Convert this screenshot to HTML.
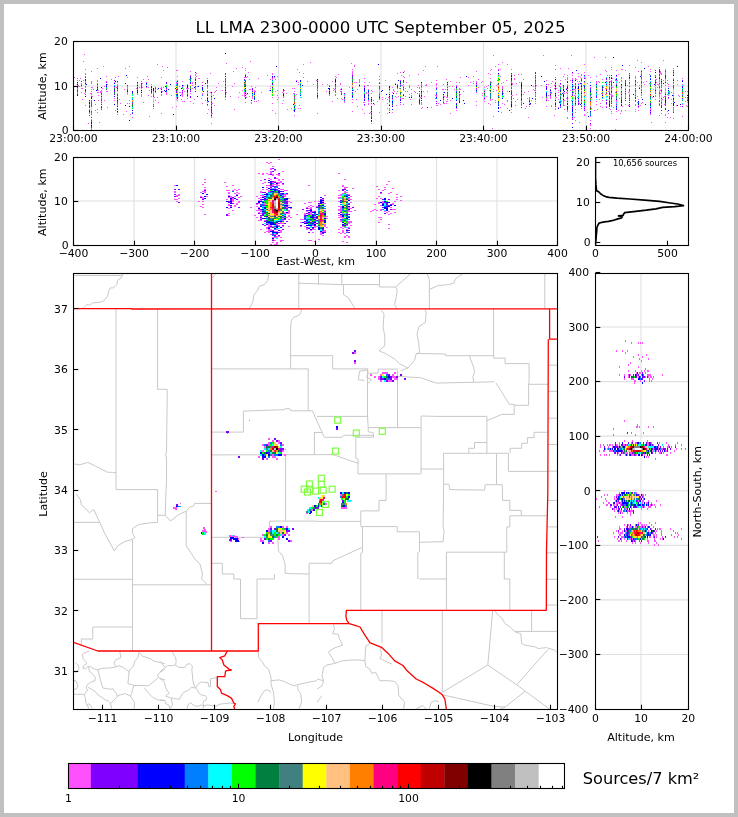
<!DOCTYPE html>
<html><head><meta charset="utf-8"><style>
html,body{margin:0;padding:0;background:#c0c0c0;}
#f{position:absolute;left:4px;top:4px;width:730px;height:809px;background:#fff;}
svg{position:absolute;left:0;top:0;will-change:transform;}
text{font-family:"DejaVu Sans","Liberation Sans",sans-serif;fill:#000;}
</style></head><body><div id="f"></div>
<svg width="738" height="817" viewBox="0 0 738 817">
<defs>
<clipPath id="c1"><rect x="73.5" y="41.5" width="615.00" height="89.00"/></clipPath>
<clipPath id="c2"><rect x="73.5" y="157.5" width="484.00" height="88.00"/></clipPath>
<clipPath id="c3"><rect x="595.5" y="157.5" width="93.00" height="88.00"/></clipPath>
<clipPath id="c4"><rect x="73.5" y="273.5" width="484.00" height="436.00"/></clipPath>
<clipPath id="c5"><rect x="595.5" y="273.5" width="93.00" height="436.00"/></clipPath>
</defs>
<line x1="176.00" y1="41.50" x2="176.00" y2="130.50" stroke="#e0e0e0" stroke-width="1.1" />
<line x1="278.50" y1="41.50" x2="278.50" y2="130.50" stroke="#e0e0e0" stroke-width="1.1" />
<line x1="381.00" y1="41.50" x2="381.00" y2="130.50" stroke="#e0e0e0" stroke-width="1.1" />
<line x1="483.50" y1="41.50" x2="483.50" y2="130.50" stroke="#e0e0e0" stroke-width="1.1" />
<line x1="586.00" y1="41.50" x2="586.00" y2="130.50" stroke="#e0e0e0" stroke-width="1.1" />
<line x1="73.50" y1="86.00" x2="688.50" y2="86.00" stroke="#e0e0e0" stroke-width="1.1" />
<line x1="134.00" y1="157.50" x2="134.00" y2="245.50" stroke="#e0e0e0" stroke-width="1.1" />
<line x1="194.50" y1="157.50" x2="194.50" y2="245.50" stroke="#e0e0e0" stroke-width="1.1" />
<line x1="255.00" y1="157.50" x2="255.00" y2="245.50" stroke="#e0e0e0" stroke-width="1.1" />
<line x1="315.50" y1="157.50" x2="315.50" y2="245.50" stroke="#e0e0e0" stroke-width="1.1" />
<line x1="376.00" y1="157.50" x2="376.00" y2="245.50" stroke="#e0e0e0" stroke-width="1.1" />
<line x1="436.50" y1="157.50" x2="436.50" y2="245.50" stroke="#e0e0e0" stroke-width="1.1" />
<line x1="497.00" y1="157.50" x2="497.00" y2="245.50" stroke="#e0e0e0" stroke-width="1.1" />
<line x1="73.50" y1="201.00" x2="557.50" y2="201.00" stroke="#e0e0e0" stroke-width="1.1" />
<line x1="641.00" y1="273.50" x2="641.00" y2="709.50" stroke="#e0e0e0" stroke-width="1.1" />
<line x1="595.50" y1="654.49" x2="688.50" y2="654.49" stroke="#e0e0e0" stroke-width="1.1" />
<line x1="595.50" y1="599.91" x2="688.50" y2="599.91" stroke="#e0e0e0" stroke-width="1.1" />
<line x1="595.50" y1="545.33" x2="688.50" y2="545.33" stroke="#e0e0e0" stroke-width="1.1" />
<line x1="595.50" y1="490.75" x2="688.50" y2="490.75" stroke="#e0e0e0" stroke-width="1.1" />
<line x1="595.50" y1="436.17" x2="688.50" y2="436.17" stroke="#e0e0e0" stroke-width="1.1" />
<line x1="595.50" y1="381.59" x2="688.50" y2="381.59" stroke="#e0e0e0" stroke-width="1.1" />
<line x1="595.50" y1="327.01" x2="688.50" y2="327.01" stroke="#e0e0e0" stroke-width="1.1" />
<g clip-path="url(#c4)">
<polyline points="73.5,275.5 122.6,275.5" fill="none" stroke="#c8c8c8" stroke-width="1.0" stroke-linejoin="round" />
<polyline points="124.5,273.5 122.6,274.7 121.0,278.0 117.6,280.4 116.8,284.6 113.5,287.9 110.2,287.9 108.5,291.2 107.7,296.1 103.6,301.1 99.5,302.4 92.8,302.8 89.5,305.2 87.0,304.4 85.4,306.1 83.7,307.7 82.0,308.7" fill="none" stroke="#c8c8c8" stroke-width="1.0" stroke-linejoin="round" />
<polyline points="116.0,308.7 116.0,473.1" fill="none" stroke="#c8c8c8" stroke-width="1.0" stroke-linejoin="round" />
<polyline points="157.6,308.7 157.6,389.3 167.2,389.3 167.2,398.0 166.5,452.0 165.7,455.0 166.5,458.0 166.5,480.0 165.9,493.0" fill="none" stroke="#c8c8c8" stroke-width="1.0" stroke-linejoin="round" />
<polyline points="212.4,278.0 215.7,273.8" fill="none" stroke="#c8c8c8" stroke-width="1.0" stroke-linejoin="round" />
<polyline points="268.6,273.8 267.7,280.4 264.4,284.6 259.5,286.2 257.0,291.2 253.7,295.3 252.9,301.9 250.4,306.9 248.7,308.6" fill="none" stroke="#c8c8c8" stroke-width="1.0" stroke-linejoin="round" />
<polyline points="298.8,273.5 298.8,308.6" fill="none" stroke="#c8c8c8" stroke-width="1.0" stroke-linejoin="round" />
<polyline points="298.8,283.2 341.8,284.6" fill="none" stroke="#c8c8c8" stroke-width="1.0" stroke-linejoin="round" />
<polyline points="301.6,308.8 300.8,312.7 299.1,315.2 293.4,317.6 291.2,320.9 290.6,327.6 290.6,368.9" fill="none" stroke="#c8c8c8" stroke-width="1.0" stroke-linejoin="round" />
<polyline points="211.5,368.9 308.2,368.9 308.2,411.1" fill="none" stroke="#c8c8c8" stroke-width="1.0" stroke-linejoin="round" />
<polyline points="290.6,355.7 332.7,355.7 332.7,368.9 368.2,368.9" fill="none" stroke="#c8c8c8" stroke-width="1.0" stroke-linejoin="round" />
<polyline points="341.8,273.5 341.8,284.6 379.8,284.6" fill="none" stroke="#c8c8c8" stroke-width="1.0" stroke-linejoin="round" />
<polyline points="379.5,273.5 379.5,287.0 395.5,287.0 409.6,274.7 410.5,273.5" fill="none" stroke="#c8c8c8" stroke-width="1.0" stroke-linejoin="round" />
<polyline points="395.5,287.0 397.2,289.5 396.4,296.1 394.7,304.4 396.4,307.7 397.0,308.7" fill="none" stroke="#c8c8c8" stroke-width="1.0" stroke-linejoin="round" />
<polyline points="343.5,284.6 343.5,294.5 348.4,297.8 355.0,308.7" fill="none" stroke="#c8c8c8" stroke-width="1.0" stroke-linejoin="round" />
<polyline points="426.9,273.8 429.4,279.6 429.4,308.7" fill="none" stroke="#c8c8c8" stroke-width="1.0" stroke-linejoin="round" />
<polyline points="429.4,289.5 438.5,285.4 439.0,285.4 448.9,284.6 453.9,282.9 455.5,278.8 458.8,276.3 463.0,273.8" fill="none" stroke="#c8c8c8" stroke-width="1.0" stroke-linejoin="round" />
<polyline points="544.8,273.5 544.8,308.7" fill="none" stroke="#c8c8c8" stroke-width="1.0" stroke-linejoin="round" />
<polyline points="318.5,273.5 318.5,284.6" fill="none" stroke="#c8c8c8" stroke-width="1.0" stroke-linejoin="round" />
<polyline points="381.5,310.2 384.0,314.3 383.1,327.6 384.8,335.8 384.8,345.7 379.0,350.7 386.4,354.0 394.7,359.0 399.7,363.9 407.9,368.0 401.3,370.5" fill="none" stroke="#c8c8c8" stroke-width="1.0" stroke-linejoin="round" />
<polyline points="425.3,309.2 426.1,313.5 425.3,322.6 418.7,326.7 417.0,334.2 418.7,342.4 419.5,352.4 416.2,354.0 414.5,360.6 407.9,368.0" fill="none" stroke="#c8c8c8" stroke-width="1.0" stroke-linejoin="round" />
<polyline points="416.2,353.5 445.6,354.0 445.6,355.7 493.6,355.7" fill="none" stroke="#c8c8c8" stroke-width="1.0" stroke-linejoin="round" />
<polyline points="493.6,308.8 493.6,358.1 505.1,358.1 505.1,363.6 529.1,363.6 529.1,383.0" fill="none" stroke="#c8c8c8" stroke-width="1.0" stroke-linejoin="round" />
<polyline points="469.6,355.7 470.4,359.0 473.7,367.2 474.5,372.2 472.9,376.3 473.7,382.1" fill="none" stroke="#c8c8c8" stroke-width="1.0" stroke-linejoin="round" />
<polyline points="397.5,376.4 420.4,377.7 436.6,383.1 494.5,381.8" fill="none" stroke="#c8c8c8" stroke-width="1.0" stroke-linejoin="round" />
<polyline points="367.6,369.1 367.6,373.2 378.2,373.2 378.2,369.1 397.7,369.1" fill="none" stroke="#c8c8c8" stroke-width="1.0" stroke-linejoin="round" />
<polyline points="359.5,371.2 366.8,370.0 368.0,370.8 366.8,377.3 371.7,379.7 368.5,382.6 366.8,383.8" fill="none" stroke="#c8c8c8" stroke-width="1.0" stroke-linejoin="round" />
<polyline points="359.5,371.2 358.3,379.7 364.4,380.5" fill="none" stroke="#c8c8c8" stroke-width="1.0" stroke-linejoin="round" />
<polyline points="548.1,365.2 557.4,365.2" fill="none" stroke="#c8c8c8" stroke-width="1.0" stroke-linejoin="round" />
<polyline points="74.7,464.0 79.6,464.8 87.9,462.4 94.5,465.7 99.5,468.1 107.7,472.3 112.7,472.3 116.0,473.1" fill="none" stroke="#c8c8c8" stroke-width="1.0" stroke-linejoin="round" />
<polyline points="116.0,473.1 116.0,489.6 157.6,489.6 157.6,522.4" fill="none" stroke="#c8c8c8" stroke-width="1.0" stroke-linejoin="round" />
<polyline points="243.4,411.1 280.0,409.8 284.3,409.8 284.8,408.7 289.8,408.7 290.8,410.8 312.5,410.8 316.5,420.2" fill="none" stroke="#c8c8c8" stroke-width="1.0" stroke-linejoin="round" />
<polyline points="243.4,411.1 243.4,432.1 211.5,432.1" fill="none" stroke="#c8c8c8" stroke-width="1.0" stroke-linejoin="round" />
<polyline points="211.5,454.9 333.1,454.6 358.0,463.3" fill="none" stroke="#c8c8c8" stroke-width="1.0" stroke-linejoin="round" />
<polyline points="285.6,454.9 285.6,521.1" fill="none" stroke="#c8c8c8" stroke-width="1.0" stroke-linejoin="round" />
<polyline points="314.4,432.1 314.4,454.9" fill="none" stroke="#c8c8c8" stroke-width="1.0" stroke-linejoin="round" />
<polyline points="314.3,432.5 322.3,432.5" fill="none" stroke="#c8c8c8" stroke-width="1.0" stroke-linejoin="round" />
<polyline points="367.5,368.9 367.5,416.0 368.2,427.6 420.8,427.6" fill="none" stroke="#c8c8c8" stroke-width="1.0" stroke-linejoin="round" />
<polyline points="317.0,416.4 368.2,416.4" fill="none" stroke="#c8c8c8" stroke-width="1.0" stroke-linejoin="round" />
<polyline points="397.5,370.5 397.5,427.3" fill="none" stroke="#c8c8c8" stroke-width="1.0" stroke-linejoin="round" />
<polyline points="421.1,416.0 421.1,469.0 420.8,473.9" fill="none" stroke="#c8c8c8" stroke-width="1.0" stroke-linejoin="round" />
<polyline points="421.1,416.0 439.0,416.4" fill="none" stroke="#c8c8c8" stroke-width="1.0" stroke-linejoin="round" />
<polyline points="420.8,469.0 443.6,469.0" fill="none" stroke="#c8c8c8" stroke-width="1.0" stroke-linejoin="round" />
<polyline points="368.2,427.6 368.2,431.8 373.2,432.6 373.5,437.2 355.8,437.2 355.8,458.2 358.0,459.0 358.0,473.9 420.3,473.9" fill="none" stroke="#c8c8c8" stroke-width="1.0" stroke-linejoin="round" />
<polyline points="316.5,420.2 324.4,437.3 342.0,437.3 343.5,435.3 373.2,435.3" fill="none" stroke="#c8c8c8" stroke-width="1.0" stroke-linejoin="round" />
<polyline points="386.1,473.9 386.1,500.4 379.0,500.4 379.0,510.9 360.8,510.9 360.8,526.1" fill="none" stroke="#c8c8c8" stroke-width="1.0" stroke-linejoin="round" />
<polyline points="496.0,383.0 509.3,404.2 514.2,404.5 514.2,414.4 501.8,414.4 486.9,420.7" fill="none" stroke="#c8c8c8" stroke-width="1.0" stroke-linejoin="round" />
<polyline points="528.6,383.0 528.6,405.3 514.2,405.3" fill="none" stroke="#c8c8c8" stroke-width="1.0" stroke-linejoin="round" />
<polyline points="528.6,384.3 548.0,384.3" fill="none" stroke="#c8c8c8" stroke-width="1.0" stroke-linejoin="round" />
<polyline points="439.0,416.4 486.9,416.4 486.9,453.3" fill="none" stroke="#c8c8c8" stroke-width="1.0" stroke-linejoin="round" />
<polyline points="443.6,453.3 508.4,453.3" fill="none" stroke="#c8c8c8" stroke-width="1.0" stroke-linejoin="round" />
<polyline points="468.8,453.3 468.8,448.3 474.5,448.3 474.5,442.5 486.9,442.5" fill="none" stroke="#c8c8c8" stroke-width="1.0" stroke-linejoin="round" />
<polyline points="510.1,453.3 510.1,448.3 521.7,448.3 521.7,443.3 527.4,443.3 527.4,437.6 534.1,437.6 534.1,432.3 547.3,432.3" fill="none" stroke="#c8c8c8" stroke-width="1.0" stroke-linejoin="round" />
<polyline points="508.4,453.3 508.4,471.4 547.5,471.4" fill="none" stroke="#c8c8c8" stroke-width="1.0" stroke-linejoin="round" />
<polyline points="496.5,453.3 496.5,484.7" fill="none" stroke="#c8c8c8" stroke-width="1.0" stroke-linejoin="round" />
<polyline points="443.6,453.3 443.6,484.2 448.9,484.2 449.7,489.6 484.5,490.1 485.3,484.7 502.3,484.7 502.6,500.4 509.8,500.4 509.8,510.4 521.2,510.4 521.2,515.8" fill="none" stroke="#c8c8c8" stroke-width="1.0" stroke-linejoin="round" />
<polyline points="509.8,515.8 546.8,515.8" fill="none" stroke="#c8c8c8" stroke-width="1.0" stroke-linejoin="round" />
<polyline points="509.8,515.8 509.8,526.9 506.8,526.9 506.8,552.2 446.4,552.2 446.4,609.5" fill="none" stroke="#c8c8c8" stroke-width="1.0" stroke-linejoin="round" />
<polyline points="443.6,484.2 443.1,526.9 444.0,531.0 443.1,541.8 439.0,541.8 419.5,542.3" fill="none" stroke="#c8c8c8" stroke-width="1.0" stroke-linejoin="round" />
<polyline points="504.3,552.2 504.3,579.0 509.8,579.0 509.8,610.4" fill="none" stroke="#c8c8c8" stroke-width="1.0" stroke-linejoin="round" />
<polyline points="419.5,579.0 446.4,579.0" fill="none" stroke="#c8c8c8" stroke-width="1.0" stroke-linejoin="round" />
<polyline points="548.0,391.3 557.4,391.3" fill="none" stroke="#c8c8c8" stroke-width="1.0" stroke-linejoin="round" />
<polyline points="548.0,418.2 557.4,418.2" fill="none" stroke="#c8c8c8" stroke-width="1.0" stroke-linejoin="round" />
<polyline points="547.8,444.5 557.4,444.5" fill="none" stroke="#c8c8c8" stroke-width="1.0" stroke-linejoin="round" />
<polyline points="547.6,471.1 557.4,471.1" fill="none" stroke="#c8c8c8" stroke-width="1.0" stroke-linejoin="round" />
<polyline points="547.8,500.4 557.4,500.4" fill="none" stroke="#c8c8c8" stroke-width="1.0" stroke-linejoin="round" />
<polyline points="547.2,526.9 557.4,526.9" fill="none" stroke="#c8c8c8" stroke-width="1.0" stroke-linejoin="round" />
<polyline points="546.5,552.8 557.4,552.8" fill="none" stroke="#c8c8c8" stroke-width="1.0" stroke-linejoin="round" />
<polyline points="546.3,579.3 557.4,579.3" fill="none" stroke="#c8c8c8" stroke-width="1.0" stroke-linejoin="round" />
<polyline points="546.5,605.0 557.4,605.0" fill="none" stroke="#c8c8c8" stroke-width="1.0" stroke-linejoin="round" />
<polyline points="76.3,493.8 80.4,499.6 81.3,504.6 89.5,512.8 93.7,509.5 99.5,521.9 104.4,532.7 114.3,550.9 117.6,545.9 124.2,541.8 132.5,539.3 135.0,537.6 132.5,533.5 132.5,528.5 139.1,524.4 150.7,522.8 157.6,522.4" fill="none" stroke="#c8c8c8" stroke-width="1.0" stroke-linejoin="round" />
<polyline points="73.5,522.4 99.5,522.4" fill="none" stroke="#c8c8c8" stroke-width="1.0" stroke-linejoin="round" />
<polyline points="165.9,493.0 165.2,515.3 157.6,515.3" fill="none" stroke="#c8c8c8" stroke-width="1.0" stroke-linejoin="round" />
<polyline points="165.2,515.3 170.5,521.1 178.8,514.5 186.3,511.1 189.8,507.1 193.8,505.9 194.4,503.4" fill="none" stroke="#c8c8c8" stroke-width="1.0" stroke-linejoin="round" />
<polyline points="132.5,539.3 132.5,651.0" fill="none" stroke="#c8c8c8" stroke-width="1.0" stroke-linejoin="round" />
<polyline points="73.5,579.3 132.5,579.3" fill="none" stroke="#c8c8c8" stroke-width="1.0" stroke-linejoin="round" />
<polyline points="132.5,584.8 210.7,584.8" fill="none" stroke="#c8c8c8" stroke-width="1.0" stroke-linejoin="round" />
<polyline points="186.2,511.2 186.2,545.9 195.0,559.1 200.0,564.1 202.4,574.0 201.6,579.0 207.4,584.8" fill="none" stroke="#c8c8c8" stroke-width="1.0" stroke-linejoin="round" />
<polyline points="194.4,503.4 211.5,503.4" fill="none" stroke="#c8c8c8" stroke-width="1.0" stroke-linejoin="round" />
<polyline points="211.5,537.3 264.4,537.3" fill="none" stroke="#c8c8c8" stroke-width="1.0" stroke-linejoin="round" />
<polyline points="269.4,521.1 317.0,521.1" fill="none" stroke="#c8c8c8" stroke-width="1.0" stroke-linejoin="round" />
<polyline points="269.4,521.1 269.4,537.3" fill="none" stroke="#c8c8c8" stroke-width="1.0" stroke-linejoin="round" />
<polyline points="277.7,537.6 278.5,550.9 282.6,555.8 285.1,564.1 285.1,573.2 290.9,573.7 309.1,574.0" fill="none" stroke="#c8c8c8" stroke-width="1.0" stroke-linejoin="round" />
<polyline points="274.4,574.0 274.4,579.0 257.0,579.0 257.0,618.7 240.5,618.7 240.5,579.0 233.8,579.0 233.8,574.0 222.3,574.0 222.3,563.3 211.5,563.3" fill="none" stroke="#c8c8c8" stroke-width="1.0" stroke-linejoin="round" />
<polyline points="309.1,563.3 309.1,623.7" fill="none" stroke="#c8c8c8" stroke-width="1.0" stroke-linejoin="round" />
<polyline points="309.1,563.3 317.0,563.3" fill="none" stroke="#c8c8c8" stroke-width="1.0" stroke-linejoin="round" />
<polyline points="317.0,521.4 360.8,521.4" fill="none" stroke="#c8c8c8" stroke-width="1.0" stroke-linejoin="round" />
<polyline points="360.8,526.6 397.2,526.6 397.2,531.8 419.5,531.8 419.5,551.7 417.8,552.5 417.8,579.0" fill="none" stroke="#c8c8c8" stroke-width="1.0" stroke-linejoin="round" />
<polyline points="362.5,526.6 362.5,552.5 360.8,553.3 360.8,610.4" fill="none" stroke="#c8c8c8" stroke-width="1.0" stroke-linejoin="round" />
<polyline points="362.5,547.2 332.7,560.8 331.9,563.3 317.0,563.3" fill="none" stroke="#c8c8c8" stroke-width="1.0" stroke-linejoin="round" />
<polyline points="92.8,627.0 132.5,627.0" fill="none" stroke="#c8c8c8" stroke-width="1.0" stroke-linejoin="round" />
<polyline points="92.8,627.0 92.8,639.0 81.3,639.0 81.3,645.5" fill="none" stroke="#c8c8c8" stroke-width="1.0" stroke-linejoin="round" />
<polyline points="382.0,610.4 382.0,642.7" fill="none" stroke="#c8c8c8" stroke-width="1.0" stroke-linejoin="round" />
<polyline points="442.3,610.4 442.3,692.3" fill="none" stroke="#c8c8c8" stroke-width="1.0" stroke-linejoin="round" />
<polyline points="492.7,610.4 487.8,665.0 442.3,692.3" fill="none" stroke="#c8c8c8" stroke-width="1.0" stroke-linejoin="round" />
<polyline points="487.8,665.0 516.7,684.8 549.8,709.3" fill="none" stroke="#c8c8c8" stroke-width="1.0" stroke-linejoin="round" />
<polyline points="516.7,684.8 548.1,649.3" fill="none" stroke="#c8c8c8" stroke-width="1.0" stroke-linejoin="round" />
<polyline points="525.0,691.4 505.1,707.1 500.0,709.3" fill="none" stroke="#c8c8c8" stroke-width="1.0" stroke-linejoin="round" />
<polyline points="442.3,694.8 493.6,706.3 505.1,707.1" fill="none" stroke="#c8c8c8" stroke-width="1.0" stroke-linejoin="round" />
<polyline points="494.4,610.4 498.5,615.4 501.8,617.9 505.1,623.7 510.1,627.0 515.0,631.9 520.8,633.6 521.7,643.5 525.0,645.2 534.9,646.8 538.2,648.5 546.5,647.6 554.7,650.1 557.4,652.6" fill="none" stroke="#c8c8c8" stroke-width="1.0" stroke-linejoin="round" />
<polyline points="515.0,631.4 557.4,631.4" fill="none" stroke="#c8c8c8" stroke-width="1.0" stroke-linejoin="round" />
<polyline points="531.6,610.4 531.6,631.4" fill="none" stroke="#c8c8c8" stroke-width="1.0" stroke-linejoin="round" />
<polyline points="89.2,651.0 84.2,653.1 82.4,654.4 83.0,658.7 85.5,661.2 86.7,663.7 83.6,665.6 83.0,668.1 85.5,668.7 87.3,666.8 89.2,666.2 91.7,667.4 94.2,668.7 96.7,669.9" fill="none" stroke="#c8c8c8" stroke-width="1.0" stroke-linejoin="round" />
<polyline points="75.5,662.5 78.0,665.0 79.2,668.7 76.7,671.8 74.9,672.4" fill="none" stroke="#c8c8c8" stroke-width="1.0" stroke-linejoin="round" />
<polyline points="73.0,679.9 76.1,681.2 78.0,686.1 76.7,688.6 73.0,689.9" fill="none" stroke="#c8c8c8" stroke-width="1.0" stroke-linejoin="round" />
<polyline points="88.6,666.2 89.2,671.2 92.3,673.7 95.4,677.4 94.8,681.2 93.0,681.2 90.5,682.4 87.3,684.9 86.1,688.0 88.0,689.9 85.5,692.4 84.2,694.9 85.5,698.6 86.1,703.6 88.0,706.1 88.6,708.6" fill="none" stroke="#c8c8c8" stroke-width="1.0" stroke-linejoin="round" />
<polyline points="96.7,669.9 102.9,668.1 109.2,668.1 114.1,667.4 116.0,666.8 119.1,665.6 122.9,667.4 126.6,669.9 129.1,671.8" fill="none" stroke="#c8c8c8" stroke-width="1.0" stroke-linejoin="round" />
<polyline points="119.8,651.9 121.0,657.5 115.4,660.0 114.1,663.7 116.0,666.8" fill="none" stroke="#c8c8c8" stroke-width="1.0" stroke-linejoin="round" />
<polyline points="129.1,671.8 128.5,677.4 127.9,683.7 130.4,684.3 134.1,685.5 132.9,688.6 131.6,693.6 130.4,696.1 132.9,699.9 134.7,702.4 134.1,708.6" fill="none" stroke="#c8c8c8" stroke-width="1.0" stroke-linejoin="round" />
<polyline points="139.1,651.9 137.8,657.5 134.7,661.2 133.5,666.2 130.4,668.7 129.1,671.8" fill="none" stroke="#c8c8c8" stroke-width="1.0" stroke-linejoin="round" />
<polyline points="139.1,652.5 142.8,656.2 150.3,658.7 154.0,661.2 160.3,662.5 165.0,663.7" fill="none" stroke="#c8c8c8" stroke-width="1.0" stroke-linejoin="round" />
<polyline points="165.0,668.7 160.3,672.4 157.2,674.9 159.0,678.0 165.0,679.9" fill="none" stroke="#c8c8c8" stroke-width="1.0" stroke-linejoin="round" />
<polyline points="134.1,685.5 145.3,685.5 147.8,686.1 152.8,682.4 157.8,678.0" fill="none" stroke="#c8c8c8" stroke-width="1.0" stroke-linejoin="round" />
<polyline points="144.1,687.4 147.8,692.4 152.8,697.4 157.8,699.9 165.0,700.5" fill="none" stroke="#c8c8c8" stroke-width="1.0" stroke-linejoin="round" />
<polyline points="97.9,669.9 99.2,674.9 100.4,679.9 102.3,686.1 102.9,688.0 106.7,688.6 110.4,689.3 112.9,688.6 114.1,691.1 116.0,692.4 117.3,696.1 120.4,694.9 125.4,693.6 130.4,696.1" fill="none" stroke="#c8c8c8" stroke-width="1.0" stroke-linejoin="round" />
<polyline points="88.0,687.4 91.7,689.3 94.8,691.1 97.9,694.9 101.7,697.4 105.4,699.9 108.5,701.1 110.4,703.6 111.7,708.6" fill="none" stroke="#c8c8c8" stroke-width="1.0" stroke-linejoin="round" />
<polyline points="110.4,703.6 114.1,699.9 116.6,697.4 117.3,696.1" fill="none" stroke="#c8c8c8" stroke-width="1.0" stroke-linejoin="round" />
<polyline points="73.0,694.3 83.6,694.3" fill="none" stroke="#c8c8c8" stroke-width="1.0" stroke-linejoin="round" />
<polyline points="86.7,706.1 88.6,703.6 91.1,706.1 92.3,708.6" fill="none" stroke="#c8c8c8" stroke-width="1.0" stroke-linejoin="round" />
<polyline points="172.5,651.2 173.7,655.0 175.6,657.5 176.2,661.2 175.6,665.0 172.5,665.6 167.5,665.6 165.0,667.4 162.5,669.9 160.0,671.8" fill="none" stroke="#c8c8c8" stroke-width="1.0" stroke-linejoin="round" />
<polyline points="160.0,661.2 161.9,663.7 165.0,667.4" fill="none" stroke="#c8c8c8" stroke-width="1.0" stroke-linejoin="round" />
<polyline points="175.6,665.0 178.7,667.4 184.9,667.4 186.8,664.3 189.9,663.7 192.4,666.2 191.8,669.9 192.4,674.9 193.0,681.2 194.3,686.1 195.5,688.0" fill="none" stroke="#c8c8c8" stroke-width="1.0" stroke-linejoin="round" />
<polyline points="195.5,688.0 197.4,684.9 201.1,681.8 203.6,682.4 208.0,682.4 208.6,686.1 210.5,686.8 210.5,678.7 214.9,678.0 216.7,678.0" fill="none" stroke="#c8c8c8" stroke-width="1.0" stroke-linejoin="round" />
<polyline points="195.5,688.0 191.2,687.4 188.7,689.9 184.9,691.8 182.4,693.6 181.2,696.1 179.3,699.2 173.7,698.6 171.2,698.0" fill="none" stroke="#c8c8c8" stroke-width="1.0" stroke-linejoin="round" />
<polyline points="195.5,688.0 197.4,689.9 198.7,693.0 201.1,694.9 204.9,695.5 206.8,697.4 206.1,699.9 203.6,701.1 203.0,703.6 203.6,706.1 203.0,708.6" fill="none" stroke="#c8c8c8" stroke-width="1.0" stroke-linejoin="round" />
<polyline points="160.0,678.7 162.5,679.9 164.4,682.4 165.6,687.4 167.5,691.1 169.4,693.0 166.9,694.9 165.6,696.1 169.4,697.4 171.2,698.0 171.8,701.1 172.5,704.9 170.0,708.6" fill="none" stroke="#c8c8c8" stroke-width="1.0" stroke-linejoin="round" />
<polyline points="160.0,699.9 165.0,700.5 165.6,703.6 168.7,704.9 170.0,708.6" fill="none" stroke="#c8c8c8" stroke-width="1.0" stroke-linejoin="round" />
<polyline points="186.8,708.6 188.1,704.9 190.5,702.4 193.0,704.9 194.9,706.1 198.7,706.1 201.1,704.9 203.6,706.1" fill="none" stroke="#c8c8c8" stroke-width="1.0" stroke-linejoin="round" />
<polyline points="203.6,706.1 207.4,704.9 211.1,705.5 216.1,706.1 219.9,704.2 224.8,703.6 229.8,703.0 233.6,703.6" fill="none" stroke="#c8c8c8" stroke-width="1.0" stroke-linejoin="round" />
<polyline points="258.3,650.9 258.6,657.6 262.8,662.5 264.4,665.8 268.6,669.1 271.0,677.4 271.0,684.0 273.5,692.3 274.4,702.2 273.5,708.8" fill="none" stroke="#c8c8c8" stroke-width="1.0" stroke-linejoin="round" />
<polyline points="271.0,680.7 279.3,679.9 284.3,681.5 289.2,684.0 294.2,685.7 300.8,684.0 307.4,682.4 317.0,680.7" fill="none" stroke="#c8c8c8" stroke-width="1.0" stroke-linejoin="round" />
<polyline points="297.5,685.7 298.3,690.6 300.8,693.9 301.6,702.2 299.1,708.8" fill="none" stroke="#c8c8c8" stroke-width="1.0" stroke-linejoin="round" />
<polyline points="257.8,702.2 261.1,695.6 264.4,690.6 267.7,689.8 271.0,692.3" fill="none" stroke="#c8c8c8" stroke-width="1.0" stroke-linejoin="round" />
<polyline points="333.5,624.5 334.4,629.5 332.7,633.6 338.5,634.4 339.3,638.5 342.6,645.2 335.2,647.6 329.4,650.9 328.6,652.6 331.9,657.6 335.2,663.3 341.8,660.9 351.7,660.0 360.0,660.0 364.9,660.9 365.8,646.0 369.9,643.5" fill="none" stroke="#c8c8c8" stroke-width="1.0" stroke-linejoin="round" />
<polyline points="364.9,660.9 365.8,666.6 369.9,669.1 371.6,673.3 375.7,672.4 379.8,680.7 388.1,680.7 394.7,681.5 398.0,685.7 398.8,695.6 404.6,702.2 403.8,708.8" fill="none" stroke="#c8c8c8" stroke-width="1.0" stroke-linejoin="round" />
<polyline points="335.2,663.3 326.9,665.0 323.6,667.5 322.0,675.7 323.6,680.7 322.0,685.7 317.0,689.0" fill="none" stroke="#c8c8c8" stroke-width="1.0" stroke-linejoin="round" />
<polyline points="317.0,679.0 323.6,680.7" fill="none" stroke="#c8c8c8" stroke-width="1.0" stroke-linejoin="round" />
<polyline points="380.6,647.6 381.5,655.9 379.8,658.4 384.8,660.9 392.2,664.2" fill="none" stroke="#c8c8c8" stroke-width="1.0" stroke-linejoin="round" />
<polyline points="322.0,695.6 317.0,702.2" fill="none" stroke="#c8c8c8" stroke-width="1.0" stroke-linejoin="round" />
<polyline points="416.2,708.8 422.8,705.5 426.1,708.8" fill="none" stroke="#c8c8c8" stroke-width="1.0" stroke-linejoin="round" />
<polyline points="429.4,708.8 431.1,702.2 436.0,700.5 439.0,702.2" fill="none" stroke="#c8c8c8" stroke-width="1.0" stroke-linejoin="round" />
<polyline points="73.5,308.6 131.7,308.6 131.7,309.0 557.4,308.8" fill="none" stroke="#ff0000" stroke-width="1.3" stroke-linejoin="round" />
<polyline points="211.5,273.5 211.5,651.0" fill="none" stroke="#ff0000" stroke-width="1.3" stroke-linejoin="round" />
<polyline points="73.5,642.3 97.8,651.0 258.3,651.0 258.3,623.7 349.2,623.7" fill="none" stroke="#ff0000" stroke-width="1.3" stroke-linejoin="round" />
<polyline points="349.2,623.7 346.8,620.4 345.9,616.2 346.4,610.4 546.5,610.4" fill="none" stroke="#ff0000" stroke-width="1.3" stroke-linejoin="round" />
<polyline points="549.6,308.8 549.6,339.2 557.4,339.2" fill="none" stroke="#ff0000" stroke-width="1.3" stroke-linejoin="round" />
<polyline points="548.3,339.2 547.8,493.0 546.5,550.9 546.3,610.4" fill="none" stroke="#ff0000" stroke-width="1.3" stroke-linejoin="round" />
<polyline points="349.2,623.7 355.0,625.3 360.0,627.0 364.9,635.2 369.9,642.7 374.0,644.3 381.5,647.3 388.1,653.4 394.7,660.9 403.0,665.5 407.1,670.8 416.2,679.0 424.5,683.2 432.7,688.1 439.0,692.3 442.3,694.8 444.8,698.9 445.6,703.8 446.4,709.3" fill="none" stroke="#ff0000" stroke-width="1.3" stroke-linejoin="round" />
<polyline points="227.2,651.0 224.8,655.9 219.8,657.6 222.3,660.0 223.9,665.0 228.9,669.1 231.4,670.0 225.6,670.8 224.8,676.6 217.3,676.6 217.3,686.5 220.6,689.8 221.5,693.1 227.2,695.6 231.4,698.1 233.8,703.0 235.5,703.8 233.8,706.3 234.7,709.3" fill="none" stroke="#ff0000" stroke-width="1.3" stroke-linejoin="round" />
</g>
<g clip-path="url(#c2)" shape-rendering="crispEdges">
<path fill="#ff50ff" d="M277.5 158.5h2v1h-2zM265.5 161.5h2v1h-2zM269.5 161.5h2v1h-2zM267.5 162.5h2v1h-2zM271.5 165.5h2v1h-2zM269.5 167.5h2v1h-2zM269.5 168.5h2v1h-2zM273.5 169.5h2v1h-2zM269.5 170.5h2v1h-2zM281.5 170.5h2v1h-2zM269.5 171.5h2v1h-2zM257.5 172.5h2v1h-2zM261.5 172.5h2v1h-2zM265.5 172.5h2v1h-2zM269.5 172.5h2v1h-2zM337.5 172.5h2v1h-2zM261.5 173.5h2v1h-2zM267.5 173.5h2v1h-2zM271.5 173.5h2v1h-2zM275.5 173.5h4v1h-4zM271.5 174.5h2v1h-2zM277.5 174.5h2v1h-2zM267.5 177.5h2v1h-2zM275.5 177.5h2v1h-2zM203.5 178.5h2v1h-2zM269.5 178.5h2v1h-2zM277.5 178.5h2v1h-2zM281.5 178.5h2v1h-2zM343.5 178.5h2v1h-2zM259.5 179.5h2v1h-2zM277.5 179.5h2v1h-2zM273.5 180.5h2v1h-2zM279.5 180.5h2v1h-2zM387.5 180.5h2v1h-2zM203.5 181.5h2v1h-2zM223.5 181.5h2v1h-2zM263.5 181.5h2v1h-2zM271.5 181.5h2v1h-2zM275.5 181.5h6v1h-6zM261.5 182.5h2v1h-2zM277.5 182.5h2v1h-2zM201.5 183.5h2v1h-2zM271.5 183.5h6v1h-6zM281.5 183.5h2v1h-2zM385.5 183.5h2v1h-2zM173.5 184.5h2v1h-2zM231.5 184.5h2v1h-2zM265.5 184.5h4v1h-4zM271.5 184.5h2v1h-2zM275.5 184.5h4v1h-4zM307.5 184.5h2v1h-2zM341.5 184.5h2v1h-2zM225.5 185.5h2v1h-2zM269.5 185.5h2v1h-2zM341.5 185.5h2v1h-2zM375.5 185.5h2v1h-2zM203.5 186.5h2v1h-2zM265.5 186.5h2v1h-2zM343.5 186.5h4v1h-4zM383.5 186.5h2v1h-2zM269.5 187.5h2v1h-2zM273.5 187.5h2v1h-2zM343.5 187.5h2v1h-2zM351.5 187.5h2v1h-2zM391.5 187.5h2v1h-2zM203.5 188.5h2v1h-2zM233.5 188.5h2v1h-2zM237.5 188.5h2v1h-2zM261.5 188.5h2v1h-2zM265.5 188.5h2v1h-2zM279.5 188.5h4v1h-4zM377.5 188.5h2v1h-2zM383.5 188.5h2v1h-2zM225.5 189.5h4v1h-4zM231.5 189.5h2v1h-2zM235.5 189.5h2v1h-2zM267.5 189.5h2v1h-2zM283.5 189.5h4v1h-4zM337.5 189.5h2v1h-2zM381.5 189.5h2v1h-2zM173.5 190.5h2v1h-2zM201.5 190.5h4v1h-4zM259.5 190.5h2v1h-2zM267.5 190.5h2v1h-2zM343.5 190.5h2v1h-2zM173.5 191.5h2v1h-2zM199.5 191.5h2v1h-2zM203.5 191.5h2v1h-2zM227.5 191.5h2v1h-2zM235.5 191.5h2v1h-2zM259.5 191.5h2v1h-2zM343.5 191.5h4v1h-4zM389.5 191.5h2v1h-2zM227.5 192.5h2v1h-2zM233.5 192.5h2v1h-2zM237.5 192.5h2v1h-2zM341.5 192.5h2v1h-2zM379.5 192.5h2v1h-2zM387.5 192.5h2v1h-2zM177.5 193.5h2v1h-2zM235.5 193.5h2v1h-2zM283.5 193.5h4v1h-4zM339.5 193.5h2v1h-2zM347.5 193.5h2v1h-2zM395.5 193.5h2v1h-2zM175.5 194.5h4v1h-4zM227.5 194.5h2v1h-2zM259.5 194.5h4v1h-4zM283.5 194.5h2v1h-2zM323.5 194.5h2v1h-2zM337.5 194.5h4v1h-4zM175.5 195.5h2v1h-2zM199.5 195.5h2v1h-2zM205.5 195.5h2v1h-2zM229.5 195.5h2v1h-2zM233.5 195.5h2v1h-2zM239.5 195.5h2v1h-2zM255.5 195.5h2v1h-2zM261.5 195.5h2v1h-2zM283.5 195.5h2v1h-2zM349.5 195.5h2v1h-2zM377.5 195.5h2v1h-2zM399.5 195.5h2v1h-2zM201.5 196.5h2v1h-2zM227.5 196.5h4v1h-4zM237.5 196.5h2v1h-2zM259.5 196.5h2v1h-2zM263.5 196.5h2v1h-2zM337.5 196.5h4v1h-4zM395.5 196.5h2v1h-2zM177.5 197.5h2v1h-2zM201.5 197.5h2v1h-2zM231.5 197.5h2v1h-2zM257.5 197.5h2v1h-2zM287.5 197.5h2v1h-2zM337.5 197.5h2v1h-2zM347.5 197.5h2v1h-2zM375.5 197.5h2v1h-2zM379.5 197.5h2v1h-2zM173.5 198.5h4v1h-4zM225.5 198.5h2v1h-2zM231.5 198.5h2v1h-2zM321.5 198.5h2v1h-2zM347.5 198.5h4v1h-4zM395.5 198.5h2v1h-2zM231.5 199.5h2v1h-2zM257.5 199.5h4v1h-4zM285.5 199.5h2v1h-2zM399.5 199.5h2v1h-2zM175.5 200.5h2v1h-2zM197.5 200.5h2v1h-2zM201.5 200.5h2v1h-2zM231.5 200.5h2v1h-2zM237.5 200.5h2v1h-2zM287.5 200.5h2v1h-2zM313.5 200.5h2v1h-2zM317.5 200.5h2v1h-2zM321.5 200.5h2v1h-2zM337.5 200.5h2v1h-2zM381.5 200.5h2v1h-2zM393.5 200.5h2v1h-2zM237.5 201.5h2v1h-2zM289.5 201.5h2v1h-2zM307.5 201.5h4v1h-4zM349.5 201.5h2v1h-2zM377.5 201.5h2v1h-2zM381.5 201.5h2v1h-2zM235.5 202.5h2v1h-2zM257.5 202.5h2v1h-2zM263.5 202.5h2v1h-2zM303.5 202.5h2v1h-2zM321.5 202.5h4v1h-4zM377.5 202.5h2v1h-2zM391.5 202.5h2v1h-2zM201.5 203.5h2v1h-2zM227.5 203.5h2v1h-2zM235.5 203.5h2v1h-2zM255.5 203.5h2v1h-2zM263.5 203.5h2v1h-2zM285.5 203.5h2v1h-2zM317.5 203.5h2v1h-2zM373.5 203.5h2v1h-2zM391.5 203.5h2v1h-2zM227.5 204.5h2v1h-2zM233.5 204.5h2v1h-2zM287.5 204.5h2v1h-2zM309.5 204.5h2v1h-2zM379.5 204.5h2v1h-2zM199.5 205.5h2v1h-2zM229.5 205.5h2v1h-2zM233.5 205.5h2v1h-2zM255.5 205.5h2v1h-2zM307.5 205.5h2v1h-2zM311.5 205.5h2v1h-2zM315.5 205.5h2v1h-2zM337.5 205.5h4v1h-4zM201.5 206.5h2v1h-2zM249.5 206.5h2v1h-2zM257.5 206.5h2v1h-2zM285.5 206.5h2v1h-2zM305.5 206.5h2v1h-2zM309.5 206.5h2v1h-2zM339.5 206.5h2v1h-2zM347.5 206.5h2v1h-2zM389.5 206.5h2v1h-2zM227.5 207.5h2v1h-2zM289.5 207.5h2v1h-2zM307.5 207.5h4v1h-4zM339.5 207.5h2v1h-2zM347.5 207.5h4v1h-4zM257.5 208.5h2v1h-2zM337.5 208.5h4v1h-4zM373.5 208.5h2v1h-2zM379.5 208.5h2v1h-2zM391.5 208.5h4v1h-4zM231.5 209.5h2v1h-2zM255.5 209.5h6v1h-6zM287.5 209.5h2v1h-2zM323.5 209.5h2v1h-2zM337.5 209.5h4v1h-4zM347.5 209.5h2v1h-2zM353.5 209.5h2v1h-2zM371.5 209.5h2v1h-2zM375.5 209.5h2v1h-2zM379.5 209.5h2v1h-2zM259.5 210.5h2v1h-2zM287.5 210.5h2v1h-2zM305.5 210.5h2v1h-2zM311.5 210.5h2v1h-2zM339.5 210.5h2v1h-2zM347.5 210.5h4v1h-4zM369.5 210.5h2v1h-2zM383.5 210.5h2v1h-2zM387.5 210.5h2v1h-2zM257.5 211.5h2v1h-2zM283.5 211.5h2v1h-2zM287.5 211.5h2v1h-2zM309.5 211.5h2v1h-2zM385.5 211.5h2v1h-2zM393.5 211.5h2v1h-2zM227.5 212.5h2v1h-2zM259.5 212.5h2v1h-2zM283.5 212.5h6v1h-6zM303.5 212.5h2v1h-2zM307.5 212.5h4v1h-4zM341.5 212.5h2v1h-2zM389.5 212.5h2v1h-2zM203.5 213.5h2v1h-2zM295.5 213.5h2v1h-2zM303.5 213.5h2v1h-2zM309.5 213.5h2v1h-2zM387.5 213.5h2v1h-2zM227.5 214.5h2v1h-2zM253.5 214.5h2v1h-2zM287.5 214.5h2v1h-2zM337.5 214.5h4v1h-4zM259.5 215.5h2v1h-2zM281.5 215.5h2v1h-2zM287.5 215.5h2v1h-2zM325.5 215.5h2v1h-2zM339.5 215.5h2v1h-2zM255.5 216.5h2v1h-2zM265.5 216.5h2v1h-2zM285.5 216.5h2v1h-2zM289.5 216.5h2v1h-2zM305.5 216.5h2v1h-2zM323.5 216.5h2v1h-2zM337.5 216.5h6v1h-6zM377.5 216.5h4v1h-4zM259.5 217.5h2v1h-2zM281.5 217.5h2v1h-2zM313.5 217.5h2v1h-2zM325.5 217.5h2v1h-2zM341.5 217.5h2v1h-2zM287.5 218.5h2v1h-2zM299.5 218.5h4v1h-4zM379.5 218.5h2v1h-2zM257.5 219.5h4v1h-4zM263.5 219.5h2v1h-2zM281.5 219.5h2v1h-2zM339.5 219.5h2v1h-2zM339.5 220.5h2v1h-2zM347.5 220.5h4v1h-4zM279.5 221.5h2v1h-2zM299.5 221.5h2v1h-2zM303.5 221.5h2v1h-2zM347.5 221.5h4v1h-4zM377.5 221.5h2v1h-2zM265.5 222.5h2v1h-2zM275.5 222.5h2v1h-2zM279.5 222.5h4v1h-4zM313.5 222.5h2v1h-2zM347.5 222.5h2v1h-2zM267.5 223.5h2v1h-2zM275.5 223.5h2v1h-2zM323.5 223.5h2v1h-2zM387.5 223.5h2v1h-2zM267.5 224.5h4v1h-4zM277.5 224.5h2v1h-2zM311.5 224.5h2v1h-2zM323.5 224.5h2v1h-2zM345.5 224.5h2v1h-2zM349.5 224.5h2v1h-2zM267.5 225.5h2v1h-2zM271.5 225.5h2v1h-2zM281.5 225.5h2v1h-2zM287.5 225.5h2v1h-2zM299.5 225.5h2v1h-2zM303.5 225.5h2v1h-2zM313.5 225.5h4v1h-4zM323.5 225.5h2v1h-2zM341.5 225.5h2v1h-2zM265.5 226.5h2v1h-2zM269.5 226.5h2v1h-2zM273.5 226.5h2v1h-2zM307.5 226.5h2v1h-2zM313.5 226.5h2v1h-2zM325.5 226.5h2v1h-2zM339.5 226.5h2v1h-2zM343.5 226.5h2v1h-2zM347.5 226.5h2v1h-2zM265.5 227.5h2v1h-2zM305.5 227.5h2v1h-2zM341.5 227.5h2v1h-2zM387.5 227.5h2v1h-2zM259.5 228.5h2v1h-2zM267.5 228.5h4v1h-4zM275.5 228.5h2v1h-2zM305.5 228.5h2v1h-2zM311.5 228.5h4v1h-4zM337.5 228.5h2v1h-2zM345.5 228.5h2v1h-2zM267.5 229.5h4v1h-4zM279.5 229.5h2v1h-2zM309.5 229.5h2v1h-2zM323.5 229.5h2v1h-2zM341.5 229.5h2v1h-2zM265.5 230.5h4v1h-4zM273.5 230.5h4v1h-4zM279.5 230.5h2v1h-2zM321.5 230.5h4v1h-4zM341.5 230.5h2v1h-2zM345.5 230.5h2v1h-2zM263.5 231.5h2v1h-2zM267.5 231.5h2v1h-2zM279.5 231.5h2v1h-2zM311.5 231.5h2v1h-2zM319.5 231.5h2v1h-2zM337.5 231.5h2v1h-2zM341.5 231.5h2v1h-2zM319.5 232.5h2v1h-2zM339.5 232.5h2v1h-2zM343.5 232.5h2v1h-2zM269.5 233.5h2v1h-2zM273.5 233.5h4v1h-4zM319.5 233.5h2v1h-2zM321.5 234.5h2v1h-2zM345.5 234.5h2v1h-2zM275.5 235.5h4v1h-4zM343.5 235.5h2v1h-2zM347.5 235.5h2v1h-2zM271.5 236.5h6v1h-6zM279.5 236.5h2v1h-2zM343.5 236.5h2v1h-2zM347.5 236.5h2v1h-2zM271.5 238.5h2v1h-2zM317.5 238.5h2v1h-2zM273.5 239.5h2v1h-2zM279.5 239.5h4v1h-4zM307.5 239.5h4v1h-4zM279.5 240.5h2v1h-2zM313.5 240.5h2v1h-2zM341.5 240.5h2v1h-2zM271.5 241.5h2v1h-2zM275.5 241.5h2v1h-2zM345.5 241.5h2v1h-2zM275.5 242.5h2v1h-2zM269.5 243.5h2v1h-2zM273.5 243.5h4v1h-4zM269.5 244.5h2v1h-2zM275.5 244.5h2v1h-2z"/>
<path fill="#8000ff" d="M271.5 167.5h2v1h-2zM273.5 168.5h2v1h-2zM271.5 170.5h2v1h-2zM277.5 172.5h2v1h-2zM269.5 173.5h2v1h-2zM273.5 176.5h2v1h-2zM273.5 177.5h2v1h-2zM263.5 178.5h2v1h-2zM271.5 180.5h2v1h-2zM267.5 181.5h4v1h-4zM273.5 181.5h2v1h-2zM281.5 182.5h2v1h-2zM269.5 184.5h2v1h-2zM271.5 185.5h4v1h-4zM269.5 186.5h2v1h-2zM277.5 187.5h2v1h-2zM173.5 188.5h2v1h-2zM177.5 188.5h2v1h-2zM275.5 188.5h2v1h-2zM341.5 188.5h4v1h-4zM203.5 189.5h2v1h-2zM277.5 189.5h2v1h-2zM341.5 189.5h2v1h-2zM269.5 190.5h2v1h-2zM281.5 190.5h2v1h-2zM261.5 191.5h4v1h-4zM379.5 191.5h2v1h-2zM265.5 192.5h2v1h-2zM279.5 192.5h2v1h-2zM285.5 192.5h2v1h-2zM173.5 193.5h2v1h-2zM281.5 193.5h2v1h-2zM347.5 194.5h2v1h-2zM173.5 195.5h2v1h-2zM281.5 195.5h2v1h-2zM199.5 196.5h2v1h-2zM231.5 196.5h2v1h-2zM281.5 196.5h2v1h-2zM321.5 197.5h2v1h-2zM201.5 198.5h2v1h-2zM229.5 198.5h2v1h-2zM235.5 198.5h2v1h-2zM259.5 198.5h2v1h-2zM263.5 198.5h4v1h-4zM319.5 198.5h2v1h-2zM381.5 198.5h2v1h-2zM387.5 198.5h2v1h-2zM229.5 199.5h2v1h-2zM339.5 199.5h2v1h-2zM227.5 200.5h2v1h-2zM283.5 200.5h4v1h-4zM177.5 201.5h2v1h-2zM227.5 201.5h4v1h-4zM285.5 201.5h2v1h-2zM383.5 201.5h2v1h-2zM231.5 202.5h2v1h-2zM255.5 202.5h2v1h-2zM283.5 202.5h4v1h-4zM317.5 202.5h2v1h-2zM381.5 202.5h2v1h-2zM385.5 202.5h2v1h-2zM259.5 203.5h2v1h-2zM347.5 203.5h2v1h-2zM385.5 203.5h2v1h-2zM389.5 203.5h2v1h-2zM229.5 204.5h2v1h-2zM261.5 204.5h4v1h-4zM387.5 204.5h2v1h-2zM285.5 205.5h2v1h-2zM317.5 205.5h2v1h-2zM237.5 206.5h2v1h-2zM315.5 206.5h2v1h-2zM351.5 206.5h2v1h-2zM381.5 206.5h2v1h-2zM385.5 206.5h2v1h-2zM283.5 207.5h4v1h-4zM305.5 207.5h2v1h-2zM259.5 208.5h2v1h-2zM301.5 208.5h2v1h-2zM309.5 208.5h2v1h-2zM389.5 208.5h2v1h-2zM305.5 209.5h4v1h-4zM309.5 210.5h2v1h-2zM313.5 210.5h2v1h-2zM323.5 210.5h2v1h-2zM263.5 211.5h2v1h-2zM339.5 211.5h2v1h-2zM257.5 212.5h2v1h-2zM261.5 212.5h4v1h-4zM305.5 212.5h2v1h-2zM337.5 212.5h2v1h-2zM383.5 212.5h2v1h-2zM225.5 213.5h2v1h-2zM261.5 213.5h2v1h-2zM307.5 213.5h2v1h-2zM311.5 213.5h2v1h-2zM345.5 213.5h4v1h-4zM225.5 214.5h2v1h-2zM259.5 214.5h4v1h-4zM303.5 214.5h2v1h-2zM313.5 214.5h2v1h-2zM303.5 215.5h2v1h-2zM315.5 215.5h2v1h-2zM259.5 216.5h2v1h-2zM313.5 216.5h2v1h-2zM303.5 217.5h2v1h-2zM315.5 217.5h2v1h-2zM259.5 218.5h2v1h-2zM283.5 218.5h2v1h-2zM339.5 218.5h2v1h-2zM265.5 219.5h2v1h-2zM315.5 219.5h2v1h-2zM263.5 220.5h2v1h-2zM285.5 220.5h2v1h-2zM303.5 220.5h2v1h-2zM313.5 220.5h2v1h-2zM305.5 221.5h2v1h-2zM309.5 221.5h2v1h-2zM277.5 222.5h2v1h-2zM283.5 222.5h2v1h-2zM315.5 222.5h2v1h-2zM261.5 223.5h2v1h-2zM345.5 223.5h2v1h-2zM263.5 224.5h2v1h-2zM275.5 224.5h2v1h-2zM281.5 224.5h2v1h-2zM299.5 224.5h2v1h-2zM341.5 224.5h2v1h-2zM269.5 225.5h2v1h-2zM267.5 226.5h2v1h-2zM305.5 226.5h2v1h-2zM311.5 227.5h2v1h-2zM347.5 227.5h2v1h-2zM281.5 228.5h2v1h-2zM321.5 228.5h2v1h-2zM271.5 229.5h2v1h-2zM347.5 229.5h2v1h-2zM277.5 231.5h2v1h-2zM307.5 231.5h2v1h-2zM323.5 231.5h2v1h-2zM347.5 231.5h2v1h-2zM321.5 232.5h2v1h-2zM271.5 233.5h2v1h-2zM273.5 234.5h2v1h-2zM277.5 234.5h2v1h-2zM271.5 239.5h2v1h-2z"/>
<path fill="#0000ff" d="M267.5 179.5h2v1h-2zM269.5 180.5h2v1h-2zM269.5 182.5h2v1h-2zM275.5 182.5h2v1h-2zM175.5 184.5h2v1h-2zM261.5 186.5h2v1h-2zM267.5 187.5h2v1h-2zM269.5 188.5h6v1h-6zM273.5 189.5h2v1h-2zM271.5 190.5h2v1h-2zM277.5 190.5h4v1h-4zM277.5 191.5h2v1h-2zM201.5 192.5h2v1h-2zM281.5 192.5h2v1h-2zM205.5 193.5h2v1h-2zM263.5 193.5h4v1h-4zM235.5 194.5h2v1h-2zM279.5 194.5h2v1h-2zM203.5 195.5h2v1h-2zM227.5 195.5h2v1h-2zM263.5 195.5h2v1h-2zM345.5 195.5h2v1h-2zM261.5 196.5h2v1h-2zM319.5 196.5h2v1h-2zM203.5 197.5h2v1h-2zM229.5 197.5h2v1h-2zM233.5 197.5h2v1h-2zM263.5 197.5h2v1h-2zM285.5 197.5h2v1h-2zM383.5 197.5h2v1h-2zM261.5 198.5h2v1h-2zM283.5 198.5h4v1h-4zM383.5 198.5h2v1h-2zM319.5 199.5h4v1h-4zM347.5 199.5h2v1h-2zM225.5 200.5h2v1h-2zM229.5 200.5h2v1h-2zM257.5 200.5h4v1h-4zM319.5 200.5h2v1h-2zM383.5 200.5h2v1h-2zM257.5 201.5h2v1h-2zM261.5 201.5h2v1h-2zM319.5 201.5h4v1h-4zM339.5 201.5h2v1h-2zM379.5 201.5h2v1h-2zM385.5 201.5h4v1h-4zM229.5 202.5h2v1h-2zM319.5 202.5h2v1h-2zM381.5 203.5h2v1h-2zM283.5 204.5h4v1h-4zM317.5 204.5h2v1h-2zM321.5 204.5h2v1h-2zM381.5 204.5h2v1h-2zM389.5 204.5h2v1h-2zM393.5 204.5h2v1h-2zM259.5 205.5h2v1h-2zM341.5 205.5h2v1h-2zM347.5 205.5h2v1h-2zM385.5 205.5h4v1h-4zM225.5 206.5h2v1h-2zM229.5 206.5h2v1h-2zM263.5 206.5h2v1h-2zM287.5 206.5h4v1h-4zM341.5 206.5h2v1h-2zM383.5 206.5h2v1h-2zM257.5 207.5h2v1h-2zM263.5 207.5h2v1h-2zM383.5 207.5h4v1h-4zM261.5 208.5h2v1h-2zM347.5 208.5h2v1h-2zM385.5 208.5h2v1h-2zM309.5 209.5h2v1h-2zM385.5 209.5h2v1h-2zM261.5 210.5h2v1h-2zM285.5 211.5h2v1h-2zM307.5 211.5h2v1h-2zM311.5 211.5h4v1h-4zM323.5 212.5h2v1h-2zM315.5 213.5h2v1h-2zM323.5 213.5h2v1h-2zM339.5 213.5h2v1h-2zM305.5 214.5h2v1h-2zM311.5 214.5h2v1h-2zM341.5 214.5h2v1h-2zM265.5 215.5h2v1h-2zM283.5 215.5h2v1h-2zM311.5 215.5h2v1h-2zM341.5 215.5h2v1h-2zM309.5 216.5h4v1h-4zM315.5 216.5h2v1h-2zM347.5 216.5h2v1h-2zM261.5 217.5h4v1h-4zM283.5 217.5h2v1h-2zM323.5 217.5h2v1h-2zM345.5 217.5h2v1h-2zM313.5 218.5h2v1h-2zM305.5 219.5h2v1h-2zM323.5 219.5h2v1h-2zM267.5 220.5h2v1h-2zM277.5 220.5h4v1h-4zM323.5 220.5h2v1h-2zM265.5 221.5h8v1h-8zM275.5 221.5h2v1h-2zM301.5 221.5h2v1h-2zM307.5 221.5h2v1h-2zM313.5 221.5h2v1h-2zM323.5 221.5h2v1h-2zM341.5 221.5h2v1h-2zM269.5 222.5h4v1h-4zM303.5 222.5h4v1h-4zM311.5 222.5h2v1h-2zM343.5 222.5h2v1h-2zM265.5 223.5h2v1h-2zM269.5 223.5h6v1h-6zM313.5 223.5h2v1h-2zM341.5 223.5h2v1h-2zM305.5 224.5h6v1h-6zM313.5 224.5h2v1h-2zM343.5 224.5h2v1h-2zM275.5 225.5h2v1h-2zM275.5 226.5h2v1h-2zM279.5 226.5h2v1h-2zM311.5 226.5h2v1h-2zM317.5 226.5h2v1h-2zM267.5 227.5h2v1h-2zM273.5 227.5h2v1h-2zM307.5 227.5h2v1h-2zM317.5 227.5h2v1h-2zM321.5 227.5h2v1h-2zM309.5 228.5h2v1h-2zM317.5 228.5h2v1h-2zM277.5 229.5h2v1h-2zM345.5 229.5h2v1h-2zM269.5 230.5h4v1h-4zM319.5 230.5h2v1h-2zM271.5 231.5h6v1h-6zM321.5 231.5h2v1h-2zM275.5 232.5h2v1h-2zM271.5 237.5h2v1h-2z"/>
<path fill="#0080ff" d="M271.5 182.5h2v1h-2zM275.5 185.5h2v1h-2zM273.5 186.5h4v1h-4zM275.5 189.5h2v1h-2zM345.5 189.5h2v1h-2zM231.5 190.5h2v1h-2zM267.5 191.5h6v1h-6zM267.5 193.5h4v1h-4zM279.5 193.5h2v1h-2zM345.5 193.5h2v1h-2zM265.5 194.5h2v1h-2zM345.5 194.5h2v1h-2zM265.5 195.5h2v1h-2zM265.5 196.5h2v1h-2zM279.5 196.5h2v1h-2zM347.5 196.5h2v1h-2zM281.5 198.5h2v1h-2zM263.5 199.5h2v1h-2zM261.5 200.5h2v1h-2zM339.5 200.5h2v1h-2zM283.5 201.5h2v1h-2zM347.5 202.5h2v1h-2zM261.5 203.5h2v1h-2zM339.5 203.5h2v1h-2zM259.5 204.5h2v1h-2zM281.5 204.5h2v1h-2zM385.5 204.5h2v1h-2zM283.5 205.5h2v1h-2zM323.5 205.5h2v1h-2zM383.5 205.5h2v1h-2zM261.5 206.5h2v1h-2zM317.5 207.5h2v1h-2zM323.5 207.5h2v1h-2zM341.5 207.5h2v1h-2zM285.5 208.5h2v1h-2zM317.5 208.5h2v1h-2zM341.5 208.5h2v1h-2zM381.5 208.5h2v1h-2zM261.5 209.5h4v1h-4zM341.5 209.5h4v1h-4zM317.5 210.5h2v1h-2zM261.5 211.5h2v1h-2zM317.5 211.5h2v1h-2zM313.5 212.5h2v1h-2zM345.5 212.5h2v1h-2zM283.5 213.5h2v1h-2zM313.5 213.5h2v1h-2zM341.5 213.5h2v1h-2zM345.5 215.5h4v1h-4zM281.5 216.5h2v1h-2zM303.5 216.5h2v1h-2zM265.5 217.5h2v1h-2zM343.5 217.5h2v1h-2zM269.5 218.5h2v1h-2zM279.5 218.5h4v1h-4zM303.5 218.5h4v1h-4zM341.5 218.5h2v1h-2zM347.5 218.5h2v1h-2zM279.5 219.5h2v1h-2zM309.5 219.5h2v1h-2zM341.5 219.5h2v1h-2zM269.5 220.5h2v1h-2zM281.5 220.5h2v1h-2zM305.5 220.5h4v1h-4zM311.5 221.5h2v1h-2zM317.5 221.5h2v1h-2zM267.5 222.5h2v1h-2zM307.5 223.5h6v1h-6zM273.5 225.5h2v1h-2zM277.5 225.5h2v1h-2zM273.5 228.5h2v1h-2zM321.5 229.5h2v1h-2zM345.5 231.5h2v1h-2zM271.5 232.5h2v1h-2zM271.5 234.5h2v1h-2zM273.5 235.5h2v1h-2z"/>
<path fill="#00ffff" d="M271.5 187.5h2v1h-2zM271.5 189.5h2v1h-2zM267.5 192.5h4v1h-4zM283.5 192.5h2v1h-2zM261.5 193.5h2v1h-2zM341.5 193.5h4v1h-4zM267.5 194.5h2v1h-2zM281.5 194.5h2v1h-2zM341.5 194.5h2v1h-2zM267.5 195.5h2v1h-2zM345.5 196.5h2v1h-2zM265.5 197.5h2v1h-2zM279.5 197.5h2v1h-2zM339.5 197.5h2v1h-2zM383.5 199.5h2v1h-2zM261.5 202.5h2v1h-2zM345.5 202.5h2v1h-2zM383.5 202.5h2v1h-2zM283.5 203.5h2v1h-2zM341.5 203.5h2v1h-2zM383.5 203.5h2v1h-2zM341.5 204.5h2v1h-2zM383.5 204.5h2v1h-2zM261.5 205.5h4v1h-4zM321.5 205.5h2v1h-2zM261.5 207.5h2v1h-2zM263.5 208.5h2v1h-2zM283.5 208.5h2v1h-2zM283.5 209.5h2v1h-2zM317.5 209.5h2v1h-2zM383.5 209.5h2v1h-2zM265.5 210.5h2v1h-2zM343.5 212.5h2v1h-2zM263.5 213.5h2v1h-2zM281.5 213.5h2v1h-2zM317.5 213.5h2v1h-2zM283.5 214.5h2v1h-2zM305.5 215.5h2v1h-2zM313.5 215.5h2v1h-2zM343.5 215.5h2v1h-2zM307.5 216.5h2v1h-2zM305.5 217.5h4v1h-4zM265.5 218.5h2v1h-2zM273.5 219.5h6v1h-6zM307.5 219.5h2v1h-2zM345.5 219.5h2v1h-2zM273.5 220.5h2v1h-2zM315.5 220.5h2v1h-2zM263.5 222.5h2v1h-2zM273.5 224.5h2v1h-2zM309.5 225.5h2v1h-2zM317.5 225.5h2v1h-2zM309.5 226.5h2v1h-2zM345.5 226.5h2v1h-2zM275.5 227.5h4v1h-4zM319.5 228.5h2v1h-2zM319.5 229.5h2v1h-2zM273.5 232.5h2v1h-2zM275.5 237.5h2v1h-2z"/>
<path fill="#00ff00" d="M269.5 189.5h2v1h-2zM275.5 190.5h2v1h-2zM343.5 192.5h2v1h-2zM277.5 194.5h2v1h-2zM279.5 195.5h2v1h-2zM341.5 195.5h2v1h-2zM341.5 196.5h2v1h-2zM281.5 197.5h2v1h-2zM265.5 199.5h2v1h-2zM279.5 199.5h2v1h-2zM263.5 200.5h4v1h-4zM385.5 200.5h2v1h-2zM265.5 201.5h2v1h-2zM341.5 201.5h2v1h-2zM265.5 202.5h2v1h-2zM321.5 203.5h2v1h-2zM265.5 205.5h2v1h-2zM265.5 206.5h2v1h-2zM343.5 207.5h2v1h-2zM345.5 208.5h2v1h-2zM285.5 209.5h2v1h-2zM321.5 209.5h2v1h-2zM341.5 210.5h2v1h-2zM323.5 211.5h2v1h-2zM341.5 211.5h2v1h-2zM345.5 211.5h2v1h-2zM265.5 212.5h2v1h-2zM263.5 214.5h4v1h-4zM307.5 214.5h4v1h-4zM317.5 214.5h2v1h-2zM343.5 214.5h2v1h-2zM307.5 215.5h2v1h-2zM323.5 215.5h2v1h-2zM283.5 216.5h2v1h-2zM275.5 217.5h6v1h-6zM309.5 217.5h2v1h-2zM277.5 218.5h2v1h-2zM323.5 218.5h2v1h-2zM343.5 218.5h4v1h-4zM267.5 219.5h2v1h-2zM311.5 219.5h4v1h-4zM341.5 220.5h4v1h-4zM345.5 221.5h2v1h-2zM307.5 222.5h2v1h-2zM345.5 222.5h2v1h-2zM317.5 223.5h2v1h-2zM343.5 223.5h2v1h-2zM343.5 225.5h2v1h-2z"/>
<path fill="#008040" d="M269.5 183.5h2v1h-2zM273.5 190.5h2v1h-2zM271.5 192.5h2v1h-2zM269.5 194.5h2v1h-2zM269.5 195.5h2v1h-2zM343.5 195.5h2v1h-2zM267.5 196.5h2v1h-2zM267.5 197.5h4v1h-4zM283.5 197.5h2v1h-2zM345.5 197.5h2v1h-2zM345.5 198.5h2v1h-2zM283.5 199.5h2v1h-2zM341.5 200.5h2v1h-2zM281.5 201.5h2v1h-2zM345.5 201.5h2v1h-2zM265.5 204.5h2v1h-2zM319.5 204.5h2v1h-2zM343.5 204.5h2v1h-2zM345.5 205.5h2v1h-2zM281.5 206.5h4v1h-4zM317.5 206.5h2v1h-2zM321.5 206.5h2v1h-2zM281.5 207.5h2v1h-2zM321.5 207.5h2v1h-2zM345.5 207.5h2v1h-2zM265.5 208.5h2v1h-2zM263.5 210.5h2v1h-2zM343.5 210.5h2v1h-2zM265.5 211.5h2v1h-2zM267.5 212.5h2v1h-2zM281.5 212.5h2v1h-2zM265.5 213.5h2v1h-2zM281.5 214.5h2v1h-2zM323.5 214.5h2v1h-2zM345.5 214.5h2v1h-2zM263.5 215.5h2v1h-2zM273.5 215.5h2v1h-2zM277.5 215.5h4v1h-4zM309.5 215.5h2v1h-2zM267.5 216.5h2v1h-2zM279.5 216.5h2v1h-2zM345.5 216.5h2v1h-2zM267.5 217.5h2v1h-2zM273.5 217.5h2v1h-2zM311.5 217.5h2v1h-2zM267.5 218.5h2v1h-2zM271.5 218.5h2v1h-2zM307.5 218.5h4v1h-4zM269.5 219.5h4v1h-4zM343.5 219.5h2v1h-2zM265.5 220.5h2v1h-2zM275.5 220.5h2v1h-2zM311.5 220.5h2v1h-2zM273.5 221.5h2v1h-2zM273.5 222.5h2v1h-2zM309.5 222.5h2v1h-2zM317.5 224.5h2v1h-2zM271.5 226.5h2v1h-2zM321.5 226.5h2v1h-2zM319.5 227.5h2v1h-2z"/>
<path fill="#408080" d="M273.5 191.5h4v1h-4zM277.5 192.5h2v1h-2zM271.5 193.5h2v1h-2zM277.5 193.5h2v1h-2zM271.5 194.5h2v1h-2zM343.5 194.5h2v1h-2zM271.5 195.5h2v1h-2zM269.5 196.5h2v1h-2zM341.5 197.5h2v1h-2zM279.5 198.5h2v1h-2zM341.5 198.5h2v1h-2zM281.5 199.5h2v1h-2zM341.5 199.5h2v1h-2zM279.5 200.5h4v1h-4zM345.5 200.5h2v1h-2zM263.5 201.5h2v1h-2zM279.5 203.5h4v1h-4zM345.5 203.5h2v1h-2zM345.5 204.5h2v1h-2zM319.5 205.5h2v1h-2zM319.5 206.5h2v1h-2zM343.5 206.5h4v1h-4zM319.5 207.5h2v1h-2zM279.5 208.5h2v1h-2zM279.5 209.5h2v1h-2zM345.5 209.5h2v1h-2zM281.5 210.5h2v1h-2zM345.5 210.5h2v1h-2zM281.5 211.5h2v1h-2zM321.5 211.5h2v1h-2zM279.5 212.5h2v1h-2zM317.5 212.5h2v1h-2zM279.5 213.5h2v1h-2zM343.5 213.5h2v1h-2zM267.5 214.5h2v1h-2zM269.5 215.5h4v1h-4zM273.5 216.5h4v1h-4zM269.5 217.5h4v1h-4zM311.5 218.5h2v1h-2zM317.5 218.5h2v1h-2zM317.5 219.5h2v1h-2zM271.5 220.5h2v1h-2zM317.5 220.5h2v1h-2zM345.5 220.5h2v1h-2zM317.5 222.5h2v1h-2zM321.5 223.5h2v1h-2zM319.5 226.5h2v1h-2z"/>
<path fill="#ffff00" d="M273.5 193.5h2v1h-2zM343.5 196.5h2v1h-2zM267.5 198.5h4v1h-4zM345.5 199.5h2v1h-2zM343.5 201.5h2v1h-2zM267.5 202.5h2v1h-2zM267.5 203.5h2v1h-2zM319.5 203.5h2v1h-2zM343.5 203.5h2v1h-2zM267.5 204.5h2v1h-2zM267.5 205.5h2v1h-2zM343.5 205.5h2v1h-2zM267.5 206.5h2v1h-2zM281.5 208.5h2v1h-2zM343.5 208.5h2v1h-2zM265.5 209.5h2v1h-2zM281.5 209.5h2v1h-2zM321.5 210.5h2v1h-2zM267.5 211.5h2v1h-2zM279.5 211.5h2v1h-2zM343.5 211.5h2v1h-2zM269.5 213.5h4v1h-4zM279.5 214.5h2v1h-2zM267.5 215.5h2v1h-2zM271.5 216.5h2v1h-2zM317.5 216.5h2v1h-2zM343.5 216.5h2v1h-2zM317.5 217.5h2v1h-2zM273.5 218.5h4v1h-4zM281.5 221.5h2v1h-2zM343.5 221.5h2v1h-2zM323.5 222.5h2v1h-2zM321.5 224.5h2v1h-2zM321.5 225.5h2v1h-2z"/>
<path fill="#ffc080" d="M273.5 192.5h4v1h-4zM271.5 197.5h2v1h-2zM343.5 197.5h2v1h-2zM271.5 198.5h2v1h-2zM269.5 199.5h2v1h-2zM343.5 199.5h2v1h-2zM267.5 200.5h4v1h-4zM267.5 201.5h2v1h-2zM279.5 201.5h2v1h-2zM279.5 202.5h4v1h-4zM341.5 202.5h4v1h-4zM265.5 203.5h2v1h-2zM279.5 204.5h2v1h-2zM279.5 205.5h4v1h-4zM279.5 206.5h2v1h-2zM265.5 207.5h4v1h-4zM267.5 208.5h2v1h-2zM319.5 208.5h4v1h-4zM269.5 209.5h2v1h-2zM319.5 209.5h2v1h-2zM267.5 210.5h4v1h-4zM279.5 210.5h2v1h-2zM269.5 211.5h2v1h-2zM277.5 211.5h2v1h-2zM269.5 212.5h4v1h-4zM277.5 212.5h2v1h-2zM267.5 213.5h2v1h-2zM277.5 213.5h2v1h-2zM269.5 214.5h4v1h-4zM277.5 214.5h2v1h-2zM275.5 215.5h2v1h-2zM269.5 216.5h2v1h-2zM277.5 216.5h2v1h-2zM321.5 216.5h2v1h-2zM321.5 217.5h2v1h-2zM309.5 220.5h2v1h-2zM321.5 221.5h2v1h-2zM321.5 222.5h2v1h-2zM319.5 225.5h2v1h-2z"/>
<path fill="#ff8000" d="M275.5 193.5h2v1h-2zM273.5 194.5h2v1h-2zM277.5 195.5h2v1h-2zM271.5 196.5h2v1h-2zM277.5 196.5h2v1h-2zM343.5 198.5h2v1h-2zM267.5 199.5h2v1h-2zM269.5 201.5h2v1h-2zM269.5 202.5h2v1h-2zM269.5 203.5h2v1h-2zM269.5 204.5h2v1h-2zM269.5 205.5h2v1h-2zM269.5 207.5h2v1h-2zM279.5 207.5h2v1h-2zM269.5 208.5h2v1h-2zM267.5 209.5h2v1h-2zM277.5 210.5h2v1h-2zM319.5 210.5h2v1h-2zM319.5 211.5h2v1h-2zM273.5 213.5h2v1h-2zM275.5 214.5h2v1h-2zM321.5 214.5h2v1h-2zM317.5 215.5h2v1h-2zM321.5 215.5h2v1h-2zM321.5 218.5h2v1h-2zM321.5 220.5h2v1h-2zM319.5 221.5h2v1h-2zM319.5 222.5h2v1h-2zM319.5 223.5h2v1h-2zM319.5 224.5h2v1h-2z"/>
<path fill="#ff0080" d="M277.5 197.5h2v1h-2zM271.5 199.5h2v1h-2zM271.5 200.5h2v1h-2zM343.5 200.5h2v1h-2zM271.5 201.5h2v1h-2zM271.5 202.5h2v1h-2zM269.5 206.5h2v1h-2zM271.5 207.5h2v1h-2zM271.5 208.5h2v1h-2zM271.5 209.5h2v1h-2zM277.5 209.5h2v1h-2zM271.5 210.5h2v1h-2zM271.5 211.5h2v1h-2zM275.5 212.5h2v1h-2zM319.5 212.5h4v1h-4zM319.5 213.5h4v1h-4zM273.5 214.5h2v1h-2zM319.5 215.5h2v1h-2zM319.5 216.5h2v1h-2zM319.5 217.5h2v1h-2zM319.5 219.5h4v1h-4zM319.5 220.5h2v1h-2z"/>
<path fill="#ff0000" d="M275.5 194.5h2v1h-2zM273.5 195.5h2v1h-2zM277.5 198.5h2v1h-2zM277.5 199.5h2v1h-2zM277.5 200.5h2v1h-2zM271.5 203.5h2v1h-2zM271.5 204.5h2v1h-2zM271.5 205.5h2v1h-2zM271.5 206.5h2v1h-2zM277.5 207.5h2v1h-2zM277.5 208.5h2v1h-2zM273.5 212.5h2v1h-2zM275.5 213.5h2v1h-2zM319.5 214.5h2v1h-2zM319.5 218.5h2v1h-2z"/>
<path fill="#c00000" d="M275.5 195.5h2v1h-2zM273.5 196.5h2v1h-2zM277.5 201.5h2v1h-2zM277.5 202.5h2v1h-2zM277.5 203.5h2v1h-2zM277.5 204.5h2v1h-2zM277.5 205.5h2v1h-2zM277.5 206.5h2v1h-2zM273.5 210.5h2v1h-2zM273.5 211.5h4v1h-4z"/>
<path fill="#800000" d="M273.5 197.5h2v1h-2zM273.5 208.5h2v1h-2zM273.5 209.5h2v1h-2zM275.5 210.5h2v1h-2z"/>
<path fill="#000000" d="M275.5 196.5h2v1h-2zM273.5 198.5h2v1h-2zM275.5 209.5h2v1h-2z"/>
<path fill="#808080" d="M275.5 197.5h2v1h-2zM273.5 199.5h2v1h-2zM273.5 205.5h2v1h-2zM273.5 206.5h2v1h-2zM273.5 207.5h2v1h-2zM275.5 208.5h2v1h-2z"/>
<path fill="#c0c0c0" d="M275.5 198.5h2v1h-2zM273.5 200.5h2v1h-2zM273.5 201.5h2v1h-2zM273.5 202.5h2v1h-2zM273.5 203.5h2v1h-2zM273.5 204.5h2v1h-2zM275.5 207.5h2v1h-2z"/>
<path fill="#ffffff" d="M275.5 199.5h2v1h-2zM275.5 200.5h2v1h-2zM275.5 201.5h2v1h-2zM275.5 202.5h2v1h-2zM275.5 203.5h2v1h-2zM275.5 204.5h2v1h-2zM275.5 205.5h2v1h-2zM275.5 206.5h2v1h-2z"/>
</g>
<g clip-path="url(#c4)" shape-rendering="crispEdges">
<path fill="#ff50ff" d="M249 420h1v1h-1zM227 433h1v1h-1zM285 449h1v1h-1zM215 491h2v1h-2zM180 503h1v1h-1zM175 509h2v1h-2zM242 537h2v1h-2zM239 541h1v1h-1zM353.5 351.5h2v2h-2zM353.5 361.5h2v2h-2zM381.5 371.5h6v2h-6zM393.5 371.5h2v2h-2zM369.5 373.5h2v2h-2zM379.5 373.5h2v2h-2zM391.5 373.5h2v2h-2zM373.5 375.5h2v2h-2zM377.5 375.5h2v2h-2zM391.5 375.5h4v2h-4zM377.5 377.5h2v2h-2zM393.5 377.5h4v2h-4zM379.5 379.5h2v2h-2zM387.5 379.5h4v2h-4zM267.5 437.5h2v2h-2zM271.5 439.5h2v2h-2zM277.5 439.5h2v2h-2zM267.5 441.5h2v2h-2zM277.5 441.5h2v2h-2zM261.5 443.5h2v2h-2zM267.5 443.5h2v2h-2zM281.5 443.5h2v2h-2zM263.5 445.5h2v2h-2zM261.5 449.5h2v2h-2zM281.5 449.5h2v2h-2zM271.5 453.5h2v2h-2zM283.5 453.5h2v2h-2zM257.5 455.5h2v2h-2zM271.5 455.5h4v2h-4zM265.5 457.5h2v2h-2zM275.5 457.5h2v2h-2zM340.3 493.9h2v2h-2zM325.1 502.9h2v2h-2zM173 507h4v2h-4zM341.2 507.2h2v2h-2zM343.1 507.2h2v2h-2zM345 507.2h2v2h-2zM310.9 508.6h2v2h-2zM306.1 512.4h2v2h-2zM269.5 525.5h2v2h-2zM281.5 525.5h2v2h-2zM285.5 525.5h2v2h-2zM203 527h2v2h-2zM267.5 527.5h2v2h-2zM267.5 529.5h2v2h-2zM202 530h2v2h-2zM206 531h1v2h-1zM285.5 531.5h2v2h-2zM261.5 533.5h2v2h-2zM281.5 533.5h2v2h-2zM287.5 533.5h2v2h-2zM229 535h6v2h-6zM277.5 535.5h2v2h-2zM235 536h3v2h-3zM259.5 537.5h2v2h-2zM277.5 537.5h2v2h-2zM238 538h1v2h-1zM259.5 539.5h4v2h-4zM289.5 539.5h2v2h-2zM230 540h2v2h-2zM267.5 541.5h2v2h-2zM271.5 541.5h2v2h-2zM204 529h2v3h-2z"/>
<path fill="#8000ff" d="M353.5 349.5h2v2h-2zM351.5 351.5h2v2h-2zM353.5 359.5h2v2h-2zM387.5 373.5h2v2h-2zM399.5 373.5h2v2h-2zM379.5 375.5h2v2h-2zM389.5 375.5h2v2h-2zM395.5 375.5h2v2h-2zM379.5 377.5h4v2h-4zM389.5 377.5h2v2h-2zM403.5 377.5h2v2h-2zM385.5 379.5h2v2h-2zM391.5 379.5h2v2h-2zM335.5 427.5h2v2h-2zM226 431h3v2h-3zM273.5 437.5h2v2h-2zM275.5 439.5h2v2h-2zM279.5 441.5h2v2h-2zM265.5 443.5h2v2h-2zM279.5 447.5h4v2h-4zM279.5 449.5h2v2h-2zM267.5 451.5h2v2h-2zM238 456h2v2h-2zM261.5 457.5h2v2h-2zM341.7 499.6h2v2h-2zM176 504h2v2h-2zM314.7 506.7h2v2h-2zM316.6 506.7h2v2h-2zM269.5 527.5h2v2h-2zM273.5 527.5h2v2h-2zM291.5 527.5h2v2h-2zM285.5 529.5h4v2h-4zM283.5 533.5h2v2h-2zM263.5 537.5h2v2h-2zM229 539h3v2h-3zM269.5 539.5h2v2h-2zM287.5 539.5h2v2h-2z"/>
<path fill="#0000ff" d="M176 506h2v1h-2zM387.5 375.5h2v2h-2zM383.5 377.5h2v2h-2zM335.5 425.5h2v2h-2zM259.5 451.5h2v2h-2zM265.5 451.5h2v2h-2zM261.5 453.5h2v2h-2zM267.5 453.5h2v2h-2zM277.5 453.5h4v2h-4zM261.5 455.5h4v2h-4zM340.3 492h2v2h-2zM344.1 492h2v2h-2zM347.9 492h2v2h-2zM347.9 495.8h2v2h-2zM342.2 501.5h2v2h-2zM313.7 504.8h2v2h-2zM317.5 504.8h2v2h-2zM321.3 504.8h2v2h-2zM343.1 505.3h2v2h-2zM312.8 508.6h2v2h-2zM309.9 510.5h2v2h-2zM309 512.4h2v2h-2zM279.5 525.5h2v2h-2zM285.5 527.5h2v2h-2zM265.5 529.5h2v2h-2zM201 532h2v2h-2zM281.5 535.5h2v2h-2zM230 537h4v2h-4zM285.5 537.5h2v2h-2zM233 538h5v2h-5zM235 540h4v2h-4zM261.5 541.5h2v2h-2z"/>
<path fill="#0080ff" d="M178 506h3v1h-3zM385.5 373.5h2v2h-2zM387.5 377.5h2v2h-2zM269.5 441.5h2v2h-2zM263.5 443.5h2v2h-2zM279.5 443.5h2v2h-2zM267.5 449.5h2v2h-2zM263.5 453.5h2v2h-2zM273.5 453.5h4v2h-4zM267.5 455.5h2v2h-2zM340.3 495.8h2v2h-2zM275.5 525.5h4v2h-4zM269.5 529.5h2v2h-2zM273.5 535.5h2v2h-2zM267.5 539.5h2v2h-2z"/>
<path fill="#00ffff" d="M350.7 500h1.5v1h-1.5zM231 535h3v1h-3zM381.5 375.5h2v2h-2zM383.5 379.5h2v2h-2zM271.5 443.5h2v2h-2zM279.5 445.5h2v2h-2zM263.5 447.5h2v2h-2zM267.5 447.5h2v2h-2zM259.5 449.5h2v2h-2zM269.5 451.5h2v2h-2zM277.5 451.5h2v2h-2zM259.5 453.5h2v2h-2zM342.2 492h2v2h-2zM317.5 497.2h2v2h-2zM346.9 499.6h2v2h-2zM348.8 499.6h2v2h-2zM323.2 501h2v2h-2zM319.4 504.8h2v2h-2zM309 506.7h2v2h-2zM307.1 508.6h2v2h-2zM308 510.5h2v2h-2zM287.5 527.5h2v2h-2zM271.5 529.5h4v2h-4zM271.5 531.5h2v2h-2zM275.5 531.5h2v2h-2zM279.5 533.5h2v2h-2zM263.5 535.5h2v2h-2zM204 532h2v3h-2z"/>
<path fill="#00ff00" d="M383.5 375.5h2v2h-2zM271.5 441.5h2v2h-2zM269.5 443.5h2v2h-2zM265.5 449.5h2v2h-2zM261.5 451.5h2v2h-2zM279.5 451.5h2v2h-2zM347.9 493.9h2v2h-2zM346 495.8h2v2h-2zM340.8 497.7h2v2h-2zM343.6 499.6h2v2h-2zM344.1 501.5h2v2h-2zM315.6 504.8h2v2h-2zM310.9 506.7h2v2h-2zM281.5 527.5h2v2h-2zM265.5 531.5h2v2h-2zM273.5 531.5h2v2h-2zM263.5 533.5h2v2h-2zM273.5 533.5h2v2h-2zM277.5 533.5h2v2h-2zM275.5 535.5h2v2h-2zM265.5 537.5h2v2h-2zM269.5 537.5h4v2h-4zM202 532h2v3h-2z"/>
<path fill="#008040" d="M385.5 375.5h2v2h-2zM265.5 445.5h4v2h-4zM269.5 449.5h2v2h-2zM277.5 449.5h2v2h-2zM263.5 451.5h2v2h-2zM271.5 451.5h4v2h-4zM346 492h2v2h-2zM344.6 497.7h2v2h-2zM346.5 497.7h2v2h-2zM317.5 502.9h2v2h-2zM323.2 502.9h2v2h-2zM341.2 505.3h2v2h-2zM275.5 527.5h2v2h-2zM275.5 529.5h2v2h-2zM269.5 531.5h2v2h-2zM281.5 531.5h2v2h-2zM265.5 533.5h2v2h-2zM275.5 533.5h2v2h-2zM271.5 535.5h2v2h-2zM267.5 537.5h2v2h-2z"/>
<path fill="#408080" d="M385.5 377.5h2v2h-2zM269.5 445.5h2v2h-2zM265.5 447.5h2v2h-2zM269.5 453.5h2v2h-2zM342.2 493.9h2v2h-2zM321.3 502.9h2v2h-2zM341.2 503.4h2v2h-2zM343.1 503.4h2v2h-2zM345 505.3h2v2h-2zM312.8 506.7h2v2h-2zM309 508.6h2v2h-2zM306.1 510.5h2v2h-2zM283.5 527.5h2v2h-2zM277.5 531.5h2v2h-2zM269.5 533.5h4v2h-4zM265.5 535.5h2v2h-2z"/>
<path fill="#ffff00" d="M381.5 373.5h2v2h-2zM273.5 443.5h2v2h-2zM277.5 445.5h2v2h-2zM275.5 451.5h2v2h-2zM265.5 453.5h2v2h-2zM346 493.9h2v2h-2zM321.3 495.4h2v2h-2zM321.3 497.2h2v2h-2zM342.7 497.7h2v2h-2zM277.5 527.5h4v2h-4zM283.5 529.5h2v2h-2zM283.5 531.5h2v2h-2zM267.5 533.5h2v2h-2zM267.5 535.5h4v2h-4z"/>
<path fill="#ffc080" d="M273.5 441.5h2v2h-2zM275.5 443.5h2v2h-2zM271.5 449.5h2v2h-2zM323.2 495.4h2v2h-2zM319.4 497.2h2v2h-2zM311.8 504.8h2v2h-2zM277.5 529.5h6v2h-6zM279.5 531.5h2v2h-2z"/>
<path fill="#ff8000" d="M269.5 447.5h2v2h-2zM275.5 449.5h2v2h-2zM318.5 499.1h2v2h-2zM319.4 502.9h2v2h-2zM345 503.4h2v2h-2zM267.5 531.5h2v2h-2z"/>
<path fill="#ff0080" d="M271.5 445.5h2v2h-2zM277.5 447.5h2v2h-2zM273.5 449.5h2v2h-2zM323.2 497.2h2v2h-2zM322.2 499.1h2v2h-2z"/>
<path fill="#ff0000" d="M344.1 493.9h2v2h-2zM342.2 495.8h2v2h-2zM344.1 495.8h2v2h-2zM320.4 499.1h2v2h-2zM319.4 501h2v2h-2z"/>
<path fill="#c00000" d="M275.5 445.5h2v2h-2zM271.5 447.5h2v2h-2zM321.3 501h2v2h-2z"/>
<path fill="#800000" d="M273.5 445.5h2v2h-2z"/>
<path fill="#000000" d="M275.5 447.5h2v2h-2z"/>
<path fill="#c0c0c0" d="M273.5 447.5h2v2h-2z"/>
</g>
<g clip-path="url(#c5)" shape-rendering="crispEdges">
<path fill="#ff50ff" d="M624.5 339.5h1v2h-1zM630.5 341.5h1v2h-1zM637.5 341.5h1v2h-1zM639.5 341.5h1v2h-1zM641.5 341.5h1v2h-1zM615.5 349.5h1v2h-1zM621.5 349.5h1v2h-1zM626.5 349.5h1v2h-1zM624.5 351.5h1v2h-1zM637.5 353.5h1v2h-1zM645.5 353.5h1v2h-1zM632.5 355.5h1v2h-1zM641.5 355.5h1v2h-1zM638.5 357.5h1v2h-1zM647.5 357.5h1v2h-1zM640.5 359.5h1v2h-1zM629.5 361.5h1v2h-1zM627.5 363.5h1v2h-1zM618.5 365.5h1v2h-1zM637.5 365.5h1v2h-1zM644.5 367.5h1v2h-1zM627.5 369.5h1v2h-1zM634.5 369.5h1v2h-1zM640.5 369.5h1v2h-1zM643.5 369.5h1v2h-1zM646.5 369.5h2v2h-2zM635.5 371.5h1v2h-1zM638.5 371.5h2v2h-2zM644.5 371.5h1v2h-1zM618.5 373.5h1v2h-1zM623.5 373.5h1v2h-1zM627.5 373.5h1v2h-1zM629.5 373.5h1v2h-1zM636.5 373.5h1v2h-1zM640.5 373.5h1v2h-1zM646.5 373.5h4v2h-4zM661.5 373.5h1v2h-1zM627.5 375.5h1v2h-1zM637.5 375.5h1v2h-1zM644.5 375.5h1v2h-1zM647.5 375.5h1v2h-1zM649.5 375.5h2v2h-2zM652.5 375.5h1v2h-1zM623.5 377.5h1v2h-1zM630.5 377.5h3v2h-3zM648.5 377.5h1v2h-1zM651.5 377.5h1v2h-1zM633.5 379.5h2v2h-2zM639.5 379.5h1v2h-1zM648.5 379.5h1v2h-1zM650.5 379.5h1v2h-1zM633.5 381.5h1v2h-1zM623.5 419.5h1v2h-1zM636.5 423.5h1v2h-1zM635.5 425.5h2v2h-2zM638.5 425.5h1v2h-1zM647.5 425.5h1v2h-1zM652.5 425.5h1v2h-1zM612.5 427.5h1v2h-1zM630.5 431.5h1v2h-1zM642.5 431.5h1v2h-1zM612.5 433.5h1v2h-1zM634.5 433.5h1v2h-1zM623.5 439.5h1v2h-1zM631.5 439.5h1v2h-1zM646.5 439.5h1v2h-1zM618.5 441.5h1v2h-1zM630.5 441.5h1v2h-1zM634.5 441.5h2v2h-2zM638.5 441.5h1v2h-1zM646.5 441.5h2v2h-2zM650.5 441.5h1v2h-1zM658.5 441.5h1v2h-1zM665.5 441.5h1v2h-1zM676.5 441.5h1v2h-1zM599.5 443.5h1v2h-1zM602.5 443.5h1v2h-1zM606.5 443.5h1v2h-1zM608.5 443.5h2v2h-2zM611.5 443.5h1v2h-1zM615.5 443.5h2v2h-2zM618.5 443.5h1v2h-1zM622.5 443.5h2v2h-2zM625.5 443.5h1v2h-1zM647.5 443.5h1v2h-1zM650.5 443.5h1v2h-1zM652.5 443.5h1v2h-1zM667.5 443.5h1v2h-1zM674.5 443.5h1v2h-1zM680.5 443.5h1v2h-1zM599.5 445.5h1v2h-1zM607.5 445.5h1v2h-1zM611.5 445.5h1v2h-1zM617.5 445.5h1v2h-1zM657.5 445.5h1v2h-1zM662.5 445.5h1v2h-1zM666.5 445.5h2v2h-2zM670.5 445.5h1v2h-1zM604.5 447.5h1v2h-1zM606.5 447.5h1v2h-1zM608.5 447.5h1v2h-1zM618.5 447.5h1v2h-1zM657.5 447.5h1v2h-1zM660.5 447.5h2v2h-2zM675.5 447.5h1v2h-1zM680.5 447.5h1v2h-1zM684.5 447.5h1v2h-1zM598.5 449.5h1v2h-1zM602.5 449.5h2v2h-2zM608.5 449.5h4v2h-4zM651.5 449.5h1v2h-1zM655.5 449.5h1v2h-1zM664.5 449.5h2v2h-2zM673.5 449.5h1v2h-1zM617.5 451.5h1v2h-1zM621.5 451.5h1v2h-1zM625.5 451.5h2v2h-2zM629.5 451.5h1v2h-1zM654.5 451.5h1v2h-1zM658.5 451.5h2v2h-2zM662.5 451.5h1v2h-1zM669.5 451.5h1v2h-1zM599.5 453.5h1v2h-1zM603.5 453.5h1v2h-1zM605.5 453.5h1v2h-1zM608.5 453.5h1v2h-1zM616.5 453.5h1v2h-1zM618.5 453.5h1v2h-1zM624.5 453.5h1v2h-1zM626.5 453.5h1v2h-1zM630.5 453.5h3v2h-3zM635.5 453.5h1v2h-1zM643.5 453.5h1v2h-1zM665.5 453.5h2v2h-2zM645.5 455.5h1v2h-1zM647.5 455.5h1v2h-1zM654.5 457.5h1v2h-1zM623.5 489.5h1v2h-1zM618.5 491.5h1v2h-1zM628.5 491.5h1v2h-1zM634.5 491.5h2v2h-2zM603.5 493.5h1v2h-1zM606.5 493.5h1v2h-1zM615.5 493.5h1v2h-1zM617.5 493.5h1v2h-1zM632.5 493.5h1v2h-1zM638.5 493.5h1v2h-1zM641.5 493.5h2v2h-2zM644.5 493.5h1v2h-1zM600.5 495.5h1v2h-1zM613.5 495.5h1v2h-1zM642.5 495.5h1v2h-1zM595.5 497.5h1v2h-1zM604.5 497.5h1v2h-1zM613.5 497.5h1v2h-1zM615.5 497.5h1v2h-1zM639.5 497.5h1v2h-1zM642.5 497.5h1v2h-1zM605.5 499.5h1v2h-1zM614.5 499.5h1v2h-1zM616.5 499.5h1v2h-1zM637.5 499.5h1v2h-1zM641.5 499.5h2v2h-2zM647.5 499.5h1v2h-1zM655.5 499.5h1v2h-1zM602.5 501.5h1v2h-1zM607.5 501.5h2v2h-2zM615.5 501.5h3v2h-3zM619.5 501.5h2v2h-2zM641.5 501.5h1v2h-1zM645.5 501.5h2v2h-2zM650.5 501.5h1v2h-1zM605.5 503.5h2v2h-2zM612.5 503.5h2v2h-2zM615.5 503.5h1v2h-1zM619.5 503.5h1v2h-1zM628.5 503.5h1v2h-1zM646.5 503.5h1v2h-1zM649.5 503.5h1v2h-1zM651.5 503.5h1v2h-1zM653.5 503.5h1v2h-1zM659.5 503.5h1v2h-1zM598.5 505.5h1v2h-1zM609.5 505.5h1v2h-1zM623.5 505.5h2v2h-2zM630.5 505.5h1v2h-1zM640.5 505.5h2v2h-2zM643.5 505.5h1v2h-1zM647.5 505.5h3v2h-3zM654.5 505.5h1v2h-1zM612.5 507.5h2v2h-2zM615.5 507.5h1v2h-1zM624.5 507.5h2v2h-2zM630.5 507.5h1v2h-1zM640.5 507.5h1v2h-1zM646.5 507.5h1v2h-1zM613.5 509.5h1v2h-1zM619.5 509.5h2v2h-2zM624.5 509.5h1v2h-1zM626.5 509.5h2v2h-2zM629.5 509.5h3v2h-3zM617.5 511.5h1v2h-1zM621.5 511.5h1v2h-1zM626.5 511.5h1v2h-1zM629.5 511.5h1v2h-1zM629.5 513.5h1v2h-1zM614.5 515.5h1v2h-1zM621.5 515.5h1v2h-1zM637.5 521.5h1v2h-1zM639.5 521.5h1v2h-1zM648.5 521.5h1v2h-1zM654.5 521.5h1v2h-1zM623.5 523.5h1v2h-1zM627.5 523.5h1v2h-1zM634.5 523.5h1v2h-1zM636.5 523.5h1v2h-1zM640.5 523.5h2v2h-2zM643.5 523.5h1v2h-1zM645.5 523.5h1v2h-1zM650.5 523.5h1v2h-1zM618.5 525.5h1v2h-1zM625.5 525.5h1v2h-1zM628.5 525.5h3v2h-3zM632.5 525.5h1v2h-1zM634.5 525.5h2v2h-2zM638.5 525.5h3v2h-3zM642.5 525.5h2v2h-2zM646.5 525.5h1v2h-1zM652.5 525.5h1v2h-1zM618.5 527.5h2v2h-2zM650.5 527.5h1v2h-1zM656.5 527.5h1v2h-1zM658.5 527.5h2v2h-2zM669.5 527.5h1v2h-1zM680.5 527.5h1v2h-1zM615.5 529.5h1v2h-1zM621.5 529.5h1v2h-1zM624.5 529.5h2v2h-2zM647.5 529.5h1v2h-1zM655.5 529.5h1v2h-1zM660.5 529.5h1v2h-1zM672.5 529.5h1v2h-1zM612.5 531.5h1v2h-1zM617.5 531.5h1v2h-1zM619.5 531.5h3v2h-3zM624.5 531.5h1v2h-1zM648.5 531.5h1v2h-1zM654.5 531.5h1v2h-1zM660.5 531.5h1v2h-1zM674.5 531.5h1v2h-1zM676.5 531.5h1v2h-1zM618.5 533.5h2v2h-2zM624.5 533.5h1v2h-1zM652.5 533.5h2v2h-2zM655.5 533.5h1v2h-1zM660.5 533.5h1v2h-1zM670.5 533.5h1v2h-1zM677.5 533.5h1v2h-1zM613.5 535.5h1v2h-1zM620.5 535.5h3v2h-3zM648.5 535.5h2v2h-2zM652.5 535.5h1v2h-1zM655.5 535.5h1v2h-1zM661.5 535.5h1v2h-1zM673.5 535.5h1v2h-1zM676.5 535.5h1v2h-1zM616.5 537.5h1v2h-1zM620.5 537.5h1v2h-1zM623.5 537.5h1v2h-1zM629.5 537.5h1v2h-1zM631.5 537.5h1v2h-1zM653.5 537.5h1v2h-1zM659.5 537.5h1v2h-1zM661.5 537.5h1v2h-1zM680.5 537.5h1v2h-1zM597.5 539.5h1v2h-1zM617.5 539.5h2v2h-2zM620.5 539.5h1v2h-1zM625.5 539.5h1v2h-1zM632.5 539.5h1v2h-1zM634.5 539.5h1v2h-1zM646.5 539.5h2v2h-2zM653.5 539.5h2v2h-2zM631.5 541.5h1v2h-1zM634.5 541.5h1v2h-1zM639.5 541.5h1v2h-1zM647.5 541.5h1v2h-1zM655.5 541.5h1v2h-1zM653.5 543.5h1v2h-1zM657.5 543.5h1v2h-1z"/>
<path fill="#8000ff" d="M641.5 371.5h1v2h-1zM628.5 373.5h1v2h-1zM632.5 373.5h1v2h-1zM635.5 373.5h1v2h-1zM637.5 373.5h1v2h-1zM623.5 375.5h1v2h-1zM628.5 375.5h1v2h-1zM630.5 375.5h1v2h-1zM632.5 375.5h1v2h-1zM634.5 375.5h2v2h-2zM641.5 375.5h3v2h-3zM646.5 375.5h1v2h-1zM640.5 377.5h2v2h-2zM643.5 379.5h1v2h-1zM626.5 431.5h1v2h-1zM614.5 441.5h1v2h-1zM627.5 441.5h1v2h-1zM631.5 441.5h1v2h-1zM642.5 441.5h1v2h-1zM645.5 441.5h1v2h-1zM649.5 441.5h1v2h-1zM656.5 441.5h1v2h-1zM614.5 443.5h1v2h-1zM620.5 443.5h2v2h-2zM624.5 443.5h1v2h-1zM651.5 443.5h1v2h-1zM657.5 443.5h1v2h-1zM603.5 445.5h1v2h-1zM614.5 445.5h2v2h-2zM659.5 445.5h1v2h-1zM668.5 445.5h1v2h-1zM674.5 445.5h1v2h-1zM651.5 447.5h1v2h-1zM653.5 447.5h1v2h-1zM662.5 447.5h3v2h-3zM666.5 447.5h1v2h-1zM669.5 447.5h1v2h-1zM612.5 449.5h1v2h-1zM616.5 449.5h1v2h-1zM621.5 449.5h1v2h-1zM657.5 449.5h1v2h-1zM659.5 449.5h1v2h-1zM661.5 449.5h1v2h-1zM666.5 449.5h1v2h-1zM613.5 451.5h2v2h-2zM616.5 451.5h1v2h-1zM620.5 451.5h1v2h-1zM622.5 451.5h1v2h-1zM631.5 451.5h1v2h-1zM642.5 451.5h2v2h-2zM651.5 451.5h1v2h-1zM660.5 451.5h1v2h-1zM619.5 453.5h1v2h-1zM628.5 453.5h1v2h-1zM633.5 453.5h1v2h-1zM641.5 453.5h1v2h-1zM646.5 453.5h1v2h-1zM648.5 453.5h1v2h-1zM620.5 491.5h1v2h-1zM631.5 491.5h1v2h-1zM618.5 493.5h1v2h-1zM636.5 493.5h2v2h-2zM615.5 495.5h1v2h-1zM638.5 495.5h2v2h-2zM641.5 495.5h1v2h-1zM616.5 497.5h1v2h-1zM618.5 497.5h1v2h-1zM617.5 499.5h1v2h-1zM635.5 499.5h1v2h-1zM638.5 499.5h1v2h-1zM612.5 501.5h1v2h-1zM618.5 501.5h1v2h-1zM609.5 503.5h2v2h-2zM616.5 503.5h1v2h-1zM621.5 503.5h2v2h-2zM642.5 503.5h1v2h-1zM650.5 503.5h1v2h-1zM613.5 505.5h1v2h-1zM615.5 505.5h1v2h-1zM619.5 505.5h1v2h-1zM626.5 505.5h1v2h-1zM632.5 505.5h2v2h-2zM635.5 505.5h1v2h-1zM642.5 505.5h1v2h-1zM611.5 507.5h1v2h-1zM617.5 507.5h2v2h-2zM620.5 507.5h1v2h-1zM626.5 507.5h1v2h-1zM632.5 509.5h1v2h-1zM619.5 511.5h1v2h-1zM632.5 511.5h1v2h-1zM626.5 523.5h1v2h-1zM629.5 523.5h1v2h-1zM637.5 523.5h1v2h-1zM626.5 525.5h1v2h-1zM641.5 525.5h1v2h-1zM644.5 525.5h1v2h-1zM648.5 525.5h1v2h-1zM623.5 527.5h1v2h-1zM627.5 527.5h1v2h-1zM646.5 527.5h1v2h-1zM649.5 527.5h1v2h-1zM654.5 527.5h1v2h-1zM617.5 529.5h1v2h-1zM653.5 529.5h1v2h-1zM627.5 531.5h1v2h-1zM651.5 531.5h1v2h-1zM625.5 533.5h1v2h-1zM648.5 533.5h1v2h-1zM596.5 535.5h1v2h-1zM617.5 535.5h1v2h-1zM629.5 535.5h1v2h-1zM653.5 535.5h1v2h-1zM664.5 535.5h1v2h-1zM619.5 537.5h1v2h-1zM626.5 537.5h1v2h-1zM630.5 537.5h1v2h-1zM631.5 539.5h1v2h-1zM633.5 539.5h1v2h-1zM640.5 539.5h1v2h-1z"/>
<path fill="#0000ff" d="M636.5 371.5h1v2h-1zM634.5 373.5h1v2h-1zM641.5 373.5h1v2h-1zM638.5 375.5h1v2h-1zM637.5 377.5h2v2h-2zM641.5 381.5h1v2h-1zM621.5 441.5h1v2h-1zM636.5 441.5h2v2h-2zM648.5 441.5h1v2h-1zM630.5 443.5h1v2h-1zM632.5 443.5h1v2h-1zM644.5 443.5h2v2h-2zM648.5 443.5h2v2h-2zM612.5 445.5h2v2h-2zM616.5 445.5h1v2h-1zM618.5 445.5h1v2h-1zM622.5 445.5h2v2h-2zM653.5 445.5h2v2h-2zM656.5 445.5h1v2h-1zM603.5 447.5h1v2h-1zM609.5 447.5h1v2h-1zM611.5 447.5h1v2h-1zM613.5 447.5h2v2h-2zM616.5 447.5h2v2h-2zM650.5 447.5h1v2h-1zM654.5 447.5h3v2h-3zM658.5 447.5h1v2h-1zM615.5 449.5h1v2h-1zM617.5 449.5h4v2h-4zM647.5 449.5h1v2h-1zM650.5 449.5h1v2h-1zM654.5 449.5h1v2h-1zM663.5 449.5h1v2h-1zM644.5 451.5h1v2h-1zM646.5 451.5h1v2h-1zM650.5 451.5h1v2h-1zM625.5 453.5h1v2h-1zM629.5 453.5h1v2h-1zM637.5 453.5h2v2h-2zM640.5 453.5h1v2h-1zM643.5 455.5h1v2h-1zM621.5 491.5h3v2h-3zM625.5 491.5h1v2h-1zM627.5 491.5h1v2h-1zM619.5 493.5h1v2h-1zM621.5 493.5h1v2h-1zM635.5 493.5h1v2h-1zM640.5 493.5h1v2h-1zM617.5 495.5h1v2h-1zM617.5 497.5h1v2h-1zM620.5 497.5h2v2h-2zM640.5 497.5h1v2h-1zM643.5 497.5h1v2h-1zM615.5 499.5h1v2h-1zM621.5 499.5h1v2h-1zM623.5 499.5h1v2h-1zM628.5 499.5h1v2h-1zM639.5 499.5h1v2h-1zM613.5 501.5h1v2h-1zM621.5 501.5h6v2h-6zM630.5 501.5h1v2h-1zM637.5 501.5h1v2h-1zM643.5 501.5h1v2h-1zM647.5 501.5h1v2h-1zM625.5 503.5h2v2h-2zM630.5 503.5h1v2h-1zM633.5 503.5h2v2h-2zM637.5 503.5h3v2h-3zM641.5 503.5h1v2h-1zM645.5 503.5h1v2h-1zM647.5 503.5h1v2h-1zM614.5 505.5h1v2h-1zM617.5 505.5h1v2h-1zM622.5 505.5h1v2h-1zM629.5 505.5h1v2h-1zM634.5 505.5h1v2h-1zM628.5 507.5h1v2h-1zM617.5 509.5h1v2h-1zM625.5 509.5h1v2h-1zM635.5 523.5h1v2h-1zM631.5 525.5h1v2h-1zM647.5 525.5h1v2h-1zM625.5 527.5h2v2h-2zM623.5 529.5h1v2h-1zM626.5 529.5h1v2h-1zM644.5 529.5h1v2h-1zM650.5 529.5h1v2h-1zM652.5 529.5h1v2h-1zM626.5 531.5h1v2h-1zM646.5 531.5h2v2h-2zM650.5 531.5h1v2h-1zM623.5 533.5h1v2h-1zM626.5 533.5h1v2h-1zM646.5 533.5h2v2h-2zM649.5 533.5h1v2h-1zM624.5 535.5h1v2h-1zM626.5 535.5h3v2h-3zM644.5 535.5h1v2h-1zM646.5 535.5h1v2h-1zM632.5 537.5h1v2h-1zM639.5 537.5h1v2h-1zM662.5 537.5h1v2h-1zM630.5 539.5h1v2h-1z"/>
<path fill="#0080ff" d="M642.5 373.5h1v2h-1zM639.5 375.5h1v2h-1zM639.5 377.5h1v2h-1zM639.5 441.5h1v2h-1zM626.5 443.5h1v2h-1zM655.5 445.5h1v2h-1zM607.5 447.5h1v2h-1zM619.5 447.5h1v2h-1zM659.5 447.5h1v2h-1zM613.5 449.5h2v2h-2zM628.5 451.5h1v2h-1zM640.5 451.5h1v2h-1zM634.5 453.5h1v2h-1zM626.5 491.5h1v2h-1zM630.5 491.5h1v2h-1zM633.5 491.5h1v2h-1zM635.5 497.5h1v2h-1zM627.5 501.5h1v2h-1zM629.5 501.5h1v2h-1zM631.5 501.5h1v2h-1zM620.5 503.5h1v2h-1zM623.5 503.5h2v2h-2zM629.5 503.5h1v2h-1zM643.5 503.5h1v2h-1zM627.5 505.5h1v2h-1zM623.5 507.5h1v2h-1zM616.5 509.5h1v2h-1zM622.5 509.5h2v2h-2zM628.5 527.5h2v2h-2zM639.5 527.5h1v2h-1zM642.5 527.5h1v2h-1zM644.5 527.5h2v2h-2zM628.5 529.5h2v2h-2zM645.5 529.5h1v2h-1zM625.5 531.5h1v2h-1zM628.5 531.5h1v2h-1zM649.5 531.5h1v2h-1zM627.5 533.5h1v2h-1zM645.5 533.5h1v2h-1zM623.5 535.5h1v2h-1zM625.5 535.5h1v2h-1zM633.5 537.5h1v2h-1zM635.5 537.5h1v2h-1zM642.5 537.5h1v2h-1zM638.5 539.5h1v2h-1z"/>
<path fill="#00ffff" d="M627.5 443.5h2v2h-2zM637.5 443.5h1v2h-1zM639.5 443.5h1v2h-1zM643.5 443.5h1v2h-1zM646.5 443.5h1v2h-1zM661.5 443.5h1v2h-1zM620.5 445.5h1v2h-1zM624.5 445.5h1v2h-1zM647.5 445.5h1v2h-1zM649.5 445.5h4v2h-4zM610.5 447.5h1v2h-1zM621.5 447.5h1v2h-1zM622.5 449.5h1v2h-1zM624.5 449.5h1v2h-1zM648.5 449.5h1v2h-1zM653.5 449.5h1v2h-1zM624.5 451.5h1v2h-1zM637.5 451.5h1v2h-1zM639.5 451.5h1v2h-1zM648.5 451.5h1v2h-1zM616.5 493.5h1v2h-1zM620.5 493.5h1v2h-1zM622.5 493.5h1v2h-1zM634.5 493.5h1v2h-1zM616.5 495.5h1v2h-1zM619.5 495.5h1v2h-1zM622.5 499.5h1v2h-1zM626.5 499.5h1v2h-1zM629.5 499.5h1v2h-1zM631.5 499.5h1v2h-1zM633.5 499.5h2v2h-2zM632.5 501.5h2v2h-2zM639.5 501.5h2v2h-2zM635.5 503.5h1v2h-1zM640.5 503.5h1v2h-1zM637.5 505.5h1v2h-1zM639.5 505.5h1v2h-1zM618.5 509.5h1v2h-1zM641.5 527.5h1v2h-1zM643.5 527.5h1v2h-1zM645.5 531.5h1v2h-1zM652.5 531.5h1v2h-1zM644.5 533.5h1v2h-1zM627.5 537.5h1v2h-1zM640.5 537.5h1v2h-1z"/>
<path fill="#00ff00" d="M633.5 375.5h1v2h-1zM629.5 443.5h1v2h-1zM641.5 443.5h1v2h-1zM649.5 447.5h1v2h-1zM652.5 447.5h1v2h-1zM652.5 449.5h1v2h-1zM630.5 451.5h1v2h-1zM635.5 451.5h1v2h-1zM638.5 451.5h1v2h-1zM645.5 451.5h1v2h-1zM629.5 491.5h1v2h-1zM625.5 493.5h2v2h-2zM630.5 493.5h1v2h-1zM619.5 497.5h1v2h-1zM620.5 499.5h1v2h-1zM624.5 499.5h1v2h-1zM635.5 501.5h2v2h-2zM627.5 503.5h1v2h-1zM621.5 505.5h1v2h-1zM625.5 505.5h1v2h-1zM636.5 505.5h1v2h-1zM637.5 525.5h1v2h-1zM640.5 527.5h1v2h-1zM630.5 529.5h1v2h-1zM642.5 529.5h1v2h-1zM629.5 531.5h1v2h-1zM631.5 535.5h1v2h-1zM628.5 537.5h1v2h-1zM637.5 537.5h2v2h-2zM643.5 537.5h1v2h-1zM646.5 537.5h1v2h-1z"/>
<path fill="#008040" d="M631.5 375.5h1v2h-1zM634.5 443.5h1v2h-1zM642.5 443.5h1v2h-1zM620.5 447.5h1v2h-1zM623.5 447.5h1v2h-1zM648.5 447.5h1v2h-1zM623.5 449.5h1v2h-1zM625.5 449.5h1v2h-1zM649.5 449.5h1v2h-1zM633.5 451.5h2v2h-2zM636.5 451.5h1v2h-1zM641.5 451.5h1v2h-1zM647.5 451.5h1v2h-1zM623.5 493.5h2v2h-2zM618.5 495.5h1v2h-1zM637.5 497.5h2v2h-2zM625.5 499.5h1v2h-1zM627.5 499.5h1v2h-1zM630.5 499.5h1v2h-1zM632.5 499.5h1v2h-1zM636.5 499.5h1v2h-1zM631.5 503.5h2v2h-2zM636.5 503.5h1v2h-1zM628.5 509.5h1v2h-1zM636.5 525.5h1v2h-1zM630.5 527.5h3v2h-3zM634.5 527.5h2v2h-2zM627.5 529.5h1v2h-1zM651.5 529.5h1v2h-1zM642.5 533.5h2v2h-2zM630.5 535.5h1v2h-1zM640.5 535.5h1v2h-1zM643.5 535.5h1v2h-1zM634.5 537.5h1v2h-1zM636.5 537.5h1v2h-1zM641.5 537.5h1v2h-1z"/>
<path fill="#408080" d="M636.5 443.5h1v2h-1zM640.5 443.5h1v2h-1zM619.5 445.5h1v2h-1zM621.5 445.5h1v2h-1zM622.5 447.5h1v2h-1zM645.5 449.5h2v2h-2zM623.5 451.5h1v2h-1zM632.5 451.5h1v2h-1zM628.5 493.5h2v2h-2zM633.5 493.5h1v2h-1zM622.5 495.5h1v2h-1zM622.5 497.5h2v2h-2zM630.5 497.5h1v2h-1zM633.5 497.5h1v2h-1zM636.5 497.5h1v2h-1zM633.5 527.5h1v2h-1zM636.5 527.5h1v2h-1zM638.5 527.5h1v2h-1zM641.5 529.5h1v2h-1zM643.5 529.5h1v2h-1zM628.5 533.5h1v2h-1zM630.5 533.5h1v2h-1zM641.5 535.5h2v2h-2z"/>
<path fill="#ffff00" d="M636.5 375.5h1v2h-1zM631.5 443.5h1v2h-1zM633.5 443.5h1v2h-1zM635.5 443.5h1v2h-1zM625.5 445.5h1v2h-1zM646.5 445.5h1v2h-1zM648.5 445.5h1v2h-1zM624.5 447.5h1v2h-1zM626.5 449.5h1v2h-1zM643.5 449.5h2v2h-2zM627.5 493.5h1v2h-1zM631.5 493.5h1v2h-1zM620.5 495.5h2v2h-2zM624.5 495.5h1v2h-1zM632.5 495.5h1v2h-1zM634.5 495.5h1v2h-1zM636.5 495.5h2v2h-2zM624.5 497.5h1v2h-1zM626.5 497.5h1v2h-1zM629.5 497.5h1v2h-1zM634.5 497.5h1v2h-1zM642.5 531.5h1v2h-1zM644.5 531.5h1v2h-1zM629.5 533.5h1v2h-1zM640.5 533.5h1v2h-1zM632.5 535.5h2v2h-2zM637.5 535.5h2v2h-2z"/>
<path fill="#ffc080" d="M638.5 443.5h1v2h-1zM626.5 445.5h1v2h-1zM644.5 445.5h2v2h-2zM646.5 447.5h2v2h-2zM627.5 449.5h3v2h-3zM642.5 449.5h1v2h-1zM623.5 495.5h1v2h-1zM625.5 495.5h3v2h-3zM629.5 495.5h1v2h-1zM631.5 495.5h1v2h-1zM633.5 495.5h1v2h-1zM635.5 495.5h1v2h-1zM625.5 497.5h1v2h-1zM627.5 497.5h2v2h-2zM631.5 497.5h2v2h-2zM637.5 527.5h1v2h-1zM631.5 529.5h1v2h-1zM640.5 529.5h1v2h-1zM630.5 531.5h1v2h-1zM643.5 531.5h1v2h-1zM632.5 533.5h1v2h-1zM641.5 533.5h1v2h-1zM634.5 535.5h2v2h-2zM639.5 535.5h1v2h-1z"/>
<path fill="#ff8000" d="M627.5 445.5h2v2h-2zM625.5 447.5h1v2h-1zM631.5 449.5h1v2h-1zM640.5 449.5h2v2h-2zM630.5 495.5h1v2h-1zM632.5 529.5h1v2h-1zM634.5 529.5h1v2h-1zM637.5 529.5h3v2h-3zM631.5 531.5h2v2h-2zM631.5 533.5h1v2h-1zM633.5 533.5h1v2h-1zM639.5 533.5h1v2h-1zM636.5 535.5h1v2h-1z"/>
<path fill="#ff0080" d="M643.5 445.5h1v2h-1zM626.5 447.5h2v2h-2zM645.5 447.5h1v2h-1zM630.5 449.5h1v2h-1zM633.5 449.5h1v2h-1zM628.5 495.5h1v2h-1zM636.5 529.5h1v2h-1zM633.5 531.5h1v2h-1zM639.5 531.5h2v2h-2zM638.5 533.5h1v2h-1z"/>
<path fill="#ff0000" d="M629.5 445.5h1v2h-1zM642.5 445.5h1v2h-1zM634.5 449.5h1v2h-1zM636.5 449.5h1v2h-1zM638.5 449.5h2v2h-2zM633.5 529.5h1v2h-1zM635.5 529.5h1v2h-1zM634.5 531.5h2v2h-2zM638.5 531.5h1v2h-1zM641.5 531.5h1v2h-1zM634.5 533.5h1v2h-1zM636.5 533.5h2v2h-2z"/>
<path fill="#c00000" d="M630.5 445.5h1v2h-1zM628.5 447.5h1v2h-1zM644.5 447.5h1v2h-1zM632.5 449.5h1v2h-1zM635.5 449.5h1v2h-1zM637.5 449.5h1v2h-1zM636.5 531.5h2v2h-2zM635.5 533.5h1v2h-1z"/>
<path fill="#800000" d="M631.5 445.5h2v2h-2zM640.5 445.5h2v2h-2zM629.5 447.5h1v2h-1zM643.5 447.5h1v2h-1z"/>
<path fill="#000000" d="M639.5 445.5h1v2h-1zM630.5 447.5h1v2h-1zM642.5 447.5h1v2h-1z"/>
<path fill="#808080" d="M633.5 445.5h6v2h-6zM631.5 447.5h1v2h-1zM641.5 447.5h1v2h-1z"/>
<path fill="#c0c0c0" d="M632.5 447.5h2v2h-2zM640.5 447.5h1v2h-1z"/>
<path fill="#ffffff" d="M634.5 447.5h6v2h-6z"/>
</g>
<g clip-path="url(#c1)" shape-rendering="crispEdges">
<path fill="#ff50ff" d="M84 54h1v1h-1zM493 55h1v1h-1zM543 55h1v1h-1zM571 55h1v1h-1zM594 57h1v1h-1zM605 57h1v1h-1zM637 60h1v1h-1zM663 60h1v1h-1zM83 61h1v1h-1zM250 61h1v1h-1zM310 62h1v1h-1zM502 62h1v1h-1zM641 62h1v1h-1zM226 63h1v1h-1zM351 63h1v1h-1zM157 64h1v1h-1zM303 64h1v1h-1zM498 64h1v1h-1zM507 64h1v1h-1zM584 64h1v1h-1zM354 65h1v1h-1zM555 65h1v1h-1zM629 65h1v1h-1zM103 66h1v1h-1zM129 66h1v1h-1zM162 66h1v1h-1zM354 66h1v1h-1zM425 66h1v1h-1zM437 66h1v1h-1zM495 66h1v1h-1zM648 66h1v1h-1zM167 67h1v1h-1zM242 67h1v1h-1zM611 67h1v1h-1zM635 67h1v1h-1zM659 67h1v1h-1zM97 68h1v1h-1zM125 68h1v1h-1zM236 68h1v1h-1zM245 68h1v1h-1zM560 68h1v1h-1zM568 68h1v1h-1zM673 68h1v1h-1zM85 69h1v1h-1zM297 69h1v1h-1zM352 69h1v1h-1zM491 69h1v1h-1zM498 69h1v1h-1zM500 69h1v1h-1zM511 69h1v1h-1zM555 69h1v1h-1zM611 69h1v1h-1zM621 69h2v1h-2zM650 69h1v1h-1zM665 69h1v1h-1zM163 70h1v1h-1zM176 70h2v1h-2zM245 70h1v1h-1zM423 70h1v1h-1zM490 70h1v1h-1zM605 70h1v1h-1zM616 70h1v1h-1zM625 70h1v1h-1zM641 70h1v1h-1zM665 70h1v1h-1zM91 71h1v1h-1zM190 71h1v1h-1zM233 71h1v1h-1zM352 71h1v1h-1zM404 71h1v1h-1zM476 71h1v1h-1zM606 71h1v1h-1zM638 71h1v1h-1zM650 71h1v1h-1zM660 71h1v1h-1zM673 71h1v1h-1zM248 72h1v1h-1zM299 72h1v1h-1zM352 72h1v1h-1zM400 72h1v1h-1zM584 72h1v1h-1zM641 72h1v1h-1zM660 72h1v1h-1zM665 72h1v1h-1zM85 73h1v1h-1zM196 73h1v1h-1zM210 73h1v1h-1zM272 73h1v1h-1zM303 73h1v1h-1zM352 73h1v1h-1zM397 73h1v1h-1zM488 73h1v1h-1zM572 73h1v1h-1zM578 73h1v1h-1zM641 73h1v1h-1zM660 73h2v1h-2zM665 73h1v1h-1zM85 74h1v1h-1zM195 74h1v1h-1zM245 74h1v1h-1zM272 74h1v1h-1zM338 74h1v1h-1zM352 74h1v1h-1zM418 74h1v1h-1zM490 74h1v1h-1zM498 74h1v1h-1zM511 74h1v1h-1zM518 74h1v1h-1zM521 74h1v1h-1zM564 74h1v1h-1zM581 74h1v1h-1zM600 74h1v1h-1zM618 74h1v1h-1zM649 74h1v1h-1zM661 74h1v1h-1zM665 74h1v1h-1zM673 74h1v1h-1zM190 75h1v1h-1zM195 75h1v1h-1zM267 75h1v1h-1zM401 75h1v1h-1zM409 75h1v1h-1zM514 75h1v1h-1zM567 75h1v1h-1zM572 75h1v1h-1zM581 75h1v1h-1zM588 75h1v1h-1zM607 75h1v1h-1zM609 75h1v1h-1zM85 76h1v1h-1zM106 76h1v1h-1zM118 76h1v1h-1zM147 76h1v1h-1zM177 76h1v1h-1zM196 76h1v1h-1zM247 76h1v1h-1zM277 76h1v1h-1zM335 76h1v1h-1zM379 76h1v1h-1zM403 76h1v1h-1zM473 76h1v1h-1zM500 76h1v1h-1zM535 76h1v1h-1zM563 76h1v1h-1zM578 76h1v1h-1zM596 76h1v1h-1zM616 76h1v1h-1zM629 76h1v1h-1zM635 76h1v1h-1zM655 76h1v1h-1zM74 77h1v1h-1zM115 77h1v1h-1zM127 77h1v1h-1zM137 77h1v1h-1zM161 77h1v1h-1zM195 77h1v1h-1zM244 77h3v1h-3zM274 77h1v1h-1zM303 77h1v1h-1zM336 77h1v1h-1zM404 77h1v1h-1zM460 77h1v1h-1zM468 77h1v1h-1zM511 77h1v1h-1zM555 77h1v1h-1zM567 77h1v1h-1zM580 77h1v1h-1zM584 77h1v1h-1zM590 77h1v1h-1zM621 77h1v1h-1zM635 77h1v1h-1zM77 78h1v1h-1zM80 78h1v1h-1zM191 78h1v1h-1zM195 78h1v1h-1zM198 78h2v1h-2zM207 78h1v1h-1zM258 78h1v1h-1zM272 78h1v1h-1zM335 78h1v1h-1zM364 78h1v1h-1zM490 78h1v1h-1zM514 78h1v1h-1zM567 78h1v1h-1zM572 78h1v1h-1zM575 78h1v1h-1zM581 78h1v1h-1zM585 78h1v1h-1zM609 78h1v1h-1zM612 78h1v1h-1zM621 78h1v1h-1zM635 78h1v1h-1zM682 78h1v1h-1zM111 79h1v1h-1zM143 79h1v1h-1zM148 79h1v1h-1zM189 79h1v1h-1zM249 79h1v1h-1zM270 79h1v1h-1zM272 79h1v1h-1zM275 79h1v1h-1zM359 79h1v1h-1zM379 79h1v1h-1zM446 79h1v1h-1zM478 79h1v1h-1zM514 79h1v1h-1zM523 79h1v1h-1zM535 79h1v1h-1zM565 79h1v1h-1zM567 79h1v1h-1zM572 79h1v1h-1zM575 79h2v1h-2zM602 79h1v1h-1zM609 79h1v1h-1zM615 79h1v1h-1zM656 79h1v1h-1zM77 80h1v1h-1zM79 80h1v1h-1zM83 80h1v1h-1zM97 80h1v1h-1zM177 80h1v1h-1zM296 80h1v1h-1zM316 80h2v1h-2zM359 80h1v1h-1zM385 80h1v1h-1zM400 80h1v1h-1zM436 80h1v1h-1zM497 80h1v1h-1zM506 80h1v1h-1zM546 80h1v1h-1zM560 80h1v1h-1zM570 80h1v1h-1zM615 80h3v1h-3zM621 80h1v1h-1zM661 80h1v1h-1zM663 80h1v1h-1zM667 80h1v1h-1zM677 80h1v1h-1zM91 81h1v1h-1zM97 81h1v1h-1zM106 81h1v1h-1zM141 81h1v1h-1zM182 81h1v1h-1zM223 81h1v1h-1zM307 81h1v1h-1zM332 81h1v1h-1zM359 81h1v1h-1zM450 81h1v1h-1zM473 81h1v1h-1zM476 81h1v1h-1zM482 81h1v1h-1zM490 81h1v1h-1zM552 81h1v1h-1zM572 81h1v1h-1zM577 81h1v1h-1zM579 81h1v1h-1zM581 81h1v1h-1zM596 81h1v1h-1zM598 81h1v1h-1zM610 81h1v1h-1zM621 81h1v1h-1zM646 81h1v1h-1zM659 81h1v1h-1zM85 82h1v1h-1zM91 82h1v1h-1zM114 82h1v1h-1zM117 82h1v1h-1zM146 82h1v1h-1zM176 82h1v1h-1zM192 82h1v1h-1zM202 82h1v1h-1zM245 82h1v1h-1zM298 82h1v1h-1zM354 82h1v1h-1zM356 82h1v1h-1zM359 82h1v1h-1zM364 82h1v1h-1zM369 82h1v1h-1zM379 82h1v1h-1zM406 82h1v1h-1zM431 82h1v1h-1zM456 82h1v1h-1zM459 82h1v1h-1zM470 82h1v1h-1zM476 82h1v1h-1zM481 82h1v1h-1zM491 82h1v1h-1zM503 82h1v1h-1zM519 82h1v1h-1zM555 82h1v1h-1zM584 82h1v1h-1zM596 82h1v1h-1zM599 82h1v1h-1zM619 82h1v1h-1zM637 82h1v1h-1zM643 82h1v1h-1zM656 82h1v1h-1zM77 83h1v1h-1zM91 83h1v1h-1zM97 83h1v1h-1zM137 83h1v1h-1zM142 83h1v1h-1zM176 83h1v1h-1zM192 83h1v1h-1zM207 83h1v1h-1zM218 83h1v1h-1zM234 83h1v1h-1zM245 83h1v1h-1zM340 83h1v1h-1zM395 83h1v1h-1zM421 83h1v1h-1zM436 83h1v1h-1zM447 83h1v1h-1zM473 83h1v1h-1zM501 83h1v1h-1zM512 83h1v1h-1zM516 83h1v1h-1zM551 83h1v1h-1zM578 83h1v1h-1zM587 83h1v1h-1zM596 83h1v1h-1zM609 83h1v1h-1zM616 83h1v1h-1zM649 83h1v1h-1zM667 83h1v1h-1zM81 84h1v1h-1zM85 84h1v1h-1zM107 84h1v1h-1zM117 84h1v1h-1zM151 84h1v1h-1zM187 84h1v1h-1zM298 84h1v1h-1zM313 84h1v1h-1zM322 84h1v1h-1zM327 84h1v1h-1zM340 84h1v1h-1zM397 84h1v1h-1zM400 84h1v1h-1zM421 84h1v1h-1zM426 84h1v1h-1zM436 84h1v1h-1zM443 84h1v1h-1zM476 84h1v1h-1zM497 84h1v1h-1zM512 84h1v1h-1zM548 84h1v1h-1zM560 84h1v1h-1zM644 84h1v1h-1zM657 84h2v1h-2zM668 84h1v1h-1zM677 84h1v1h-1zM682 84h1v1h-1zM77 85h2v1h-2zM117 85h1v1h-1zM183 85h1v1h-1zM192 85h1v1h-1zM329 85h1v1h-1zM364 85h1v1h-1zM367 85h2v1h-2zM401 85h2v1h-2zM409 85h1v1h-1zM418 85h1v1h-1zM421 85h1v1h-1zM425 85h2v1h-2zM436 85h1v1h-1zM456 85h1v1h-1zM468 85h1v1h-1zM488 85h1v1h-1zM496 85h1v1h-1zM536 85h1v1h-1zM541 85h1v1h-1zM554 85h1v1h-1zM559 85h1v1h-1zM583 85h1v1h-1zM627 85h1v1h-1zM639 85h1v1h-1zM79 86h1v1h-1zM81 86h1v1h-1zM97 86h1v1h-1zM104 86h1v1h-1zM127 86h1v1h-1zM137 86h1v1h-1zM179 86h1v1h-1zM182 86h1v1h-1zM197 86h1v1h-1zM232 86h1v1h-1zM251 86h1v1h-1zM270 86h1v1h-1zM359 86h1v1h-1zM409 86h1v1h-1zM449 86h1v1h-1zM452 86h1v1h-1zM486 86h1v1h-1zM502 86h1v1h-1zM533 86h1v1h-1zM559 86h2v1h-2zM573 86h1v1h-1zM609 86h1v1h-1zM611 86h1v1h-1zM668 86h1v1h-1zM85 87h1v1h-1zM91 87h2v1h-2zM114 87h1v1h-1zM116 87h1v1h-1zM127 87h1v1h-1zM139 87h1v1h-1zM142 87h1v1h-1zM146 87h1v1h-1zM148 87h1v1h-1zM161 87h1v1h-1zM163 87h1v1h-1zM195 87h1v1h-1zM207 87h1v1h-1zM216 87h1v1h-1zM255 87h1v1h-1zM349 87h1v1h-1zM364 87h1v1h-1zM392 87h1v1h-1zM409 87h1v1h-1zM417 87h1v1h-1zM419 87h1v1h-1zM421 87h1v1h-1zM436 87h1v1h-1zM478 87h1v1h-1zM484 87h1v1h-1zM502 87h1v1h-1zM535 87h1v1h-1zM550 87h1v1h-1zM581 87h1v1h-1zM590 87h1v1h-1zM603 87h1v1h-1zM612 87h1v1h-1zM639 87h1v1h-1zM657 87h1v1h-1zM81 88h2v1h-2zM102 88h1v1h-1zM127 88h1v1h-1zM136 88h1v1h-1zM151 88h1v1h-1zM160 88h2v1h-2zM186 88h3v1h-3zM192 88h1v1h-1zM195 88h1v1h-1zM207 88h1v1h-1zM270 88h1v1h-1zM292 88h1v1h-1zM294 88h1v1h-1zM333 88h1v1h-1zM341 88h1v1h-1zM389 88h1v1h-1zM397 88h1v1h-1zM399 88h1v1h-1zM405 88h1v1h-1zM419 88h1v1h-1zM459 88h1v1h-1zM487 88h1v1h-1zM502 88h1v1h-1zM554 88h1v1h-1zM556 88h1v1h-1zM566 88h1v1h-1zM577 88h1v1h-1zM605 88h1v1h-1zM91 89h1v1h-1zM93 89h1v1h-1zM117 89h1v1h-1zM124 89h1v1h-1zM137 89h1v1h-1zM157 89h1v1h-1zM166 89h1v1h-1zM183 89h1v1h-1zM187 89h1v1h-1zM195 89h1v1h-1zM249 89h2v1h-2zM334 89h1v1h-1zM340 89h1v1h-1zM357 89h1v1h-1zM368 89h1v1h-1zM379 89h1v1h-1zM393 89h1v1h-1zM411 89h1v1h-1zM442 89h2v1h-2zM445 89h1v1h-1zM454 89h1v1h-1zM459 89h2v1h-2zM476 89h1v1h-1zM493 89h1v1h-1zM533 89h1v1h-1zM573 89h2v1h-2zM653 89h1v1h-1zM97 90h2v1h-2zM149 90h1v1h-1zM155 90h1v1h-1zM190 90h1v1h-1zM216 90h1v1h-1zM222 90h1v1h-1zM242 90h1v1h-1zM252 90h1v1h-1zM254 90h1v1h-1zM269 90h1v1h-1zM277 90h1v1h-1zM284 90h1v1h-1zM329 90h1v1h-1zM333 90h1v1h-1zM353 90h1v1h-1zM371 90h1v1h-1zM393 90h1v1h-1zM456 90h1v1h-1zM484 90h1v1h-1zM489 90h1v1h-1zM496 90h1v1h-1zM502 90h1v1h-1zM534 90h1v1h-1zM558 90h1v1h-1zM570 90h1v1h-1zM572 90h1v1h-1zM575 90h1v1h-1zM611 90h1v1h-1zM660 90h1v1h-1zM91 91h1v1h-1zM100 91h1v1h-1zM106 91h2v1h-2zM162 91h1v1h-1zM182 91h1v1h-1zM184 91h1v1h-1zM215 91h1v1h-1zM254 91h2v1h-2zM275 91h1v1h-1zM294 91h1v1h-1zM326 91h1v1h-1zM340 91h1v1h-1zM355 91h1v1h-1zM372 91h1v1h-1zM394 91h1v1h-1zM397 91h1v1h-1zM405 91h1v1h-1zM407 91h1v1h-1zM414 91h1v1h-1zM423 91h1v1h-1zM427 91h1v1h-1zM463 91h1v1h-1zM493 91h1v1h-1zM499 91h1v1h-1zM507 91h1v1h-1zM528 91h1v1h-1zM550 91h1v1h-1zM596 91h1v1h-1zM608 91h2v1h-2zM669 91h1v1h-1zM685 91h1v1h-1zM687 91h1v1h-1zM77 92h1v1h-1zM81 92h1v1h-1zM85 92h1v1h-1zM97 92h2v1h-2zM100 92h1v1h-1zM155 92h1v1h-1zM166 92h1v1h-1zM179 92h2v1h-2zM210 92h1v1h-1zM214 92h1v1h-1zM226 92h1v1h-1zM239 92h1v1h-1zM244 92h2v1h-2zM261 92h1v1h-1zM282 92h1v1h-1zM317 92h1v1h-1zM335 92h1v1h-1zM341 92h1v1h-1zM366 92h1v1h-1zM392 92h1v1h-1zM401 92h1v1h-1zM415 92h1v1h-1zM443 92h1v1h-1zM476 92h1v1h-1zM484 92h1v1h-1zM524 92h1v1h-1zM551 92h1v1h-1zM558 92h1v1h-1zM566 92h1v1h-1zM573 92h1v1h-1zM615 92h1v1h-1zM628 92h1v1h-1zM655 92h1v1h-1zM669 92h1v1h-1zM671 92h1v1h-1zM77 93h1v1h-1zM84 93h1v1h-1zM90 93h2v1h-2zM127 93h1v1h-1zM137 93h1v1h-1zM151 93h1v1h-1zM166 93h1v1h-1zM182 93h1v1h-1zM190 93h1v1h-1zM202 93h1v1h-1zM207 93h1v1h-1zM211 93h1v1h-1zM244 93h1v1h-1zM286 93h1v1h-1zM293 93h2v1h-2zM366 93h1v1h-1zM368 93h1v1h-1zM371 93h1v1h-1zM396 93h1v1h-1zM411 93h1v1h-1zM417 93h1v1h-1zM419 93h1v1h-1zM482 93h1v1h-1zM503 93h1v1h-1zM550 93h2v1h-2zM564 93h1v1h-1zM572 93h1v1h-1zM601 93h1v1h-1zM635 93h1v1h-1zM660 93h1v1h-1zM669 93h1v1h-1zM91 94h1v1h-1zM137 94h1v1h-1zM141 94h1v1h-1zM161 94h1v1h-1zM166 94h1v1h-1zM181 94h2v1h-2zM202 94h1v1h-1zM244 94h1v1h-1zM246 94h1v1h-1zM296 94h1v1h-1zM317 94h1v1h-1zM329 94h1v1h-1zM335 94h1v1h-1zM409 94h1v1h-1zM419 94h1v1h-1zM460 94h1v1h-1zM516 94h1v1h-1zM523 94h1v1h-1zM561 94h1v1h-1zM591 94h1v1h-1zM602 94h1v1h-1zM605 94h1v1h-1zM610 94h2v1h-2zM641 94h1v1h-1zM667 94h1v1h-1zM98 95h1v1h-1zM141 95h1v1h-1zM148 95h1v1h-1zM161 95h1v1h-1zM171 95h1v1h-1zM182 95h1v1h-1zM213 95h1v1h-1zM225 95h1v1h-1zM242 95h1v1h-1zM244 95h1v1h-1zM277 95h1v1h-1zM329 95h1v1h-1zM335 95h1v1h-1zM344 95h1v1h-1zM411 95h1v1h-1zM435 95h2v1h-2zM482 95h1v1h-1zM512 95h1v1h-1zM535 95h1v1h-1zM548 95h1v1h-1zM558 95h1v1h-1zM574 95h1v1h-1zM585 95h1v1h-1zM611 95h2v1h-2zM641 95h1v1h-1zM655 95h1v1h-1zM668 95h1v1h-1zM678 95h1v1h-1zM92 96h1v1h-1zM141 96h1v1h-1zM151 96h1v1h-1zM177 96h1v1h-1zM182 96h1v1h-1zM187 96h1v1h-1zM230 96h1v1h-1zM244 96h1v1h-1zM249 96h1v1h-1zM252 96h1v1h-1zM283 96h1v1h-1zM395 96h1v1h-1zM398 96h1v1h-1zM405 96h1v1h-1zM411 96h1v1h-1zM424 96h1v1h-1zM436 96h1v1h-1zM444 96h1v1h-1zM486 96h1v1h-1zM503 96h1v1h-1zM550 96h1v1h-1zM571 96h1v1h-1zM590 96h1v1h-1zM607 96h1v1h-1zM612 96h1v1h-1zM637 96h1v1h-1zM655 96h1v1h-1zM664 96h1v1h-1zM679 96h1v1h-1zM154 97h1v1h-1zM157 97h1v1h-1zM176 97h1v1h-1zM225 97h1v1h-1zM238 97h1v1h-1zM246 97h1v1h-1zM252 97h1v1h-1zM272 97h1v1h-1zM278 97h1v1h-1zM283 97h1v1h-1zM301 97h1v1h-1zM317 97h1v1h-1zM382 97h1v1h-1zM388 97h1v1h-1zM396 97h1v1h-1zM420 97h1v1h-1zM446 97h2v1h-2zM484 97h1v1h-1zM499 97h1v1h-1zM529 97h1v1h-1zM542 97h1v1h-1zM550 97h1v1h-1zM556 97h1v1h-1zM577 97h1v1h-1zM625 97h1v1h-1zM641 97h1v1h-1zM652 97h1v1h-1zM663 97h1v1h-1zM685 97h1v1h-1zM114 98h1v1h-1zM187 98h1v1h-1zM201 98h1v1h-1zM211 98h1v1h-1zM252 98h1v1h-1zM317 98h1v1h-1zM337 98h1v1h-1zM341 98h1v1h-1zM364 98h1v1h-1zM371 98h1v1h-1zM385 98h1v1h-1zM400 98h1v1h-1zM402 98h2v1h-2zM435 98h1v1h-1zM513 98h1v1h-1zM527 98h1v1h-1zM529 98h1v1h-1zM535 98h1v1h-1zM546 98h1v1h-1zM550 98h1v1h-1zM566 98h1v1h-1zM581 98h1v1h-1zM619 98h1v1h-1zM668 98h1v1h-1zM82 99h1v1h-1zM119 99h1v1h-1zM176 99h1v1h-1zM181 99h1v1h-1zM194 99h1v1h-1zM225 99h1v1h-1zM277 99h1v1h-1zM342 99h1v1h-1zM344 99h1v1h-1zM352 99h1v1h-1zM356 99h1v1h-1zM379 99h1v1h-1zM382 99h1v1h-1zM387 99h1v1h-1zM389 99h1v1h-1zM392 99h1v1h-1zM410 99h1v1h-1zM484 99h1v1h-1zM490 99h1v1h-1zM492 99h1v1h-1zM517 99h1v1h-1zM529 99h1v1h-1zM546 99h1v1h-1zM558 99h1v1h-1zM578 99h1v1h-1zM599 99h1v1h-1zM638 99h1v1h-1zM655 99h1v1h-1zM662 99h1v1h-1zM671 99h1v1h-1zM98 100h1v1h-1zM104 100h1v1h-1zM114 100h1v1h-1zM129 100h1v1h-1zM155 100h1v1h-1zM177 100h1v1h-1zM205 100h1v1h-1zM258 100h1v1h-1zM283 100h1v1h-1zM368 100h1v1h-1zM373 100h1v1h-1zM450 100h1v1h-1zM490 100h1v1h-1zM495 100h1v1h-1zM507 100h1v1h-1zM531 100h1v1h-1zM548 100h1v1h-1zM564 100h1v1h-1zM571 100h1v1h-1zM602 100h1v1h-1zM611 100h1v1h-1zM616 100h1v1h-1zM89 101h1v1h-1zM182 101h1v1h-1zM184 101h1v1h-1zM190 101h1v1h-1zM207 101h1v1h-1zM254 101h1v1h-1zM256 101h1v1h-1zM332 101h1v1h-1zM344 101h1v1h-1zM368 101h1v1h-1zM377 101h1v1h-1zM443 101h1v1h-1zM446 101h2v1h-2zM476 101h1v1h-1zM484 101h1v1h-1zM507 101h1v1h-1zM515 101h1v1h-1zM535 101h1v1h-1zM559 101h1v1h-1zM561 101h1v1h-1zM563 101h1v1h-1zM581 101h1v1h-1zM596 101h1v1h-1zM616 101h1v1h-1zM635 101h1v1h-1zM685 101h1v1h-1zM143 102h1v1h-1zM158 102h1v1h-1zM207 102h1v1h-1zM245 102h1v1h-1zM251 102h1v1h-1zM344 102h1v1h-1zM352 102h1v1h-1zM363 102h2v1h-2zM421 102h1v1h-1zM495 102h1v1h-1zM555 102h1v1h-1zM563 102h1v1h-1zM575 102h1v1h-1zM578 102h1v1h-1zM581 102h1v1h-1zM611 102h1v1h-1zM637 102h1v1h-1zM642 102h1v1h-1zM120 103h1v1h-1zM127 103h1v1h-1zM129 103h1v1h-1zM193 103h1v1h-1zM202 103h1v1h-1zM212 103h1v1h-1zM251 103h1v1h-1zM272 103h1v1h-1zM282 103h1v1h-1zM368 103h1v1h-1zM387 103h1v1h-1zM421 103h1v1h-1zM438 103h1v1h-1zM443 103h2v1h-2zM446 103h1v1h-1zM488 103h1v1h-1zM502 103h1v1h-1zM521 103h1v1h-1zM535 103h1v1h-1zM563 103h1v1h-1zM579 103h1v1h-1zM600 103h1v1h-1zM616 103h1v1h-1zM641 103h1v1h-1zM659 103h1v1h-1zM671 103h1v1h-1zM89 104h1v1h-1zM95 104h1v1h-1zM368 104h1v1h-1zM374 104h1v1h-1zM389 104h1v1h-1zM400 104h1v1h-1zM403 104h1v1h-1zM411 104h1v1h-1zM419 104h1v1h-1zM421 104h1v1h-1zM440 104h1v1h-1zM490 104h1v1h-1zM504 104h1v1h-1zM530 104h1v1h-1zM563 104h1v1h-1zM596 104h1v1h-1zM606 104h1v1h-1zM625 104h1v1h-1zM635 104h1v1h-1zM664 104h1v1h-1zM682 104h1v1h-1zM85 105h1v1h-1zM153 105h1v1h-1zM207 105h1v1h-1zM214 105h1v1h-1zM295 105h1v1h-1zM299 105h1v1h-1zM364 105h1v1h-1zM392 105h1v1h-1zM396 105h1v1h-1zM436 105h2v1h-2zM476 105h1v1h-1zM515 105h1v1h-1zM521 105h1v1h-1zM551 105h1v1h-1zM555 105h1v1h-1zM563 105h2v1h-2zM575 105h1v1h-1zM581 105h1v1h-1zM611 105h1v1h-1zM616 105h1v1h-1zM628 105h2v1h-2zM635 105h1v1h-1zM638 105h1v1h-1zM640 105h1v1h-1zM659 105h1v1h-1zM676 105h1v1h-1zM686 105h1v1h-1zM176 106h1v1h-1zM357 106h1v1h-1zM526 106h1v1h-1zM529 106h1v1h-1zM546 106h1v1h-1zM551 106h1v1h-1zM560 106h1v1h-1zM572 106h1v1h-1zM590 106h1v1h-1zM600 106h1v1h-1zM606 106h1v1h-1zM611 106h1v1h-1zM622 106h1v1h-1zM680 106h1v1h-1zM687 106h1v1h-1zM107 107h1v1h-1zM172 107h1v1h-1zM422 107h1v1h-1zM431 107h1v1h-1zM500 107h1v1h-1zM511 107h1v1h-1zM558 107h1v1h-1zM584 107h1v1h-1zM602 107h1v1h-1zM613 107h1v1h-1zM638 107h1v1h-1zM101 108h1v1h-1zM153 108h1v1h-1zM291 108h1v1h-1zM298 108h1v1h-1zM300 108h1v1h-1zM387 108h1v1h-1zM389 108h1v1h-1zM421 108h1v1h-1zM456 108h1v1h-1zM507 108h1v1h-1zM525 108h1v1h-1zM555 108h1v1h-1zM581 108h1v1h-1zM591 108h1v1h-1zM609 108h1v1h-1zM650 108h1v1h-1zM673 108h1v1h-1zM97 109h1v1h-1zM208 109h1v1h-1zM234 109h1v1h-1zM287 109h1v1h-1zM295 109h1v1h-1zM362 109h1v1h-1zM389 109h1v1h-1zM511 109h1v1h-1zM555 109h1v1h-1zM564 109h1v1h-1zM575 109h1v1h-1zM584 109h1v1h-1zM597 109h1v1h-1zM610 109h1v1h-1zM635 109h1v1h-1zM650 109h1v1h-1zM673 109h1v1h-1zM95 110h1v1h-1zM115 110h1v1h-1zM272 110h1v1h-1zM293 110h1v1h-1zM389 110h1v1h-1zM456 110h1v1h-1zM567 110h1v1h-1zM594 110h1v1h-1zM618 110h1v1h-1zM621 110h1v1h-1zM625 110h1v1h-1zM638 110h1v1h-1zM673 110h1v1h-1zM126 111h1v1h-1zM352 111h1v1h-1zM567 111h1v1h-1zM611 111h1v1h-1zM616 111h1v1h-1zM621 111h1v1h-1zM635 111h1v1h-1zM650 111h1v1h-1zM667 111h1v1h-1zM673 111h1v1h-1zM97 112h1v1h-1zM370 112h2v1h-2zM379 112h1v1h-1zM392 112h1v1h-1zM501 112h1v1h-1zM511 112h1v1h-1zM575 112h1v1h-1zM587 112h1v1h-1zM89 113h1v1h-1zM161 113h1v1h-1zM207 113h1v1h-1zM211 113h2v1h-2zM275 113h1v1h-1zM317 113h1v1h-1zM364 113h1v1h-1zM369 113h1v1h-1zM387 113h1v1h-1zM450 113h1v1h-1zM611 113h1v1h-1zM620 113h1v1h-1zM650 113h1v1h-1zM661 113h1v1h-1zM668 113h1v1h-1zM117 114h1v1h-1zM123 114h1v1h-1zM130 114h1v1h-1zM211 114h1v1h-1zM584 114h1v1h-1zM650 114h1v1h-1zM665 114h1v1h-1zM294 115h1v1h-1zM554 115h1v1h-1zM584 115h1v1h-1zM659 115h1v1h-1zM665 115h1v1h-1zM149 116h1v1h-1zM211 116h1v1h-1zM493 116h1v1h-1zM590 116h1v1h-1zM682 116h1v1h-1zM132 117h1v1h-1zM211 117h1v1h-1zM528 117h1v1h-1zM567 117h1v1h-1zM574 117h1v1h-1zM667 117h1v1h-1zM670 117h1v1h-1zM567 118h1v1h-1zM572 118h1v1h-1zM673 118h1v1h-1zM616 119h1v1h-1zM575 120h1v1h-1zM590 120h1v1h-1zM99 122h1v1h-1zM579 122h1v1h-1zM651 122h1v1h-1zM665 122h1v1h-1zM88 123h1v1h-1zM211 123h1v1h-1zM371 123h1v1h-1zM91 124h1v1h-1zM590 124h1v1h-1zM590 125h1v1h-1zM91 128h1v1h-1zM492 128h1v1h-1zM590 128h1v1h-1zM91 129h1v1h-1zM615 129h1v1h-1zM91 130h1v1h-1z"/>
<path fill="#8000ff" d="M659 69h1v1h-1zM498 70h1v1h-1zM655 70h1v1h-1zM659 70h1v1h-1zM673 70h1v1h-1zM641 71h1v1h-1zM665 71h1v1h-1zM195 72h1v1h-1zM403 72h1v1h-1zM535 72h1v1h-1zM572 72h1v1h-1zM673 72h1v1h-1zM225 73h1v1h-1zM511 73h1v1h-1zM535 73h1v1h-1zM352 75h1v1h-1zM535 75h1v1h-1zM584 75h1v1h-1zM611 75h1v1h-1zM629 75h1v1h-1zM659 75h1v1h-1zM665 75h1v1h-1zM190 76h1v1h-1zM245 76h1v1h-1zM352 76h1v1h-1zM85 77h1v1h-1zM272 77h1v1h-1zM535 77h1v1h-1zM611 77h1v1h-1zM352 78h1v1h-1zM584 78h1v1h-1zM606 78h1v1h-1zM629 78h1v1h-1zM244 79h1v1h-1zM335 79h1v1h-1zM581 79h1v1h-1zM606 79h1v1h-1zM661 79h1v1h-1zM114 80h1v1h-1zM195 80h1v1h-1zM403 80h1v1h-1zM535 80h1v1h-1zM581 80h1v1h-1zM625 80h1v1h-1zM682 80h1v1h-1zM81 81h1v1h-1zM117 81h1v1h-1zM207 81h1v1h-1zM245 81h1v1h-1zM403 81h1v1h-1zM567 81h1v1h-1zM606 81h1v1h-1zM635 81h1v1h-1zM106 82h1v1h-1zM166 82h1v1h-1zM207 82h1v1h-1zM521 82h1v1h-1zM572 82h1v1h-1zM609 82h1v1h-1zM650 82h1v1h-1zM141 83h1v1h-1zM166 83h1v1h-1zM190 83h1v1h-1zM476 83h1v1h-1zM511 83h1v1h-1zM521 83h1v1h-1zM560 83h1v1h-1zM581 83h1v1h-1zM97 84h1v1h-1zM177 84h1v1h-1zM225 84h1v1h-1zM546 84h1v1h-1zM606 84h1v1h-1zM81 85h1v1h-1zM106 85h1v1h-1zM127 85h1v1h-1zM202 85h1v1h-1zM245 85h1v1h-1zM397 85h1v1h-1zM535 85h1v1h-1zM555 85h1v1h-1zM611 85h1v1h-1zM117 86h1v1h-1zM151 86h1v1h-1zM195 86h1v1h-1zM329 86h1v1h-1zM364 86h1v1h-1zM456 86h1v1h-1zM546 86h1v1h-1zM682 86h1v1h-1zM77 87h1v1h-1zM137 87h1v1h-1zM141 87h1v1h-1zM397 87h1v1h-1zM521 87h1v1h-1zM546 87h1v1h-1zM137 88h1v1h-1zM155 88h1v1h-1zM166 88h1v1h-1zM252 88h1v1h-1zM436 88h1v1h-1zM476 88h1v1h-1zM521 88h1v1h-1zM590 88h1v1h-1zM85 89h1v1h-1zM106 89h1v1h-1zM252 89h1v1h-1zM283 89h1v1h-1zM341 89h1v1h-1zM403 89h1v1h-1zM546 89h1v1h-1zM581 89h1v1h-1zM602 89h1v1h-1zM77 90h1v1h-1zM114 90h1v1h-1zM127 90h1v1h-1zM182 90h1v1h-1zM590 90h1v1h-1zM77 91h1v1h-1zM114 91h1v1h-1zM137 91h1v1h-1zM176 91h1v1h-1zM190 91h1v1h-1zM195 91h1v1h-1zM207 91h1v1h-1zM419 91h1v1h-1zM502 91h1v1h-1zM132 92h1v1h-1zM151 92h1v1h-1zM176 92h1v1h-1zM182 92h1v1h-1zM254 92h1v1h-1zM329 92h1v1h-1zM352 92h1v1h-1zM535 92h1v1h-1zM641 92h1v1h-1zM344 93h1v1h-1zM609 93h1v1h-1zM114 94h1v1h-1zM207 94h1v1h-1zM341 94h1v1h-1zM364 94h1v1h-1zM436 94h1v1h-1zM563 94h1v1h-1zM177 95h1v1h-1zM207 95h1v1h-1zM245 95h1v1h-1zM352 95h1v1h-1zM447 95h1v1h-1zM521 95h1v1h-1zM550 95h1v1h-1zM572 95h1v1h-1zM682 95h1v1h-1zM190 96h1v1h-1zM225 96h1v1h-1zM546 96h1v1h-1zM596 96h1v1h-1zM190 97h1v1h-1zM245 97h1v1h-1zM371 97h1v1h-1zM596 97h1v1h-1zM635 97h1v1h-1zM668 97h1v1h-1zM177 98h1v1h-1zM245 98h1v1h-1zM392 98h1v1h-1zM459 98h1v1h-1zM484 98h1v1h-1zM609 98h1v1h-1zM611 98h1v1h-1zM625 98h1v1h-1zM635 98h1v1h-1zM682 98h1v1h-1zM207 99h1v1h-1zM364 99h1v1h-1zM400 99h1v1h-1zM535 99h1v1h-1zM89 100h1v1h-1zM371 100h1v1h-1zM546 100h1v1h-1zM606 100h1v1h-1zM625 100h1v1h-1zM629 100h1v1h-1zM635 100h1v1h-1zM371 101h1v1h-1zM419 101h1v1h-1zM436 101h1v1h-1zM511 101h1v1h-1zM567 101h1v1h-1zM578 101h1v1h-1zM611 101h1v1h-1zM400 102h1v1h-1zM511 102h1v1h-1zM606 102h1v1h-1zM609 102h1v1h-1zM629 102h1v1h-1zM419 103h1v1h-1zM436 103h1v1h-1zM456 103h1v1h-1zM578 103h1v1h-1zM606 103h1v1h-1zM611 103h1v1h-1zM650 103h1v1h-1zM207 104h1v1h-1zM211 104h1v1h-1zM364 104h1v1h-1zM578 104h1v1h-1zM621 104h1v1h-1zM629 104h1v1h-1zM659 104h1v1h-1zM661 105h1v1h-1zM153 106h1v1h-1zM555 106h1v1h-1zM581 106h1v1h-1zM584 106h1v1h-1zM609 106h1v1h-1zM638 106h1v1h-1zM661 106h1v1h-1zM682 106h1v1h-1zM89 107h1v1h-1zM521 107h1v1h-1zM567 107h1v1h-1zM606 107h1v1h-1zM661 107h1v1h-1zM572 108h1v1h-1zM584 108h1v1h-1zM616 108h1v1h-1zM665 108h1v1h-1zM117 109h1v1h-1zM567 109h1v1h-1zM89 110h1v1h-1zM584 110h1v1h-1zM650 110h1v1h-1zM661 110h1v1h-1zM294 111h1v1h-1zM211 112h1v1h-1zM673 112h1v1h-1zM132 113h1v1h-1zM371 113h1v1h-1zM572 113h1v1h-1zM89 115h1v1h-1zM572 115h1v1h-1zM371 117h1v1h-1zM572 117h1v1h-1zM572 119h1v1h-1zM371 121h1v1h-1zM572 123h1v1h-1zM590 123h1v1h-1zM91 126h1v1h-1zM91 127h1v1h-1zM91 132h1v1h-1z"/>
<path fill="#0000ff" d="M225 53h1v1h-1zM613 57h1v1h-1zM378 64h1v1h-1zM622 65h1v1h-1zM276 66h1v1h-1zM677 66h1v1h-1zM644 68h1v1h-1zM576 70h1v1h-1zM659 71h1v1h-1zM655 72h1v1h-1zM498 73h1v1h-1zM126 75h1v1h-1zM245 75h1v1h-1zM511 75h1v1h-1zM616 75h1v1h-1zM673 75h1v1h-1zM225 76h1v1h-1zM272 76h1v1h-1zM274 76h1v1h-1zM466 76h1v1h-1zM511 76h1v1h-1zM541 76h1v1h-1zM640 76h1v1h-1zM650 76h1v1h-1zM665 76h1v1h-1zM190 77h1v1h-1zM609 77h1v1h-1zM629 77h1v1h-1zM655 77h1v1h-1zM100 78h1v1h-1zM511 78h1v1h-1zM611 78h1v1h-1zM659 78h1v1h-1zM85 79h1v1h-1zM195 79h1v1h-1zM317 79h1v1h-1zM499 79h1v1h-1zM511 79h1v1h-1zM555 79h1v1h-1zM616 79h1v1h-1zM650 79h1v1h-1zM85 80h1v1h-1zM207 80h1v1h-1zM300 80h1v1h-1zM335 80h1v1h-1zM398 80h1v1h-1zM572 80h1v1h-1zM575 80h1v1h-1zM673 80h1v1h-1zM115 81h1v1h-1zM177 81h1v1h-1zM296 81h1v1h-1zM300 81h1v1h-1zM317 81h1v1h-1zM335 81h1v1h-1zM400 81h1v1h-1zM544 81h1v1h-1zM661 81h1v1h-1zM682 81h1v1h-1zM77 82h1v1h-1zM137 82h1v1h-1zM190 82h1v1h-1zM195 82h1v1h-1zM421 82h1v1h-1zM447 82h1v1h-1zM567 82h1v1h-1zM605 82h1v1h-1zM613 82h1v1h-1zM655 82h1v1h-1zM665 82h1v1h-1zM85 83h1v1h-1zM114 83h1v1h-1zM125 83h1v1h-1zM146 83h1v1h-1zM205 83h1v1h-1zM272 83h1v1h-1zM379 83h1v1h-1zM400 83h1v1h-1zM555 83h1v1h-1zM580 83h1v1h-1zM625 83h1v1h-1zM663 83h1v1h-1zM77 84h1v1h-1zM86 84h1v1h-1zM106 84h1v1h-1zM170 84h1v1h-1zM335 84h1v1h-1zM395 84h1v1h-1zM447 84h1v1h-1zM490 84h1v1h-1zM511 84h1v1h-1zM521 84h1v1h-1zM572 84h1v1h-1zM596 84h1v1h-1zM621 84h1v1h-1zM635 84h1v1h-1zM654 84h1v1h-1zM137 85h1v1h-1zM182 85h1v1h-1zM187 85h1v1h-1zM302 85h1v1h-1zM359 85h1v1h-1zM476 85h1v1h-1zM521 85h1v1h-1zM531 85h1v1h-1zM563 85h1v1h-1zM590 85h1v1h-1zM616 85h1v1h-1zM625 85h1v1h-1zM106 86h1v1h-1zM114 86h1v1h-1zM146 86h1v1h-1zM165 86h1v1h-1zM187 86h1v1h-1zM198 86h1v1h-1zM389 86h1v1h-1zM397 86h1v1h-1zM521 86h1v1h-1zM555 86h1v1h-1zM572 86h1v1h-1zM578 86h1v1h-1zM581 86h1v1h-1zM584 86h1v1h-1zM97 87h1v1h-1zM101 87h1v1h-1zM151 87h1v1h-1zM187 87h1v1h-1zM194 87h1v1h-1zM202 87h1v1h-1zM225 87h1v1h-1zM272 87h1v1h-1zM389 87h1v1h-1zM456 87h1v1h-1zM567 87h1v1h-1zM575 87h1v1h-1zM578 87h1v1h-1zM602 87h1v1h-1zM621 87h1v1h-1zM682 87h1v1h-1zM117 88h1v1h-1zM153 88h1v1h-1zM158 88h1v1h-1zM175 88h1v1h-1zM181 88h1v1h-1zM202 88h1v1h-1zM245 88h1v1h-1zM328 88h2v1h-2zM364 88h1v1h-1zM546 88h1v1h-1zM555 88h1v1h-1zM567 88h1v1h-1zM578 88h1v1h-1zM639 88h1v1h-1zM668 88h1v1h-1zM97 89h1v1h-1zM151 89h1v1h-1zM153 89h1v1h-1zM161 89h1v1h-1zM168 89h1v1h-1zM190 89h1v1h-1zM202 89h1v1h-1zM329 89h1v1h-1zM364 89h1v1h-1zM389 89h1v1h-1zM563 89h1v1h-1zM566 89h1v1h-1zM572 89h1v1h-1zM85 90h1v1h-1zM96 90h1v1h-1zM137 90h1v1h-1zM141 90h1v1h-1zM153 90h1v1h-1zM164 90h1v1h-1zM166 90h1v1h-1zM187 90h1v1h-1zM225 90h1v1h-1zM245 90h1v1h-1zM270 90h1v1h-1zM352 90h1v1h-1zM364 90h1v1h-1zM382 90h1v1h-1zM476 90h1v1h-1zM550 90h1v1h-1zM560 90h1v1h-1zM563 90h1v1h-1zM578 90h1v1h-1zM602 90h1v1h-1zM606 90h1v1h-1zM655 90h1v1h-1zM668 90h1v1h-1zM127 91h1v1h-1zM132 91h1v1h-1zM151 91h1v1h-1zM155 91h1v1h-1zM161 91h1v1h-1zM165 91h1v1h-1zM187 91h1v1h-1zM203 91h1v1h-1zM245 91h1v1h-1zM252 91h1v1h-1zM329 91h1v1h-1zM368 91h1v1h-1zM381 91h1v1h-1zM421 91h1v1h-1zM509 91h1v1h-1zM521 91h1v1h-1zM564 91h1v1h-1zM590 91h1v1h-1zM611 91h1v1h-1zM137 92h1v1h-1zM141 92h1v1h-1zM161 92h1v1h-1zM211 92h1v1h-1zM444 92h1v1h-1zM456 92h1v1h-1zM459 92h1v1h-1zM572 92h1v1h-1zM225 93h1v1h-1zM245 93h1v1h-1zM247 93h1v1h-1zM252 93h1v1h-1zM329 93h1v1h-1zM393 93h1v1h-1zM502 93h1v1h-1zM546 93h1v1h-1zM555 93h1v1h-1zM562 93h1v1h-1zM581 93h1v1h-1zM77 94h1v1h-1zM177 94h1v1h-1zM254 94h1v1h-1zM283 94h1v1h-1zM386 94h1v1h-1zM389 94h1v1h-1zM443 94h1v1h-1zM502 94h1v1h-1zM521 94h1v1h-1zM546 94h1v1h-1zM621 94h1v1h-1zM633 94h1v1h-1zM77 95h1v1h-1zM180 95h1v1h-1zM187 95h1v1h-1zM283 95h1v1h-1zM300 95h1v1h-1zM317 95h1v1h-1zM364 95h1v1h-1zM368 95h1v1h-1zM392 95h1v1h-1zM403 95h1v1h-1zM419 95h1v1h-1zM421 95h1v1h-1zM546 95h1v1h-1zM555 95h1v1h-1zM563 95h1v1h-1zM602 95h1v1h-1zM672 95h1v1h-1zM687 95h1v1h-1zM85 96h1v1h-1zM114 96h1v1h-1zM197 96h1v1h-1zM211 96h1v1h-1zM317 96h1v1h-1zM352 96h1v1h-1zM364 96h1v1h-1zM389 96h1v1h-1zM419 96h1v1h-1zM456 96h1v1h-1zM563 96h1v1h-1zM653 96h1v1h-1zM91 97h1v1h-1zM177 97h1v1h-1zM344 97h1v1h-1zM364 97h1v1h-1zM379 97h1v1h-1zM409 97h1v1h-1zM411 97h1v1h-1zM436 97h1v1h-1zM443 97h1v1h-1zM591 97h1v1h-1zM602 97h1v1h-1zM91 98h1v1h-1zM207 98h1v1h-1zM214 98h1v1h-1zM254 98h1v1h-1zM368 98h1v1h-1zM421 98h1v1h-1zM452 98h1v1h-1zM502 98h1v1h-1zM532 98h1v1h-1zM575 98h1v1h-1zM578 98h1v1h-1zM673 98h1v1h-1zM371 99h1v1h-1zM521 99h1v1h-1zM563 99h1v1h-1zM616 99h1v1h-1zM642 99h1v1h-1zM94 100h1v1h-1zM117 100h1v1h-1zM207 100h1v1h-1zM251 100h1v1h-1zM364 100h1v1h-1zM400 100h1v1h-1zM419 100h1v1h-1zM421 100h1v1h-1zM440 100h1v1h-1zM456 100h1v1h-1zM463 100h1v1h-1zM555 100h1v1h-1zM621 100h1v1h-1zM665 100h1v1h-1zM208 101h1v1h-1zM392 101h1v1h-1zM459 101h1v1h-1zM529 101h1v1h-1zM572 101h1v1h-1zM609 101h1v1h-1zM638 101h1v1h-1zM665 101h1v1h-1zM89 102h1v1h-1zM392 102h1v1h-1zM419 102h1v1h-1zM459 102h1v1h-1zM498 102h1v1h-1zM559 102h1v1h-1zM621 102h1v1h-1zM665 102h1v1h-1zM674 102h1v1h-1zM89 103h1v1h-1zM373 103h1v1h-1zM464 103h1v1h-1zM523 103h1v1h-1zM530 103h1v1h-1zM555 103h1v1h-1zM567 103h1v1h-1zM575 103h1v1h-1zM581 103h1v1h-1zM638 103h1v1h-1zM673 103h1v1h-1zM114 104h1v1h-1zM293 104h1v1h-1zM456 104h1v1h-1zM511 104h1v1h-1zM529 104h1v1h-1zM555 104h1v1h-1zM560 104h1v1h-1zM567 104h1v1h-1zM580 104h1v1h-1zM584 104h1v1h-1zM609 104h1v1h-1zM645 104h1v1h-1zM650 104h1v1h-1zM673 104h1v1h-1zM680 104h1v1h-1zM125 105h1v1h-1zM389 105h1v1h-1zM498 105h1v1h-1zM511 105h1v1h-1zM560 105h1v1h-1zM572 105h1v1h-1zM609 105h1v1h-1zM621 105h1v1h-1zM673 105h1v1h-1zM677 105h1v1h-1zM89 106h1v1h-1zM117 106h1v1h-1zM129 106h1v1h-1zM392 106h1v1h-1zM456 106h1v1h-1zM511 106h1v1h-1zM567 106h1v1h-1zM616 106h1v1h-1zM629 106h1v1h-1zM101 107h1v1h-1zM211 107h1v1h-1zM294 107h1v1h-1zM427 107h1v1h-1zM456 107h1v1h-1zM498 107h1v1h-1zM572 107h1v1h-1zM650 107h1v1h-1zM498 108h1v1h-1zM558 108h1v1h-1zM567 108h1v1h-1zM392 109h1v1h-1zM572 109h1v1h-1zM616 109h1v1h-1zM665 109h1v1h-1zM132 110h1v1h-1zM211 110h1v1h-1zM294 110h1v1h-1zM509 110h1v1h-1zM572 110h1v1h-1zM668 110h1v1h-1zM89 111h1v1h-1zM117 111h1v1h-1zM371 111h1v1h-1zM498 111h1v1h-1zM572 111h1v1h-1zM590 111h1v1h-1zM389 112h1v1h-1zM650 112h1v1h-1zM173 114h1v1h-1zM572 114h1v1h-1zM211 115h1v1h-1zM588 116h1v1h-1zM371 118h1v1h-1zM129 120h1v1h-1zM371 120h1v1h-1zM91 122h1v1h-1zM91 123h1v1h-1zM91 125h1v1h-1zM572 127h1v1h-1z"/>
<path fill="#0080ff" d="M659 72h1v1h-1zM629 73h1v1h-1zM225 74h1v1h-1zM641 75h1v1h-1zM650 75h1v1h-1zM655 75h1v1h-1zM641 77h1v1h-1zM665 77h1v1h-1zM616 78h1v1h-1zM641 78h1v1h-1zM650 78h1v1h-1zM190 79h1v1h-1zM225 79h1v1h-1zM225 80h1v1h-1zM244 80h2v1h-2zM272 80h1v1h-1zM511 81h1v1h-1zM609 81h1v1h-1zM611 81h1v1h-1zM625 81h1v1h-1zM641 81h1v1h-1zM403 82h1v1h-1zM535 82h1v1h-1zM590 82h1v1h-1zM625 82h1v1h-1zM629 82h1v1h-1zM641 82h1v1h-1zM661 82h1v1h-1zM195 83h1v1h-1zM535 83h1v1h-1zM575 83h1v1h-1zM611 83h1v1h-1zM141 84h1v1h-1zM146 84h1v1h-1zM195 84h1v1h-1zM245 84h1v1h-1zM575 84h1v1h-1zM578 84h1v1h-1zM650 84h1v1h-1zM141 85h1v1h-1zM176 85h2v1h-2zM207 85h1v1h-1zM225 85h1v1h-1zM317 85h1v1h-1zM400 85h1v1h-1zM490 85h1v1h-1zM584 85h1v1h-1zM655 85h1v1h-1zM661 85h1v1h-1zM207 86h1v1h-1zM535 86h1v1h-1zM563 86h1v1h-1zM106 87h1v1h-1zM117 87h1v1h-1zM155 87h1v1h-1zM166 87h1v1h-1zM182 87h1v1h-1zM379 87h1v1h-1zM560 87h1v1h-1zM563 87h1v1h-1zM609 87h1v1h-1zM641 87h1v1h-1zM97 88h1v1h-1zM225 88h1v1h-1zM379 88h1v1h-1zM535 88h1v1h-1zM581 88h1v1h-1zM77 89h1v1h-1zM127 89h1v1h-1zM225 89h1v1h-1zM244 89h1v1h-1zM300 89h1v1h-1zM436 89h1v1h-1zM521 89h1v1h-1zM555 89h1v1h-1zM560 89h1v1h-1zM590 89h1v1h-1zM650 89h1v1h-1zM151 90h1v1h-1zM202 90h1v1h-1zM368 90h1v1h-1zM682 90h1v1h-1zM85 91h1v1h-1zM166 91h1v1h-1zM341 91h1v1h-1zM364 91h1v1h-1zM456 91h1v1h-1zM459 91h1v1h-1zM476 91h1v1h-1zM436 92h1v1h-1zM521 92h1v1h-1zM546 92h1v1h-1zM550 92h1v1h-1zM602 92h1v1h-1zM668 92h1v1h-1zM132 93h1v1h-1zM254 93h1v1h-1zM317 93h1v1h-1zM341 93h1v1h-1zM352 93h1v1h-1zM436 93h1v1h-1zM498 93h1v1h-1zM575 93h1v1h-1zM596 93h1v1h-1zM655 93h1v1h-1zM85 94h1v1h-1zM176 94h1v1h-1zM187 94h1v1h-1zM294 94h1v1h-1zM403 94h1v1h-1zM459 94h1v1h-1zM490 94h1v1h-1zM555 94h1v1h-1zM572 94h1v1h-1zM625 94h1v1h-1zM176 95h1v1h-1zM202 95h1v1h-1zM252 95h1v1h-1zM459 95h1v1h-1zM490 95h1v1h-1zM581 95h1v1h-1zM590 95h1v1h-1zM596 95h1v1h-1zM629 95h1v1h-1zM91 96h1v1h-1zM443 96h1v1h-1zM498 96h1v1h-1zM535 96h1v1h-1zM575 96h1v1h-1zM584 96h1v1h-1zM611 96h1v1h-1zM629 96h1v1h-1zM352 97h1v1h-1zM389 97h1v1h-1zM392 97h1v1h-1zM400 97h1v1h-1zM521 97h1v1h-1zM621 97h1v1h-1zM650 97h1v1h-1zM379 98h1v1h-1zM389 98h1v1h-1zM436 98h1v1h-1zM443 98h1v1h-1zM132 99h1v1h-1zM254 99h1v1h-1zM368 99h1v1h-1zM419 99h1v1h-1zM447 99h1v1h-1zM459 99h1v1h-1zM581 99h1v1h-1zM611 99h1v1h-1zM621 99h1v1h-1zM91 100h1v1h-1zM344 100h1v1h-1zM389 100h1v1h-1zM459 100h1v1h-1zM521 100h1v1h-1zM578 100h1v1h-1zM590 100h1v1h-1zM609 100h1v1h-1zM659 100h1v1h-1zM211 101h1v1h-1zM560 101h1v1h-1zM575 101h1v1h-1zM132 102h1v1h-1zM521 102h1v1h-1zM560 102h1v1h-1zM638 102h1v1h-1zM371 103h1v1h-1zM392 103h1v1h-1zM572 103h1v1h-1zM584 103h1v1h-1zM153 104h1v1h-1zM498 104h1v1h-1zM521 104h1v1h-1zM616 104h1v1h-1zM665 104h1v1h-1zM89 105h1v1h-1zM91 106h1v1h-1zM211 106h1v1h-1zM560 107h1v1h-1zM616 107h1v1h-1zM673 107h1v1h-1zM117 108h1v1h-1zM211 108h1v1h-1zM371 108h1v1h-1zM101 109h1v1h-1zM294 109h1v1h-1zM211 111h1v1h-1zM89 112h1v1h-1zM117 112h1v1h-1zM132 112h1v1h-1zM590 113h1v1h-1zM590 114h1v1h-1zM590 115h1v1h-1zM371 116h1v1h-1zM91 121h1v1h-1z"/>
<path fill="#00ffff" d="M659 73h1v1h-1zM629 74h1v1h-1zM498 76h1v1h-1zM584 76h1v1h-1zM641 76h1v1h-1zM659 76h1v1h-1zM606 77h1v1h-1zM673 78h1v1h-1zM655 79h1v1h-1zM659 79h1v1h-1zM665 79h1v1h-1zM629 80h1v1h-1zM641 80h1v1h-1zM665 80h1v1h-1zM176 81h1v1h-1zM190 81h1v1h-1zM272 81h1v1h-1zM616 81h1v1h-1zM650 81h1v1h-1zM665 81h1v1h-1zM177 82h1v1h-1zM606 82h1v1h-1zM616 82h1v1h-1zM300 83h1v1h-1zM606 83h1v1h-1zM137 84h1v1h-1zM176 84h1v1h-1zM359 84h1v1h-1zM403 84h1v1h-1zM555 84h1v1h-1zM567 84h1v1h-1zM581 84h1v1h-1zM655 84h1v1h-1zM661 84h1v1h-1zM97 85h1v1h-1zM114 85h1v1h-1zM272 85h1v1h-1zM447 85h1v1h-1zM572 85h1v1h-1zM575 85h1v1h-1zM596 85h1v1h-1zM602 85h1v1h-1zM606 85h1v1h-1zM609 85h1v1h-1zM682 85h1v1h-1zM177 86h1v1h-1zM225 86h1v1h-1zM300 86h1v1h-1zM447 86h1v1h-1zM621 86h1v1h-1zM555 87h1v1h-1zM490 88h1v1h-1zM572 88h1v1h-1zM655 88h1v1h-1zM659 88h1v1h-1zM665 88h1v1h-1zM682 88h1v1h-1zM155 89h1v1h-1zM335 89h1v1h-1zM352 89h1v1h-1zM484 89h1v1h-1zM535 89h1v1h-1zM575 89h1v1h-1zM621 89h1v1h-1zM635 89h1v1h-1zM673 89h1v1h-1zM177 90h1v1h-1zM207 90h1v1h-1zM379 90h1v1h-1zM389 90h1v1h-1zM403 90h1v1h-1zM421 90h1v1h-1zM447 90h1v1h-1zM596 90h1v1h-1zM625 90h1v1h-1zM101 91h1v1h-1zM117 91h1v1h-1zM141 91h1v1h-1zM177 91h1v1h-1zM244 91h1v1h-1zM546 91h1v1h-1zM641 91h1v1h-1zM659 91h1v1h-1zM668 91h1v1h-1zM127 92h1v1h-1zM177 92h1v1h-1zM207 92h1v1h-1zM300 92h1v1h-1zM364 92h1v1h-1zM379 92h1v1h-1zM661 92h1v1h-1zM117 93h1v1h-1zM153 93h1v1h-1zM177 93h1v1h-1zM535 93h1v1h-1zM611 93h1v1h-1zM621 93h1v1h-1zM641 93h1v1h-1zM127 94h1v1h-1zM211 94h1v1h-1zM252 94h1v1h-1zM300 94h1v1h-1zM344 94h1v1h-1zM578 94h1v1h-1zM581 94h1v1h-1zM596 94h1v1h-1zM635 94h1v1h-1zM668 94h1v1h-1zM682 94h1v1h-1zM132 95h1v1h-1zM211 95h1v1h-1zM389 95h1v1h-1zM443 95h1v1h-1zM502 95h1v1h-1zM560 95h1v1h-1zM567 95h1v1h-1zM578 95h1v1h-1zM621 95h1v1h-1zM625 95h1v1h-1zM117 96h1v1h-1zM176 96h1v1h-1zM484 96h1v1h-1zM567 96h1v1h-1zM606 96h1v1h-1zM635 96h1v1h-1zM673 96h1v1h-1zM211 97h1v1h-1zM300 97h1v1h-1zM421 97h1v1h-1zM502 97h1v1h-1zM578 97h1v1h-1zM584 97h1v1h-1zM590 97h1v1h-1zM606 97h1v1h-1zM659 97h1v1h-1zM132 98h1v1h-1zM419 98h1v1h-1zM456 98h1v1h-1zM555 98h1v1h-1zM563 98h1v1h-1zM602 98h1v1h-1zM659 98h1v1h-1zM687 98h1v1h-1zM456 99h1v1h-1zM555 99h1v1h-1zM572 99h1v1h-1zM584 99h1v1h-1zM596 99h1v1h-1zM606 99h1v1h-1zM609 99h1v1h-1zM650 99h1v1h-1zM682 99h1v1h-1zM392 100h1v1h-1zM443 100h1v1h-1zM560 100h1v1h-1zM567 100h1v1h-1zM572 100h1v1h-1zM575 100h1v1h-1zM101 101h1v1h-1zM153 101h1v1h-1zM521 101h1v1h-1zM389 102h1v1h-1zM529 102h1v1h-1zM567 102h1v1h-1zM616 102h1v1h-1zM673 102h1v1h-1zM687 102h1v1h-1zM529 103h1v1h-1zM560 103h1v1h-1zM682 103h1v1h-1zM572 104h1v1h-1zM294 105h1v1h-1zM584 105h1v1h-1zM650 106h1v1h-1zM132 107h1v1h-1zM371 110h1v1h-1zM572 112h1v1h-1zM572 116h1v1h-1zM91 119h1v1h-1z"/>
<path fill="#00ff00" d="M673 73h1v1h-1zM498 75h1v1h-1zM498 78h1v1h-1zM535 78h1v1h-1zM352 79h1v1h-1zM498 79h1v1h-1zM498 80h1v1h-1zM611 80h1v1h-1zM659 80h1v1h-1zM85 81h1v1h-1zM272 82h1v1h-1zM317 82h1v1h-1zM602 82h1v1h-1zM635 82h1v1h-1zM81 83h1v1h-1zM225 83h1v1h-1zM635 83h1v1h-1zM650 83h1v1h-1zM673 83h1v1h-1zM535 84h1v1h-1zM166 85h1v1h-1zM567 85h1v1h-1zM635 85h1v1h-1zM665 85h1v1h-1zM166 86h1v1h-1zM403 86h1v1h-1zM490 86h1v1h-1zM641 86h1v1h-1zM661 86h1v1h-1zM177 87h1v1h-1zM616 87h1v1h-1zM655 87h1v1h-1zM77 88h1v1h-1zM106 88h1v1h-1zM141 88h1v1h-1zM177 88h1v1h-1zM182 88h1v1h-1zM190 88h1v1h-1zM272 88h1v1h-1zM403 88h1v1h-1zM560 88h1v1h-1zM563 88h1v1h-1zM621 88h1v1h-1zM625 88h1v1h-1zM650 88h1v1h-1zM245 89h1v1h-1zM272 89h1v1h-1zM317 89h1v1h-1zM421 89h1v1h-1zM456 89h1v1h-1zM584 89h1v1h-1zM611 89h1v1h-1zM655 89h1v1h-1zM101 90h1v1h-1zM244 90h1v1h-1zM535 90h1v1h-1zM659 90h1v1h-1zM153 91h1v1h-1zM225 91h1v1h-1zM272 91h1v1h-1zM283 91h1v1h-1zM300 91h1v1h-1zM567 91h1v1h-1zM572 91h1v1h-1zM575 91h1v1h-1zM682 91h1v1h-1zM101 92h1v1h-1zM153 92h1v1h-1zM389 92h1v1h-1zM563 92h1v1h-1zM635 92h1v1h-1zM187 93h1v1h-1zM364 93h1v1h-1zM379 93h1v1h-1zM456 93h1v1h-1zM590 93h1v1h-1zM673 93h1v1h-1zM132 94h1v1h-1zM272 94h1v1h-1zM352 94h1v1h-1zM421 94h1v1h-1zM535 94h1v1h-1zM616 94h1v1h-1zM629 94h1v1h-1zM659 94h1v1h-1zM272 95h1v1h-1zM294 95h1v1h-1zM379 95h1v1h-1zM456 95h1v1h-1zM484 95h1v1h-1zM616 95h1v1h-1zM659 95h1v1h-1zM400 96h1v1h-1zM459 96h1v1h-1zM502 96h1v1h-1zM621 96h1v1h-1zM625 96h1v1h-1zM101 97h1v1h-1zM132 97h1v1h-1zM207 97h1v1h-1zM459 97h1v1h-1zM546 97h1v1h-1zM572 97h1v1h-1zM101 98h1v1h-1zM572 98h1v1h-1zM294 99h1v1h-1zM567 99h1v1h-1zM590 99h1v1h-1zM687 99h1v1h-1zM563 100h1v1h-1zM661 100h1v1h-1zM673 100h1v1h-1zM584 101h1v1h-1zM661 101h1v1h-1zM584 102h1v1h-1zM650 102h1v1h-1zM211 103h1v1h-1zM117 104h1v1h-1zM117 105h1v1h-1zM211 105h1v1h-1zM456 105h1v1h-1zM132 108h1v1h-1zM294 108h1v1h-1zM89 109h1v1h-1zM590 109h1v1h-1zM91 113h1v1h-1zM371 115h1v1h-1z"/>
<path fill="#008040" d="M659 74h1v1h-1zM659 77h1v1h-1zM190 78h1v1h-1zM665 78h1v1h-1zM190 80h1v1h-1zM511 80h1v1h-1zM635 80h1v1h-1zM655 80h1v1h-1zM225 81h1v1h-1zM352 81h1v1h-1zM584 81h1v1h-1zM244 82h1v1h-1zM400 82h1v1h-1zM611 82h1v1h-1zM177 83h1v1h-1zM317 83h1v1h-1zM490 83h1v1h-1zM498 83h1v1h-1zM661 83h1v1h-1zM244 84h1v1h-1zM300 84h1v1h-1zM625 84h1v1h-1zM335 85h1v1h-1zM581 85h1v1h-1zM641 85h1v1h-1zM77 86h1v1h-1zM244 86h2v1h-2zM379 86h1v1h-1zM421 86h1v1h-1zM476 86h1v1h-1zM567 86h1v1h-1zM575 86h1v1h-1zM596 86h1v1h-1zM602 86h1v1h-1zM616 86h1v1h-1zM650 86h1v1h-1zM176 87h1v1h-1zM317 87h1v1h-1zM403 87h1v1h-1zM447 87h1v1h-1zM490 87h1v1h-1zM511 87h1v1h-1zM584 87h1v1h-1zM596 87h1v1h-1zM659 87h1v1h-1zM673 87h1v1h-1zM114 88h1v1h-1zM335 88h1v1h-1zM352 88h1v1h-1zM575 88h1v1h-1zM609 88h1v1h-1zM611 88h1v1h-1zM635 88h1v1h-1zM114 89h1v1h-1zM447 89h1v1h-1zM502 89h1v1h-1zM596 89h1v1h-1zM682 89h1v1h-1zM117 90h1v1h-1zM176 90h1v1h-1zM272 90h1v1h-1zM283 90h1v1h-1zM490 90h1v1h-1zM521 90h1v1h-1zM584 90h1v1h-1zM635 90h1v1h-1zM661 90h1v1h-1zM335 91h1v1h-1zM484 91h1v1h-1zM490 91h1v1h-1zM560 91h1v1h-1zM578 91h1v1h-1zM621 91h1v1h-1zM114 92h1v1h-1zM187 92h1v1h-1zM225 92h1v1h-1zM400 92h1v1h-1zM421 92h1v1h-1zM590 92h1v1h-1zM596 92h1v1h-1zM609 92h1v1h-1zM611 92h1v1h-1zM621 92h1v1h-1zM101 93h1v1h-1zM114 93h1v1h-1zM283 93h1v1h-1zM484 93h1v1h-1zM490 93h1v1h-1zM578 93h1v1h-1zM625 93h1v1h-1zM668 93h1v1h-1zM101 94h1v1h-1zM117 94h1v1h-1zM225 94h1v1h-1zM379 94h1v1h-1zM456 94h1v1h-1zM484 94h1v1h-1zM550 94h1v1h-1zM560 94h1v1h-1zM590 94h1v1h-1zM609 94h1v1h-1zM665 94h1v1h-1zM635 95h1v1h-1zM254 96h1v1h-1zM379 96h1v1h-1zM392 96h1v1h-1zM421 96h1v1h-1zM511 96h1v1h-1zM578 96h1v1h-1zM581 96h1v1h-1zM609 96h1v1h-1zM616 96h1v1h-1zM650 96h1v1h-1zM665 96h1v1h-1zM682 96h1v1h-1zM254 97h1v1h-1zM456 97h1v1h-1zM490 97h1v1h-1zM498 97h1v1h-1zM560 97h1v1h-1zM567 97h1v1h-1zM575 97h1v1h-1zM609 97h1v1h-1zM687 97h1v1h-1zM344 98h1v1h-1zM511 98h1v1h-1zM560 98h1v1h-1zM621 98h1v1h-1zM629 98h1v1h-1zM650 98h1v1h-1zM661 98h1v1h-1zM665 98h1v1h-1zM101 99h1v1h-1zM511 99h1v1h-1zM665 99h1v1h-1zM529 100h1v1h-1zM581 100h1v1h-1zM687 100h1v1h-1zM117 101h1v1h-1zM389 101h1v1h-1zM498 101h1v1h-1zM621 101h1v1h-1zM659 101h1v1h-1zM117 102h1v1h-1zM211 102h1v1h-1zM443 102h1v1h-1zM91 103h1v1h-1zM511 103h1v1h-1zM609 103h1v1h-1zM132 104h1v1h-1zM392 104h1v1h-1zM638 104h1v1h-1zM91 105h1v1h-1zM132 105h1v1h-1zM650 105h1v1h-1zM665 105h1v1h-1zM101 106h1v1h-1zM132 106h1v1h-1zM294 106h1v1h-1zM371 106h1v1h-1zM371 107h1v1h-1zM590 107h1v1h-1zM211 109h1v1h-1zM371 109h1v1h-1zM371 114h1v1h-1zM91 117h1v1h-1zM91 120h1v1h-1z"/>
<path fill="#408080" d="M641 74h1v1h-1zM352 77h1v1h-1zM225 78h1v1h-1zM673 79h1v1h-1zM352 80h1v1h-1zM535 81h1v1h-1zM655 81h1v1h-1zM225 82h1v1h-1zM335 82h1v1h-1zM352 82h1v1h-1zM490 82h1v1h-1zM673 82h1v1h-1zM629 83h1v1h-1zM641 83h1v1h-1zM655 83h1v1h-1zM317 84h1v1h-1zM352 84h1v1h-1zM498 84h1v1h-1zM609 84h1v1h-1zM611 84h1v1h-1zM616 84h1v1h-1zM244 85h1v1h-1zM300 85h1v1h-1zM511 85h1v1h-1zM621 85h1v1h-1zM650 85h1v1h-1zM673 85h1v1h-1zM85 86h1v1h-1zM141 86h1v1h-1zM190 86h1v1h-1zM317 86h1v1h-1zM335 86h1v1h-1zM400 86h1v1h-1zM629 86h1v1h-1zM190 87h1v1h-1zM300 87h1v1h-1zM572 87h1v1h-1zM611 87h1v1h-1zM661 87h1v1h-1zM317 88h1v1h-1zM400 88h1v1h-1zM456 88h1v1h-1zM602 88h1v1h-1zM550 89h1v1h-1zM609 89h1v1h-1zM641 89h1v1h-1zM300 90h1v1h-1zM317 90h1v1h-1zM629 90h1v1h-1zM641 90h1v1h-1zM581 91h1v1h-1zM635 91h1v1h-1zM650 91h1v1h-1zM661 91h1v1h-1zM272 92h1v1h-1zM368 92h1v1h-1zM502 92h1v1h-1zM578 92h1v1h-1zM581 92h1v1h-1zM606 92h1v1h-1zM616 92h1v1h-1zM300 93h1v1h-1zM400 93h1v1h-1zM421 93h1v1h-1zM447 93h1v1h-1zM521 93h1v1h-1zM560 93h1v1h-1zM567 93h1v1h-1zM659 93h1v1h-1zM665 93h1v1h-1zM153 94h1v1h-1zM368 94h1v1h-1zM400 94h1v1h-1zM447 94h1v1h-1zM153 95h1v1h-1zM673 95h1v1h-1zM368 96h1v1h-1zM447 96h1v1h-1zM490 96h1v1h-1zM521 96h1v1h-1zM555 96h1v1h-1zM560 96h1v1h-1zM294 97h1v1h-1zM368 97h1v1h-1zM611 97h1v1h-1zM616 97h1v1h-1zM665 97h1v1h-1zM490 98h1v1h-1zM567 98h1v1h-1zM616 98h1v1h-1zM211 99h1v1h-1zM443 99h1v1h-1zM560 99h1v1h-1zM575 99h1v1h-1zM294 100h1v1h-1zM682 100h1v1h-1zM91 101h1v1h-1zM294 101h1v1h-1zM650 101h1v1h-1zM91 102h1v1h-1zM572 102h1v1h-1zM661 102h1v1h-1zM117 103h1v1h-1zM498 103h1v1h-1zM661 103h1v1h-1zM665 103h1v1h-1zM575 104h1v1h-1zM91 112h1v1h-1zM590 112h1v1h-1zM91 114h1v1h-1z"/>
<path fill="#ffff00" d="M225 77h1v1h-1zM498 77h1v1h-1zM629 79h1v1h-1zM498 81h1v1h-1zM629 81h1v1h-1zM300 82h1v1h-1zM665 83h1v1h-1zM207 84h1v1h-1zM584 84h1v1h-1zM665 84h1v1h-1zM673 84h1v1h-1zM85 85h1v1h-1zM190 85h1v1h-1zM379 85h1v1h-1zM176 86h1v1h-1zM272 86h1v1h-1zM655 86h1v1h-1zM665 86h1v1h-1zM244 87h1v1h-1zM476 87h1v1h-1zM606 87h1v1h-1zM625 87h1v1h-1zM629 87h1v1h-1zM650 87h1v1h-1zM665 87h1v1h-1zM176 88h1v1h-1zM244 88h1v1h-1zM300 88h1v1h-1zM421 88h1v1h-1zM629 88h1v1h-1zM641 88h1v1h-1zM661 88h1v1h-1zM490 89h1v1h-1zM511 89h1v1h-1zM567 89h1v1h-1zM498 90h1v1h-1zM555 90h1v1h-1zM616 90h1v1h-1zM202 91h1v1h-1zM400 91h1v1h-1zM447 91h1v1h-1zM498 91h1v1h-1zM563 91h1v1h-1zM584 91h1v1h-1zM602 91h1v1h-1zM606 91h1v1h-1zM665 91h1v1h-1zM117 92h1v1h-1zM252 92h1v1h-1zM555 92h1v1h-1zM567 92h1v1h-1zM673 92h1v1h-1zM176 93h1v1h-1zM272 93h1v1h-1zM389 93h1v1h-1zM459 93h1v1h-1zM498 94h1v1h-1zM567 94h1v1h-1zM661 94h1v1h-1zM673 94h1v1h-1zM91 95h1v1h-1zM254 95h1v1h-1zM400 95h1v1h-1zM606 95h1v1h-1zM609 95h1v1h-1zM572 96h1v1h-1zM602 96h1v1h-1zM153 97h1v1h-1zM555 97h1v1h-1zM563 97h1v1h-1zM661 97h1v1h-1zM682 97h1v1h-1zM153 98h1v1h-1zM498 99h1v1h-1zM498 100h1v1h-1zM650 100h1v1h-1zM687 101h1v1h-1zM153 103h1v1h-1zM371 104h1v1h-1zM371 105h1v1h-1zM91 107h1v1h-1zM91 108h1v1h-1zM91 109h1v1h-1zM91 115h1v1h-1zM91 116h1v1h-1zM91 118h1v1h-1z"/>
<path fill="#ffc080" d="M673 81h1v1h-1zM498 82h1v1h-1zM659 82h1v1h-1zM335 83h1v1h-1zM584 83h1v1h-1zM629 84h1v1h-1zM641 84h1v1h-1zM352 85h1v1h-1zM498 85h1v1h-1zM629 85h1v1h-1zM659 85h1v1h-1zM352 86h1v1h-1zM511 86h1v1h-1zM625 86h1v1h-1zM447 88h1v1h-1zM596 88h1v1h-1zM616 88h1v1h-1zM400 89h1v1h-1zM616 89h1v1h-1zM659 89h1v1h-1zM400 90h1v1h-1zM581 90h1v1h-1zM609 90h1v1h-1zM621 90h1v1h-1zM673 90h1v1h-1zM317 91h1v1h-1zM379 91h1v1h-1zM535 91h1v1h-1zM555 91h1v1h-1zM673 91h1v1h-1zM490 92h1v1h-1zM498 92h1v1h-1zM560 92h1v1h-1zM575 92h1v1h-1zM625 92h1v1h-1zM629 92h1v1h-1zM650 92h1v1h-1zM563 93h1v1h-1zM629 93h1v1h-1zM661 93h1v1h-1zM575 94h1v1h-1zM584 94h1v1h-1zM606 94h1v1h-1zM101 95h1v1h-1zM511 95h1v1h-1zM575 95h1v1h-1zM584 95h1v1h-1zM661 95h1v1h-1zM665 95h1v1h-1zM344 96h1v1h-1zM661 96h1v1h-1zM419 97h1v1h-1zM629 97h1v1h-1zM673 97h1v1h-1zM498 98h1v1h-1zM584 98h1v1h-1zM153 99h1v1h-1zM661 99h1v1h-1zM132 100h1v1h-1zM153 100h1v1h-1zM211 100h1v1h-1zM511 100h1v1h-1zM153 102h1v1h-1zM101 103h1v1h-1zM621 103h1v1h-1zM294 104h1v1h-1zM661 104h1v1h-1zM590 105h1v1h-1zM91 110h1v1h-1z"/>
<path fill="#ff8000" d="M641 79h1v1h-1zM511 82h1v1h-1zM244 83h1v1h-1zM352 83h1v1h-1zM659 84h1v1h-1zM498 86h1v1h-1zM606 86h1v1h-1zM635 86h1v1h-1zM335 87h1v1h-1zM498 88h1v1h-1zM606 88h1v1h-1zM673 88h1v1h-1zM498 89h1v1h-1zM578 89h1v1h-1zM661 89h1v1h-1zM665 89h1v1h-1zM335 90h1v1h-1zM650 90h1v1h-1zM665 90h1v1h-1zM629 91h1v1h-1zM655 91h1v1h-1zM665 92h1v1h-1zM602 93h1v1h-1zM616 93h1v1h-1zM682 93h1v1h-1zM650 95h1v1h-1zM659 96h1v1h-1zM117 99h1v1h-1zM629 99h1v1h-1zM132 101h1v1h-1zM294 102h1v1h-1zM590 102h1v1h-1zM590 103h1v1h-1zM590 104h1v1h-1z"/>
<path fill="#ff0080" d="M659 83h1v1h-1zM272 84h1v1h-1zM659 86h1v1h-1zM673 86h1v1h-1zM352 87h1v1h-1zM511 88h1v1h-1zM584 88h1v1h-1zM176 89h1v1h-1zM606 89h1v1h-1zM629 89h1v1h-1zM511 90h1v1h-1zM616 91h1v1h-1zM625 91h1v1h-1zM584 92h1v1h-1zM682 92h1v1h-1zM606 93h1v1h-1zM294 96h1v1h-1zM511 97h1v1h-1zM581 97h1v1h-1zM294 98h1v1h-1zM521 98h1v1h-1zM101 100h1v1h-1zM590 101h1v1h-1zM673 101h1v1h-1zM101 102h1v1h-1zM132 103h1v1h-1zM91 104h1v1h-1z"/>
<path fill="#ff0000" d="M498 87h1v1h-1zM625 89h1v1h-1zM511 91h1v1h-1zM447 92h1v1h-1zM511 92h1v1h-1zM659 92h1v1h-1zM650 94h1v1h-1zM117 95h1v1h-1zM498 95h1v1h-1zM153 96h1v1h-1zM117 97h1v1h-1zM590 98h1v1h-1zM584 100h1v1h-1zM101 104h1v1h-1zM91 111h1v1h-1z"/>
<path fill="#c00000" d="M177 89h1v1h-1zM567 90h1v1h-1zM511 93h1v1h-1zM511 94h1v1h-1zM101 96h1v1h-1zM673 99h1v1h-1zM294 103h1v1h-1zM590 108h1v1h-1z"/>
<path fill="#800000" d="M117 98h1v1h-1z"/>
<path fill="#c0c0c0" d="M584 93h1v1h-1z"/>
</g>
<g clip-path="url(#c3)"><polyline points="595.5,244.8 595.5,242.4 595.9,240.4 596.2,236.4 596.7,231.1 596.9,227.5 598.1,224.7 599.2,223.1 602.0,222.3 604.4,221.9 608.5,221.3 611.9,220.7 617.1,219.1 621.6,217.9 622.3,216.5 618.5,215.9 623.1,215.3 623.7,213.9 624.6,212.7 635.8,211.4 646.2,210.2 656.0,208.8 662.6,207.4 674.6,206.6 683.5,205.6 677.6,204.0 670.4,203.0 659.6,201.4 644.5,200.2 629.8,199.0 617.1,198.2 608.9,197.4 605.6,196.6 603.0,195.4 600.5,193.8 599.2,192.2 597.7,191.3 596.7,190.9 596.4,189.3 596.2,187.3 595.9,184.9 595.8,182.1 595.5,178.1 595.5,157.6" fill="none" stroke="#000" stroke-width="1.7" stroke-linejoin="round"/></g>
<rect x="318.3" y="475.3" width="6" height="6" fill="none" stroke="#80ff40" stroke-width="1.2"/>
<rect x="306.4" y="481.0" width="6" height="6" fill="none" stroke="#80ff40" stroke-width="1.2"/>
<rect x="318.3" y="481.4" width="6" height="6" fill="none" stroke="#80ff40" stroke-width="1.2"/>
<rect x="301.2" y="486.2" width="6" height="6" fill="none" stroke="#80ff40" stroke-width="1.2"/>
<rect x="306.9" y="486.2" width="6" height="6" fill="none" stroke="#80ff40" stroke-width="1.2"/>
<rect x="304.5" y="489.0" width="6" height="6" fill="none" stroke="#80ff40" stroke-width="1.2"/>
<rect x="312.6" y="488.1" width="6" height="6" fill="none" stroke="#80ff40" stroke-width="1.2"/>
<rect x="320.2" y="487.1" width="6" height="6" fill="none" stroke="#80ff40" stroke-width="1.2"/>
<rect x="329.2" y="486.2" width="6" height="6" fill="none" stroke="#80ff40" stroke-width="1.2"/>
<rect x="322.6" y="501.4" width="6" height="6" fill="none" stroke="#80ff40" stroke-width="1.2"/>
<rect x="316.4" y="509.4" width="6" height="6" fill="none" stroke="#80ff40" stroke-width="1.2"/>
<rect x="334.7" y="417.2" width="6" height="6" fill="none" stroke="#80ff40" stroke-width="1.2"/>
<rect x="353.3" y="430.1" width="6" height="6" fill="none" stroke="#80ff40" stroke-width="1.2"/>
<rect x="379.3" y="428.3" width="6" height="6" fill="none" stroke="#80ff40" stroke-width="1.2"/>
<rect x="332.5" y="448.1" width="6" height="6" fill="none" stroke="#80ff40" stroke-width="1.2"/>
<rect x="68.50" y="763.50" width="22.70" height="25.00" fill="#ff50ff" />
<rect x="90.90" y="763.50" width="47.20" height="25.00" fill="#8000ff" />
<rect x="137.80" y="763.50" width="47.20" height="25.00" fill="#0000ff" />
<rect x="184.70" y="763.50" width="23.90" height="25.00" fill="#0080ff" />
<rect x="208.30" y="763.50" width="23.90" height="25.00" fill="#00ffff" />
<rect x="231.90" y="763.50" width="23.90" height="25.00" fill="#00ff00" />
<rect x="255.50" y="763.50" width="23.90" height="25.00" fill="#008040" />
<rect x="279.10" y="763.50" width="23.90" height="25.00" fill="#408080" />
<rect x="302.70" y="763.50" width="23.90" height="25.00" fill="#ffff00" />
<rect x="326.30" y="763.50" width="23.90" height="25.00" fill="#ffc080" />
<rect x="349.90" y="763.50" width="23.90" height="25.00" fill="#ff8000" />
<rect x="373.50" y="763.50" width="23.90" height="25.00" fill="#ff0080" />
<rect x="397.10" y="763.50" width="23.90" height="25.00" fill="#ff0000" />
<rect x="420.70" y="763.50" width="23.90" height="25.00" fill="#c00000" />
<rect x="444.30" y="763.50" width="23.90" height="25.00" fill="#800000" />
<rect x="467.90" y="763.50" width="23.90" height="25.00" fill="#000000" />
<rect x="491.50" y="763.50" width="23.90" height="25.00" fill="#808080" />
<rect x="515.10" y="763.50" width="23.90" height="25.00" fill="#c0c0c0" />
<rect x="538.70" y="763.50" width="26.10" height="25.00" fill="#ffffff" />
<rect x="68.5" y="763.5" width="496" height="25" fill="none" stroke="#000" stroke-width="1.1"/>
<line x1="119.5" y1="788.50" x2="119.5" y2="785.80" stroke="#000" stroke-width="1.1"/>
<line x1="149.5" y1="788.50" x2="149.5" y2="785.80" stroke="#000" stroke-width="1.1"/>
<line x1="170.5" y1="788.50" x2="170.5" y2="785.80" stroke="#000" stroke-width="1.1"/>
<line x1="187.5" y1="788.50" x2="187.5" y2="785.80" stroke="#000" stroke-width="1.1"/>
<line x1="200.5" y1="788.50" x2="200.5" y2="785.80" stroke="#000" stroke-width="1.1"/>
<line x1="212.5" y1="788.50" x2="212.5" y2="785.80" stroke="#000" stroke-width="1.1"/>
<line x1="222.5" y1="788.50" x2="222.5" y2="785.80" stroke="#000" stroke-width="1.1"/>
<line x1="230.5" y1="788.50" x2="230.5" y2="785.80" stroke="#000" stroke-width="1.1"/>
<line x1="238.5" y1="788.50" x2="238.5" y2="783.70" stroke="#000" stroke-width="1.1"/>
<line x1="289.5" y1="788.50" x2="289.5" y2="785.80" stroke="#000" stroke-width="1.1"/>
<line x1="319.5" y1="788.50" x2="319.5" y2="785.80" stroke="#000" stroke-width="1.1"/>
<line x1="340.5" y1="788.50" x2="340.5" y2="785.80" stroke="#000" stroke-width="1.1"/>
<line x1="357.5" y1="788.50" x2="357.5" y2="785.80" stroke="#000" stroke-width="1.1"/>
<line x1="370.5" y1="788.50" x2="370.5" y2="785.80" stroke="#000" stroke-width="1.1"/>
<line x1="382.5" y1="788.50" x2="382.5" y2="785.80" stroke="#000" stroke-width="1.1"/>
<line x1="392.5" y1="788.50" x2="392.5" y2="785.80" stroke="#000" stroke-width="1.1"/>
<line x1="400.5" y1="788.50" x2="400.5" y2="785.80" stroke="#000" stroke-width="1.1"/>
<line x1="408.5" y1="788.50" x2="408.5" y2="783.70" stroke="#000" stroke-width="1.1"/>
<line x1="459.5" y1="788.50" x2="459.5" y2="785.80" stroke="#000" stroke-width="1.1"/>
<line x1="489.5" y1="788.50" x2="489.5" y2="785.80" stroke="#000" stroke-width="1.1"/>
<line x1="510.5" y1="788.50" x2="510.5" y2="785.80" stroke="#000" stroke-width="1.1"/>
<line x1="527.5" y1="788.50" x2="527.5" y2="785.80" stroke="#000" stroke-width="1.1"/>
<line x1="540.5" y1="788.50" x2="540.5" y2="785.80" stroke="#000" stroke-width="1.1"/>
<line x1="552.5" y1="788.50" x2="552.5" y2="785.80" stroke="#000" stroke-width="1.1"/>
<line x1="562.5" y1="788.50" x2="562.5" y2="785.80" stroke="#000" stroke-width="1.1"/>
<text x="68.50" y="802.00" font-size="10.8" text-anchor="middle" >1</text>
<text x="238.50" y="802.00" font-size="10.8" text-anchor="middle" >10</text>
<text x="408.50" y="802.00" font-size="10.8" text-anchor="middle" >100</text>
<text x="641.00" y="784.30" font-size="16.2" text-anchor="middle" >Sources/7 km²</text>
<text x="380.50" y="33.00" font-size="16.67" text-anchor="middle" >LL LMA 2300-0000 UTC September 05, 2025</text>
<line x1="73.5" y1="130.50" x2="73.5" y2="125.70" stroke="#000" stroke-width="1.1"/>
<text x="73.50" y="141.90" font-size="10.8" text-anchor="middle" >23:00:00</text>
<line x1="176.5" y1="130.50" x2="176.5" y2="125.70" stroke="#000" stroke-width="1.1"/>
<text x="176.00" y="141.90" font-size="10.8" text-anchor="middle" >23:10:00</text>
<line x1="278.5" y1="130.50" x2="278.5" y2="125.70" stroke="#000" stroke-width="1.1"/>
<text x="278.50" y="141.90" font-size="10.8" text-anchor="middle" >23:20:00</text>
<line x1="381.5" y1="130.50" x2="381.5" y2="125.70" stroke="#000" stroke-width="1.1"/>
<text x="381.00" y="141.90" font-size="10.8" text-anchor="middle" >23:30:00</text>
<line x1="483.5" y1="130.50" x2="483.5" y2="125.70" stroke="#000" stroke-width="1.1"/>
<text x="483.50" y="141.90" font-size="10.8" text-anchor="middle" >23:40:00</text>
<line x1="586.5" y1="130.50" x2="586.5" y2="125.70" stroke="#000" stroke-width="1.1"/>
<text x="586.00" y="141.90" font-size="10.8" text-anchor="middle" >23:50:00</text>
<line x1="688.5" y1="130.50" x2="688.5" y2="125.70" stroke="#000" stroke-width="1.1"/>
<text x="688.50" y="141.90" font-size="10.8" text-anchor="middle" >24:00:00</text>
<line x1="73.50" y1="130.5" x2="78.30" y2="130.5" stroke="#000" stroke-width="1.1"/>
<text x="68.60" y="134.40" font-size="10.8" text-anchor="end" >0</text>
<line x1="73.50" y1="86.5" x2="78.30" y2="86.5" stroke="#000" stroke-width="1.1"/>
<text x="67.85" y="89.90" font-size="10.8" text-anchor="end" >10</text>
<line x1="73.50" y1="41.5" x2="78.30" y2="41.5" stroke="#000" stroke-width="1.1"/>
<text x="67.85" y="45.40" font-size="10.8" text-anchor="end" >20</text>
<text x="46.00" y="86.00" font-size="11.1" text-anchor="middle" transform="rotate(-90 46 86.0)">Altitude, km</text>
<line x1="73.5" y1="245.50" x2="73.5" y2="240.70" stroke="#000" stroke-width="1.1"/>
<text x="73.50" y="256.90" font-size="10.8" text-anchor="middle" >−400</text>
<line x1="134.5" y1="245.50" x2="134.5" y2="240.70" stroke="#000" stroke-width="1.1"/>
<text x="134.00" y="256.90" font-size="10.8" text-anchor="middle" >−300</text>
<line x1="194.5" y1="245.50" x2="194.5" y2="240.70" stroke="#000" stroke-width="1.1"/>
<text x="194.50" y="256.90" font-size="10.8" text-anchor="middle" >−200</text>
<line x1="255.5" y1="245.50" x2="255.5" y2="240.70" stroke="#000" stroke-width="1.1"/>
<text x="255.00" y="256.90" font-size="10.8" text-anchor="middle" >−100</text>
<line x1="315.5" y1="245.50" x2="315.5" y2="240.70" stroke="#000" stroke-width="1.1"/>
<text x="315.50" y="256.90" font-size="10.8" text-anchor="middle" >0</text>
<line x1="376.5" y1="245.50" x2="376.5" y2="240.70" stroke="#000" stroke-width="1.1"/>
<text x="376.00" y="256.90" font-size="10.8" text-anchor="middle" >100</text>
<line x1="436.5" y1="245.50" x2="436.5" y2="240.70" stroke="#000" stroke-width="1.1"/>
<text x="436.50" y="256.90" font-size="10.8" text-anchor="middle" >200</text>
<line x1="497.5" y1="245.50" x2="497.5" y2="240.70" stroke="#000" stroke-width="1.1"/>
<text x="497.00" y="256.90" font-size="10.8" text-anchor="middle" >300</text>
<line x1="557.5" y1="245.50" x2="557.5" y2="240.70" stroke="#000" stroke-width="1.1"/>
<text x="557.50" y="256.90" font-size="10.8" text-anchor="middle" >400</text>
<line x1="73.50" y1="245.5" x2="78.30" y2="245.5" stroke="#000" stroke-width="1.1"/>
<text x="68.60" y="249.40" font-size="10.8" text-anchor="end" >0</text>
<line x1="73.50" y1="201.5" x2="78.30" y2="201.5" stroke="#000" stroke-width="1.1"/>
<text x="67.85" y="205.40" font-size="10.8" text-anchor="end" >10</text>
<line x1="73.50" y1="157.5" x2="78.30" y2="157.5" stroke="#000" stroke-width="1.1"/>
<text x="67.85" y="161.40" font-size="10.8" text-anchor="end" >20</text>
<text x="46.00" y="202.20" font-size="11.1" text-anchor="middle" transform="rotate(-90 46 202.2)">Altitude, km</text>
<text x="315.50" y="264.50" font-size="11.1" text-anchor="middle" >East-West, km</text>
<line x1="595.5" y1="245.50" x2="595.5" y2="240.70" stroke="#000" stroke-width="1.1"/>
<text x="595.50" y="256.90" font-size="10.8" text-anchor="middle" >0</text>
<line x1="667.5" y1="245.50" x2="667.5" y2="240.70" stroke="#000" stroke-width="1.1"/>
<text x="667.50" y="256.90" font-size="10.8" text-anchor="middle" >500</text>
<line x1="595.50" y1="242.5" x2="600.30" y2="242.5" stroke="#000" stroke-width="1.1"/>
<text x="590.60" y="246.30" font-size="10.8" text-anchor="end" >0</text>
<line x1="595.50" y1="202.5" x2="600.30" y2="202.5" stroke="#000" stroke-width="1.1"/>
<text x="589.85" y="206.10" font-size="10.8" text-anchor="end" >10</text>
<line x1="595.50" y1="162.5" x2="600.30" y2="162.5" stroke="#000" stroke-width="1.1"/>
<text x="589.85" y="165.90" font-size="10.8" text-anchor="end" >20</text>
<text x="645.00" y="166.00" font-size="8.4" text-anchor="middle" >10,656 sources</text>
<line x1="102.5" y1="709.50" x2="102.5" y2="704.70" stroke="#000" stroke-width="1.1"/>
<text x="102.58" y="721.70" font-size="10.8" text-anchor="middle" >−111</text>
<line x1="158.5" y1="709.50" x2="158.5" y2="704.70" stroke="#000" stroke-width="1.1"/>
<text x="158.57" y="721.70" font-size="10.8" text-anchor="middle" >−110</text>
<line x1="214.5" y1="709.50" x2="214.5" y2="704.70" stroke="#000" stroke-width="1.1"/>
<text x="214.56" y="721.70" font-size="10.8" text-anchor="middle" >−109</text>
<line x1="270.5" y1="709.50" x2="270.5" y2="704.70" stroke="#000" stroke-width="1.1"/>
<text x="270.55" y="721.70" font-size="10.8" text-anchor="middle" >−108</text>
<line x1="326.5" y1="709.50" x2="326.5" y2="704.70" stroke="#000" stroke-width="1.1"/>
<text x="326.54" y="721.70" font-size="10.8" text-anchor="middle" >−107</text>
<line x1="382.5" y1="709.50" x2="382.5" y2="704.70" stroke="#000" stroke-width="1.1"/>
<text x="382.53" y="721.70" font-size="10.8" text-anchor="middle" >−106</text>
<line x1="438.5" y1="709.50" x2="438.5" y2="704.70" stroke="#000" stroke-width="1.1"/>
<text x="438.52" y="721.70" font-size="10.8" text-anchor="middle" >−105</text>
<line x1="494.5" y1="709.50" x2="494.5" y2="704.70" stroke="#000" stroke-width="1.1"/>
<text x="494.51" y="721.70" font-size="10.8" text-anchor="middle" >−104</text>
<line x1="550.5" y1="709.50" x2="550.5" y2="704.70" stroke="#000" stroke-width="1.1"/>
<text x="550.50" y="721.70" font-size="10.8" text-anchor="middle" >−103</text>
<line x1="73.50" y1="671.5" x2="78.30" y2="671.5" stroke="#000" stroke-width="1.1"/>
<text x="67.85" y="675.22" font-size="10.8" text-anchor="end" >31</text>
<line x1="73.50" y1="610.5" x2="78.30" y2="610.5" stroke="#000" stroke-width="1.1"/>
<text x="67.85" y="614.80" font-size="10.8" text-anchor="end" >32</text>
<line x1="73.50" y1="550.5" x2="78.30" y2="550.5" stroke="#000" stroke-width="1.1"/>
<text x="67.85" y="554.38" font-size="10.8" text-anchor="end" >33</text>
<line x1="73.50" y1="490.5" x2="78.30" y2="490.5" stroke="#000" stroke-width="1.1"/>
<text x="67.85" y="493.96" font-size="10.8" text-anchor="end" >34</text>
<line x1="73.50" y1="429.5" x2="78.30" y2="429.5" stroke="#000" stroke-width="1.1"/>
<text x="67.85" y="433.54" font-size="10.8" text-anchor="end" >35</text>
<line x1="73.50" y1="369.5" x2="78.30" y2="369.5" stroke="#000" stroke-width="1.1"/>
<text x="67.85" y="373.12" font-size="10.8" text-anchor="end" >36</text>
<line x1="73.50" y1="308.5" x2="78.30" y2="308.5" stroke="#000" stroke-width="1.1"/>
<text x="67.85" y="312.70" font-size="10.8" text-anchor="end" >37</text>
<text x="315.50" y="741.00" font-size="11.1" text-anchor="middle" >Longitude</text>
<text x="47.00" y="493.90" font-size="11.1" text-anchor="middle" transform="rotate(-90 47 493.9)">Latitude</text>
<line x1="595.5" y1="709.50" x2="595.5" y2="704.70" stroke="#000" stroke-width="1.1"/>
<text x="595.50" y="721.70" font-size="10.8" text-anchor="middle" >0</text>
<line x1="641.5" y1="709.50" x2="641.5" y2="704.70" stroke="#000" stroke-width="1.1"/>
<text x="641.00" y="721.70" font-size="10.8" text-anchor="middle" >10</text>
<line x1="688.5" y1="709.50" x2="688.5" y2="704.70" stroke="#000" stroke-width="1.1"/>
<text x="688.30" y="721.70" font-size="10.8" text-anchor="middle" >20</text>
<line x1="595.50" y1="709.5" x2="600.30" y2="709.5" stroke="#000" stroke-width="1.1"/>
<text x="588.35" y="712.97" font-size="10.8" text-anchor="end" >−400</text>
<line x1="595.50" y1="654.5" x2="600.30" y2="654.5" stroke="#000" stroke-width="1.1"/>
<text x="588.35" y="658.39" font-size="10.8" text-anchor="end" >−300</text>
<line x1="595.50" y1="599.5" x2="600.30" y2="599.5" stroke="#000" stroke-width="1.1"/>
<text x="588.35" y="603.81" font-size="10.8" text-anchor="end" >−200</text>
<line x1="595.50" y1="545.5" x2="600.30" y2="545.5" stroke="#000" stroke-width="1.1"/>
<text x="588.35" y="549.23" font-size="10.8" text-anchor="end" >−100</text>
<line x1="595.50" y1="490.5" x2="600.30" y2="490.5" stroke="#000" stroke-width="1.1"/>
<text x="590.60" y="494.65" font-size="10.8" text-anchor="end" >0</text>
<line x1="595.50" y1="436.5" x2="600.30" y2="436.5" stroke="#000" stroke-width="1.1"/>
<text x="589.10" y="440.07" font-size="10.8" text-anchor="end" >100</text>
<line x1="595.50" y1="381.5" x2="600.30" y2="381.5" stroke="#000" stroke-width="1.1"/>
<text x="589.10" y="385.49" font-size="10.8" text-anchor="end" >200</text>
<line x1="595.50" y1="327.5" x2="600.30" y2="327.5" stroke="#000" stroke-width="1.1"/>
<text x="589.10" y="330.91" font-size="10.8" text-anchor="end" >300</text>
<line x1="595.50" y1="272.5" x2="600.30" y2="272.5" stroke="#000" stroke-width="1.1"/>
<text x="589.10" y="276.33" font-size="10.8" text-anchor="end" >400</text>
<text x="641.00" y="741.00" font-size="11.1" text-anchor="middle" >Altitude, km</text>
<text x="701.00" y="491.80" font-size="11.1" text-anchor="middle" transform="rotate(-90 701 491.8)">North-South, km</text>
<rect x="73.5" y="41.5" width="615.00" height="89.00" fill="none" stroke="#000" stroke-width="1.1"/>
<rect x="73.5" y="157.5" width="484.00" height="88.00" fill="none" stroke="#000" stroke-width="1.1"/>
<rect x="595.5" y="157.5" width="93.00" height="88.00" fill="none" stroke="#000" stroke-width="1.1"/>
<rect x="73.5" y="273.5" width="484.00" height="436.00" fill="none" stroke="#000" stroke-width="1.1"/>
<rect x="595.5" y="273.5" width="93.00" height="436.00" fill="none" stroke="#000" stroke-width="1.1"/>
</svg></body></html>
